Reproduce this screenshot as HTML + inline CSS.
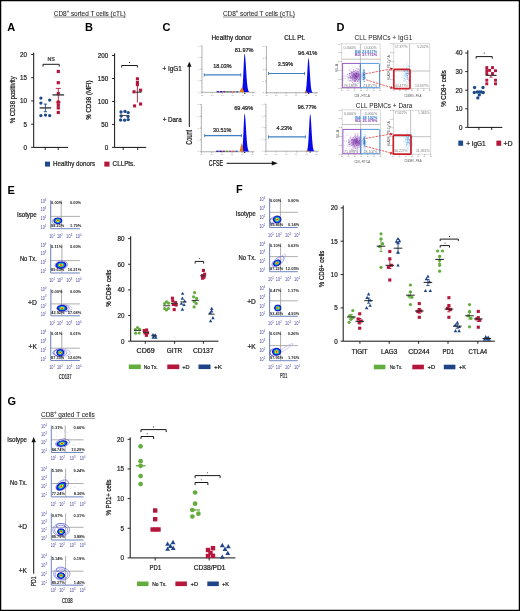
<!DOCTYPE html><html><head><meta charset="utf-8"><style>html,body{margin:0;padding:0;background:#fff;}svg{display:block;font-family:"Liberation Sans",sans-serif;will-change:transform;}</style></head><body>
<svg width="520" height="611" viewBox="0 0 520 611">
<defs><radialGradient id="blob" cx="50%" cy="50%" r="50%"><stop offset="0" stop-color="#e4101a"/><stop offset="0.14" stop-color="#f05a12"/><stop offset="0.26" stop-color="#eedc1c"/><stop offset="0.40" stop-color="#38c038"/><stop offset="0.52" stop-color="#14b4e6"/><stop offset="0.64" stop-color="#1638e4"/><stop offset="0.84" stop-color="#1414c4"/><stop offset="1" stop-color="#3a3ad0" stop-opacity="0.35"/></radialGradient><radialGradient id="purp" cx="50%" cy="50%" r="50%"><stop offset="0" stop-color="#7a2aa8" stop-opacity="0.95"/><stop offset="0.45" stop-color="#8d4ab8" stop-opacity="0.7"/><stop offset="1" stop-color="#b48ad0" stop-opacity="0"/></radialGradient><radialGradient id="lblue" cx="50%" cy="50%" r="50%"><stop offset="0" stop-color="#2a86d6" stop-opacity="0.95"/><stop offset="0.5" stop-color="#4a9ae0" stop-opacity="0.6"/><stop offset="1" stop-color="#8cc0ee" stop-opacity="0"/></radialGradient></defs>
<rect x="0.00" y="0.00" width="520.00" height="611.00" fill="#fff" stroke="none" stroke-width="1.00"/>
<text x="7.20" y="30.80" font-size="11" font-weight="bold" fill="#000">A</text>
<text x="85.00" y="30.60" font-size="11" font-weight="bold" fill="#000">B</text>
<text x="162.40" y="30.60" font-size="11" font-weight="bold" fill="#000">C</text>
<text x="336.60" y="30.80" font-size="11" font-weight="bold" fill="#000">D</text>
<text x="7.60" y="193.50" font-size="11" font-weight="bold" fill="#000">E</text>
<text x="236.00" y="193.40" font-size="11" font-weight="bold" fill="#000">F</text>
<text x="7.60" y="405.20" font-size="11" font-weight="bold" fill="#000">G</text>
<text x="53.80" y="16.09" font-size="7.00" fill="#2a2a2a" stroke="#2a2a2a" stroke-width="0.08" textLength="71.80" lengthAdjust="spacingAndGlyphs">CD8<tspan font-size="4.6" dy="-3.0">+</tspan><tspan dy="3.0"> sorted T cells (cTL)</tspan></text>
<line x1="53.80" y1="17.00" x2="125.60" y2="17.00" stroke="#666" stroke-width="0.70"/>
<line x1="33.70" y1="52.60" x2="33.70" y2="147.40" stroke="#111" stroke-width="1.00"/>
<line x1="31.10" y1="54.50" x2="33.70" y2="54.50" stroke="#111" stroke-width="0.90"/>
<text x="27.10" y="56.99" font-size="7.00" text-anchor="end" fill="#222" stroke="#222" stroke-width="0.22" textLength="7.00" lengthAdjust="spacingAndGlyphs">20</text>
<line x1="31.10" y1="77.73" x2="33.70" y2="77.73" stroke="#111" stroke-width="0.90"/>
<text x="27.10" y="80.21" font-size="7.00" text-anchor="end" fill="#222" stroke="#222" stroke-width="0.22" textLength="7.00" lengthAdjust="spacingAndGlyphs">15</text>
<line x1="31.10" y1="100.95" x2="33.70" y2="100.95" stroke="#111" stroke-width="0.90"/>
<text x="27.10" y="103.44" font-size="7.00" text-anchor="end" fill="#222" stroke="#222" stroke-width="0.22" textLength="7.00" lengthAdjust="spacingAndGlyphs">10</text>
<line x1="31.10" y1="124.18" x2="33.70" y2="124.18" stroke="#111" stroke-width="0.90"/>
<text x="27.10" y="126.66" font-size="7.00" text-anchor="end" fill="#222" stroke="#222" stroke-width="0.22" textLength="3.50" lengthAdjust="spacingAndGlyphs">5</text>
<line x1="31.10" y1="147.40" x2="33.70" y2="147.40" stroke="#111" stroke-width="0.90"/>
<text x="27.10" y="149.89" font-size="7.00" text-anchor="end" fill="#222" stroke="#222" stroke-width="0.22" textLength="3.50" lengthAdjust="spacingAndGlyphs">0</text>
<line x1="33.70" y1="147.40" x2="68.00" y2="147.40" stroke="#111" stroke-width="1.00"/>
<line x1="45.20" y1="147.40" x2="45.20" y2="150.00" stroke="#111" stroke-width="0.90"/>
<line x1="58.20" y1="147.40" x2="58.20" y2="150.00" stroke="#111" stroke-width="0.90"/>
<text transform="translate(11.80 99.80) rotate(-90)" x="0" y="2.70" font-size="7.60" text-anchor="middle" fill="#111" stroke="#111" stroke-width="0.22" textLength="47.00" lengthAdjust="spacingAndGlyphs">% CD38 positivity</text>
<path d="M43.00 66.60L43.00 64.30L59.20 64.30L59.20 66.60" fill="none" stroke="#1a1a1a" stroke-width="1.00"/>
<text x="51.10" y="61.48" font-size="5.30" text-anchor="middle" fill="#333" stroke="#333" stroke-width="0.22">NS</text>
<circle cx="40.90" cy="98.10" r="1.65" fill="#1d4a8a"/>
<circle cx="49.70" cy="100.10" r="1.65" fill="#1d4a8a"/>
<circle cx="40.90" cy="103.10" r="1.65" fill="#1d4a8a"/>
<circle cx="40.90" cy="115.60" r="1.65" fill="#1d4a8a"/>
<circle cx="45.50" cy="115.10" r="1.65" fill="#1d4a8a"/>
<circle cx="49.70" cy="115.60" r="1.65" fill="#1d4a8a"/>
<line x1="45.40" y1="104.10" x2="45.40" y2="111.70" stroke="#1d4a8a" stroke-width="0.90"/>
<line x1="43.80" y1="104.10" x2="47.00" y2="104.10" stroke="#1d4a8a" stroke-width="0.90"/>
<line x1="43.80" y1="111.70" x2="47.00" y2="111.70" stroke="#1d4a8a" stroke-width="0.90"/>
<line x1="39.60" y1="107.90" x2="51.20" y2="107.90" stroke="#3a3a3a" stroke-width="1.40"/>
<rect x="56.70" y="69.90" width="3.20" height="3.20" fill="#b4163c"/>
<rect x="56.70" y="81.10" width="3.20" height="3.20" fill="#b4163c"/>
<rect x="56.70" y="92.00" width="3.20" height="3.20" fill="#b4163c"/>
<rect x="56.70" y="100.50" width="3.20" height="3.20" fill="#b4163c"/>
<rect x="56.70" y="103.40" width="3.20" height="3.20" fill="#b4163c"/>
<rect x="56.70" y="106.30" width="3.20" height="3.20" fill="#b4163c"/>
<rect x="56.70" y="110.90" width="3.20" height="3.20" fill="#b4163c"/>
<line x1="58.30" y1="88.40" x2="58.30" y2="102.10" stroke="#b4163c" stroke-width="0.90"/>
<line x1="55.80" y1="88.40" x2="60.80" y2="88.40" stroke="#b4163c" stroke-width="0.90"/>
<line x1="55.80" y1="102.10" x2="60.80" y2="102.10" stroke="#b4163c" stroke-width="0.90"/>
<line x1="52.50" y1="94.90" x2="64.10" y2="94.90" stroke="#3a3a3a" stroke-width="1.40"/>
<rect x="45.00" y="161.60" width="5.00" height="5.00" fill="#1d4a8a" stroke="none" stroke-width="1.00"/>
<text x="53.10" y="166.49" font-size="7.00" fill="#222" stroke="#222" stroke-width="0.22" textLength="42.00" lengthAdjust="spacingAndGlyphs">Healthy donors</text>
<rect x="104.30" y="161.60" width="5.20" height="5.00" fill="#b4163c" stroke="none" stroke-width="1.00"/>
<text x="112.60" y="166.49" font-size="7.00" fill="#222" stroke="#222" stroke-width="0.22" textLength="22.40" lengthAdjust="spacingAndGlyphs">CLLPts.</text>
<line x1="114.60" y1="53.40" x2="114.60" y2="147.40" stroke="#111" stroke-width="1.00"/>
<line x1="112.00" y1="55.50" x2="114.60" y2="55.50" stroke="#111" stroke-width="0.90"/>
<text x="108.20" y="57.98" font-size="7.00" text-anchor="end" fill="#222" stroke="#222" stroke-width="0.22" textLength="10.50" lengthAdjust="spacingAndGlyphs">200</text>
<line x1="112.00" y1="78.48" x2="114.60" y2="78.48" stroke="#111" stroke-width="0.90"/>
<text x="108.20" y="80.96" font-size="7.00" text-anchor="end" fill="#222" stroke="#222" stroke-width="0.22" textLength="10.50" lengthAdjust="spacingAndGlyphs">150</text>
<line x1="112.00" y1="101.45" x2="114.60" y2="101.45" stroke="#111" stroke-width="0.90"/>
<text x="108.20" y="103.94" font-size="7.00" text-anchor="end" fill="#222" stroke="#222" stroke-width="0.22" textLength="10.50" lengthAdjust="spacingAndGlyphs">100</text>
<line x1="112.00" y1="124.43" x2="114.60" y2="124.43" stroke="#111" stroke-width="0.90"/>
<text x="108.20" y="126.91" font-size="7.00" text-anchor="end" fill="#222" stroke="#222" stroke-width="0.22" textLength="7.00" lengthAdjust="spacingAndGlyphs">50</text>
<line x1="112.00" y1="147.40" x2="114.60" y2="147.40" stroke="#111" stroke-width="0.90"/>
<text x="108.20" y="149.89" font-size="7.00" text-anchor="end" fill="#222" stroke="#222" stroke-width="0.22" textLength="3.50" lengthAdjust="spacingAndGlyphs">0</text>
<line x1="114.60" y1="147.40" x2="146.20" y2="147.40" stroke="#111" stroke-width="1.00"/>
<line x1="123.20" y1="147.40" x2="123.20" y2="150.00" stroke="#111" stroke-width="0.90"/>
<line x1="137.70" y1="147.40" x2="137.70" y2="150.00" stroke="#111" stroke-width="0.90"/>
<text transform="translate(88.20 100.10) rotate(-90)" x="0" y="2.70" font-size="7.60" text-anchor="middle" fill="#111" stroke="#111" stroke-width="0.22" textLength="39.40" lengthAdjust="spacingAndGlyphs">% CD38 (MFI)</text>
<path d="M121.70 67.50L121.70 65.50L137.40 65.50L137.40 67.50" fill="none" stroke="#1a1a1a" stroke-width="1.00"/>
<circle cx="129.50" cy="62.40" r="0.55" fill="#222"/>
<circle cx="121.00" cy="112.00" r="1.65" fill="#1d4a8a"/>
<circle cx="125.00" cy="111.40" r="1.65" fill="#1d4a8a"/>
<circle cx="128.20" cy="112.60" r="1.65" fill="#1d4a8a"/>
<circle cx="121.20" cy="116.00" r="1.65" fill="#1d4a8a"/>
<circle cx="128.00" cy="116.40" r="1.65" fill="#1d4a8a"/>
<circle cx="120.60" cy="120.00" r="1.65" fill="#1d4a8a"/>
<circle cx="124.60" cy="120.20" r="1.65" fill="#1d4a8a"/>
<circle cx="128.20" cy="119.60" r="1.65" fill="#1d4a8a"/>
<line x1="119.50" y1="115.60" x2="128.50" y2="115.60" stroke="#444" stroke-width="1.00"/>
<line x1="137.40" y1="84.00" x2="137.40" y2="102.50" stroke="#b4163c" stroke-width="0.90"/>
<rect x="135.85" y="77.25" width="3.10" height="3.10" fill="#b4163c"/>
<rect x="135.85" y="80.95" width="3.10" height="3.10" fill="#b4163c"/>
<rect x="135.85" y="83.05" width="3.10" height="3.10" fill="#b4163c"/>
<rect x="132.45" y="90.25" width="3.10" height="3.10" fill="#b4163c"/>
<rect x="139.05" y="88.65" width="3.10" height="3.10" fill="#b4163c"/>
<rect x="133.05" y="104.35" width="3.10" height="3.10" fill="#b4163c"/>
<rect x="139.05" y="102.45" width="3.10" height="3.10" fill="#b4163c"/>
<line x1="135.50" y1="92.20" x2="141.50" y2="92.20" stroke="#222" stroke-width="1.00"/>
<text x="222.90" y="16.09" font-size="7.00" fill="#2a2a2a" stroke="#2a2a2a" stroke-width="0.08" textLength="72.00" lengthAdjust="spacingAndGlyphs">CD8<tspan font-size="4.6" dy="-3.0">+</tspan><tspan dy="3.0"> sorted T cells (cTL)</tspan></text>
<line x1="222.90" y1="17.00" x2="294.90" y2="17.00" stroke="#666" stroke-width="0.70"/>
<text x="211.50" y="39.61" font-size="6.50" fill="#222" stroke="#222" stroke-width="0.22" textLength="39.80" lengthAdjust="spacingAndGlyphs">Healthy donor</text>
<text x="284.20" y="39.61" font-size="6.50" fill="#222" stroke="#222" stroke-width="0.22" textLength="20.80" lengthAdjust="spacingAndGlyphs">CLL Pt.</text>
<text x="162.50" y="71.31" font-size="6.50" fill="#222" stroke="#222" stroke-width="0.22" textLength="19.20" lengthAdjust="spacingAndGlyphs">+ IgG1</text>
<text x="162.70" y="122.31" font-size="6.50" fill="#222" stroke="#222" stroke-width="0.22" textLength="19.00" lengthAdjust="spacingAndGlyphs">+ Dara</text>
<line x1="189.30" y1="65.00" x2="189.30" y2="127.00" stroke="#111" stroke-width="1.00"/>
<path d="M189.3 61.8L191.5 66.8L187.1 66.8Z" fill="#111" stroke="none" stroke-width="1.00"/>
<text transform="translate(189.20 137.30) rotate(-90)" x="0" y="2.98" font-size="8.40" text-anchor="middle" fill="#111" stroke="#111" stroke-width="0.22" textLength="14.80" lengthAdjust="spacingAndGlyphs">Count</text>
<text x="208.80" y="166.08" font-size="8.40" fill="#111" stroke="#111" stroke-width="0.22" textLength="14.20" lengthAdjust="spacingAndGlyphs">CFSE</text>
<line x1="226.60" y1="163.30" x2="272.50" y2="163.30" stroke="#111" stroke-width="1.00"/>
<path d="M277.8 163.3L271.8 161.0L271.8 165.6Z" fill="#111" stroke="none" stroke-width="1.00"/>
<line x1="202.00" y1="45.80" x2="202.00" y2="92.30" stroke="#9a9a9a" stroke-width="0.70"/>
<line x1="202.00" y1="92.30" x2="255.00" y2="92.30" stroke="#9a9a9a" stroke-width="0.70"/>
<line x1="200.40" y1="45.80" x2="202.00" y2="45.80" stroke="#8a8a8a" stroke-width="0.60"/>
<text x="199.40" y="46.58" font-size="2.20" text-anchor="end" fill="#777">1</text>
<line x1="200.40" y1="57.42" x2="202.00" y2="57.42" stroke="#8a8a8a" stroke-width="0.60"/>
<text x="199.40" y="58.21" font-size="2.20" text-anchor="end" fill="#777">1</text>
<line x1="200.40" y1="69.05" x2="202.00" y2="69.05" stroke="#8a8a8a" stroke-width="0.60"/>
<text x="199.40" y="69.83" font-size="2.20" text-anchor="end" fill="#777">1</text>
<line x1="200.40" y1="80.67" x2="202.00" y2="80.67" stroke="#8a8a8a" stroke-width="0.60"/>
<text x="199.40" y="81.46" font-size="2.20" text-anchor="end" fill="#777">1</text>
<line x1="200.40" y1="92.30" x2="202.00" y2="92.30" stroke="#8a8a8a" stroke-width="0.60"/>
<text x="199.40" y="93.08" font-size="2.20" text-anchor="end" fill="#777">1</text>
<line x1="201.20" y1="48.12" x2="202.00" y2="48.12" stroke="#b0b0b0" stroke-width="0.40"/>
<line x1="201.20" y1="50.45" x2="202.00" y2="50.45" stroke="#b0b0b0" stroke-width="0.40"/>
<line x1="201.20" y1="52.77" x2="202.00" y2="52.77" stroke="#b0b0b0" stroke-width="0.40"/>
<line x1="201.20" y1="55.10" x2="202.00" y2="55.10" stroke="#b0b0b0" stroke-width="0.40"/>
<line x1="201.20" y1="57.42" x2="202.00" y2="57.42" stroke="#b0b0b0" stroke-width="0.40"/>
<line x1="201.20" y1="59.75" x2="202.00" y2="59.75" stroke="#b0b0b0" stroke-width="0.40"/>
<line x1="201.20" y1="62.07" x2="202.00" y2="62.07" stroke="#b0b0b0" stroke-width="0.40"/>
<line x1="201.20" y1="64.40" x2="202.00" y2="64.40" stroke="#b0b0b0" stroke-width="0.40"/>
<line x1="201.20" y1="66.72" x2="202.00" y2="66.72" stroke="#b0b0b0" stroke-width="0.40"/>
<line x1="201.20" y1="69.05" x2="202.00" y2="69.05" stroke="#b0b0b0" stroke-width="0.40"/>
<line x1="201.20" y1="71.38" x2="202.00" y2="71.38" stroke="#b0b0b0" stroke-width="0.40"/>
<line x1="201.20" y1="73.70" x2="202.00" y2="73.70" stroke="#b0b0b0" stroke-width="0.40"/>
<line x1="201.20" y1="76.03" x2="202.00" y2="76.03" stroke="#b0b0b0" stroke-width="0.40"/>
<line x1="201.20" y1="78.35" x2="202.00" y2="78.35" stroke="#b0b0b0" stroke-width="0.40"/>
<line x1="201.20" y1="80.67" x2="202.00" y2="80.67" stroke="#b0b0b0" stroke-width="0.40"/>
<line x1="201.20" y1="83.00" x2="202.00" y2="83.00" stroke="#b0b0b0" stroke-width="0.40"/>
<line x1="201.20" y1="85.32" x2="202.00" y2="85.32" stroke="#b0b0b0" stroke-width="0.40"/>
<line x1="201.20" y1="87.65" x2="202.00" y2="87.65" stroke="#b0b0b0" stroke-width="0.40"/>
<line x1="201.20" y1="89.97" x2="202.00" y2="89.97" stroke="#b0b0b0" stroke-width="0.40"/>
<line x1="202.00" y1="92.30" x2="202.00" y2="93.70" stroke="#8a8a8a" stroke-width="0.60"/>
<text x="202.00" y="95.61" font-size="2.00" text-anchor="middle" fill="#888">10</text>
<line x1="212.20" y1="92.30" x2="212.20" y2="93.70" stroke="#8a8a8a" stroke-width="0.60"/>
<text x="212.20" y="95.61" font-size="2.00" text-anchor="middle" fill="#888">10</text>
<line x1="222.40" y1="92.30" x2="222.40" y2="93.70" stroke="#8a8a8a" stroke-width="0.60"/>
<text x="222.40" y="95.61" font-size="2.00" text-anchor="middle" fill="#888">10</text>
<line x1="232.60" y1="92.30" x2="232.60" y2="93.70" stroke="#8a8a8a" stroke-width="0.60"/>
<text x="232.60" y="95.61" font-size="2.00" text-anchor="middle" fill="#888">10</text>
<line x1="242.80" y1="92.30" x2="242.80" y2="93.70" stroke="#8a8a8a" stroke-width="0.60"/>
<text x="242.80" y="95.61" font-size="2.00" text-anchor="middle" fill="#888">10</text>
<line x1="253.00" y1="92.30" x2="253.00" y2="93.70" stroke="#8a8a8a" stroke-width="0.60"/>
<text x="253.00" y="95.61" font-size="2.00" text-anchor="middle" fill="#888">10</text>
<line x1="203.77" y1="92.30" x2="203.77" y2="93.00" stroke="#b0b0b0" stroke-width="0.40"/>
<line x1="205.53" y1="92.30" x2="205.53" y2="93.00" stroke="#b0b0b0" stroke-width="0.40"/>
<line x1="207.30" y1="92.30" x2="207.30" y2="93.00" stroke="#b0b0b0" stroke-width="0.40"/>
<line x1="209.07" y1="92.30" x2="209.07" y2="93.00" stroke="#b0b0b0" stroke-width="0.40"/>
<line x1="210.83" y1="92.30" x2="210.83" y2="93.00" stroke="#b0b0b0" stroke-width="0.40"/>
<line x1="212.60" y1="92.30" x2="212.60" y2="93.00" stroke="#b0b0b0" stroke-width="0.40"/>
<line x1="214.37" y1="92.30" x2="214.37" y2="93.00" stroke="#b0b0b0" stroke-width="0.40"/>
<line x1="216.13" y1="92.30" x2="216.13" y2="93.00" stroke="#b0b0b0" stroke-width="0.40"/>
<line x1="217.90" y1="92.30" x2="217.90" y2="93.00" stroke="#b0b0b0" stroke-width="0.40"/>
<line x1="219.67" y1="92.30" x2="219.67" y2="93.00" stroke="#b0b0b0" stroke-width="0.40"/>
<line x1="221.43" y1="92.30" x2="221.43" y2="93.00" stroke="#b0b0b0" stroke-width="0.40"/>
<line x1="223.20" y1="92.30" x2="223.20" y2="93.00" stroke="#b0b0b0" stroke-width="0.40"/>
<line x1="224.97" y1="92.30" x2="224.97" y2="93.00" stroke="#b0b0b0" stroke-width="0.40"/>
<line x1="226.73" y1="92.30" x2="226.73" y2="93.00" stroke="#b0b0b0" stroke-width="0.40"/>
<line x1="228.50" y1="92.30" x2="228.50" y2="93.00" stroke="#b0b0b0" stroke-width="0.40"/>
<line x1="230.27" y1="92.30" x2="230.27" y2="93.00" stroke="#b0b0b0" stroke-width="0.40"/>
<line x1="232.03" y1="92.30" x2="232.03" y2="93.00" stroke="#b0b0b0" stroke-width="0.40"/>
<line x1="233.80" y1="92.30" x2="233.80" y2="93.00" stroke="#b0b0b0" stroke-width="0.40"/>
<line x1="235.57" y1="92.30" x2="235.57" y2="93.00" stroke="#b0b0b0" stroke-width="0.40"/>
<line x1="237.33" y1="92.30" x2="237.33" y2="93.00" stroke="#b0b0b0" stroke-width="0.40"/>
<line x1="239.10" y1="92.30" x2="239.10" y2="93.00" stroke="#b0b0b0" stroke-width="0.40"/>
<line x1="240.87" y1="92.30" x2="240.87" y2="93.00" stroke="#b0b0b0" stroke-width="0.40"/>
<line x1="242.63" y1="92.30" x2="242.63" y2="93.00" stroke="#b0b0b0" stroke-width="0.40"/>
<line x1="244.40" y1="92.30" x2="244.40" y2="93.00" stroke="#b0b0b0" stroke-width="0.40"/>
<line x1="246.17" y1="92.30" x2="246.17" y2="93.00" stroke="#b0b0b0" stroke-width="0.40"/>
<line x1="247.93" y1="92.30" x2="247.93" y2="93.00" stroke="#b0b0b0" stroke-width="0.40"/>
<line x1="249.70" y1="92.30" x2="249.70" y2="93.00" stroke="#b0b0b0" stroke-width="0.40"/>
<line x1="251.47" y1="92.30" x2="251.47" y2="93.00" stroke="#b0b0b0" stroke-width="0.40"/>
<line x1="253.23" y1="92.30" x2="253.23" y2="93.00" stroke="#b0b0b0" stroke-width="0.40"/>
<ellipse cx="218.00" cy="91.80" rx="1.6" ry="0.7" fill="#3a1a9a"/>
<ellipse cx="221.20" cy="91.80" rx="1.6" ry="0.7" fill="#1a1a8a"/>
<ellipse cx="224.40" cy="91.80" rx="1.6" ry="0.7" fill="#8a1a6a"/>
<ellipse cx="227.60" cy="91.80" rx="1.6" ry="0.7" fill="#3a9a3a"/>
<ellipse cx="230.80" cy="91.80" rx="1.6" ry="0.7" fill="#9a3aaa"/>
<ellipse cx="234.00" cy="91.80" rx="1.6" ry="0.7" fill="#c06020"/>
<ellipse cx="237.20" cy="91.80" rx="1.6" ry="0.7" fill="#3a60c0"/>
<path d="M241.24 92.00L241.24 91.77L241.38 91.65L241.52 91.48L241.66 91.24L241.80 90.91L241.94 90.45L242.08 89.85L242.22 89.07L242.36 88.07L242.50 86.82L242.64 85.29L242.78 83.47L242.92 81.35L243.06 78.94L243.20 76.25L243.34 73.36L243.48 70.32L243.62 67.22L243.76 64.19L243.90 61.33L244.04 58.78L244.18 56.64L244.32 55.04L244.46 54.04L244.60 53.70L244.79 54.04L244.99 55.04L245.18 56.64L245.37 58.78L245.57 61.33L245.76 64.19L245.95 67.22L246.15 70.32L246.34 73.36L246.53 76.25L246.73 78.94L246.92 81.35L247.11 83.47L247.31 85.29L247.50 86.82L247.69 88.07L247.89 89.07L248.08 89.85L248.27 90.45L248.47 90.91L248.66 91.24L248.85 91.48L249.05 91.65L249.24 91.77L249.24 92.00Z" fill="#0a0ae6" stroke="none" stroke-width="1.00"/>
<path d="M239.2 92.0 C240.2 90.5 241.2 88 242.0 87.2 C242.8 88.5 243.5 90.5 244.2 92.0Z" fill="#e8780e" stroke="none" stroke-width="1.00"/>
<ellipse cx="244.80" cy="93.10" rx="0.8" ry="0.6" fill="#111"/>
<line x1="204.20" y1="74.90" x2="240.80" y2="74.90" stroke="#3f7fc6" stroke-width="1.10"/>
<line x1="204.20" y1="73.30" x2="204.20" y2="76.50" stroke="#3f7fc6" stroke-width="0.90"/>
<line x1="240.80" y1="73.30" x2="240.80" y2="76.50" stroke="#3f7fc6" stroke-width="0.90"/>
<text x="213.20" y="67.53" font-size="6.00" fill="#222" stroke="#222" stroke-width="0.22" textLength="18.40" lengthAdjust="spacingAndGlyphs">18.03%</text>
<text x="234.70" y="52.13" font-size="6.00" fill="#222" stroke="#222" stroke-width="0.22" textLength="18.80" lengthAdjust="spacingAndGlyphs">81.97%</text>
<line x1="266.50" y1="46.50" x2="266.50" y2="92.70" stroke="#9a9a9a" stroke-width="0.70"/>
<line x1="266.50" y1="92.70" x2="317.80" y2="92.70" stroke="#9a9a9a" stroke-width="0.70"/>
<line x1="264.90" y1="46.50" x2="266.50" y2="46.50" stroke="#8a8a8a" stroke-width="0.60"/>
<text x="263.90" y="47.28" font-size="2.20" text-anchor="end" fill="#777">1</text>
<line x1="264.90" y1="58.05" x2="266.50" y2="58.05" stroke="#8a8a8a" stroke-width="0.60"/>
<text x="263.90" y="58.83" font-size="2.20" text-anchor="end" fill="#777">1</text>
<line x1="264.90" y1="69.60" x2="266.50" y2="69.60" stroke="#8a8a8a" stroke-width="0.60"/>
<text x="263.90" y="70.38" font-size="2.20" text-anchor="end" fill="#777">1</text>
<line x1="264.90" y1="81.15" x2="266.50" y2="81.15" stroke="#8a8a8a" stroke-width="0.60"/>
<text x="263.90" y="81.93" font-size="2.20" text-anchor="end" fill="#777">1</text>
<line x1="264.90" y1="92.70" x2="266.50" y2="92.70" stroke="#8a8a8a" stroke-width="0.60"/>
<text x="263.90" y="93.48" font-size="2.20" text-anchor="end" fill="#777">1</text>
<line x1="265.70" y1="48.81" x2="266.50" y2="48.81" stroke="#b0b0b0" stroke-width="0.40"/>
<line x1="265.70" y1="51.12" x2="266.50" y2="51.12" stroke="#b0b0b0" stroke-width="0.40"/>
<line x1="265.70" y1="53.43" x2="266.50" y2="53.43" stroke="#b0b0b0" stroke-width="0.40"/>
<line x1="265.70" y1="55.74" x2="266.50" y2="55.74" stroke="#b0b0b0" stroke-width="0.40"/>
<line x1="265.70" y1="58.05" x2="266.50" y2="58.05" stroke="#b0b0b0" stroke-width="0.40"/>
<line x1="265.70" y1="60.36" x2="266.50" y2="60.36" stroke="#b0b0b0" stroke-width="0.40"/>
<line x1="265.70" y1="62.67" x2="266.50" y2="62.67" stroke="#b0b0b0" stroke-width="0.40"/>
<line x1="265.70" y1="64.98" x2="266.50" y2="64.98" stroke="#b0b0b0" stroke-width="0.40"/>
<line x1="265.70" y1="67.29" x2="266.50" y2="67.29" stroke="#b0b0b0" stroke-width="0.40"/>
<line x1="265.70" y1="69.60" x2="266.50" y2="69.60" stroke="#b0b0b0" stroke-width="0.40"/>
<line x1="265.70" y1="71.91" x2="266.50" y2="71.91" stroke="#b0b0b0" stroke-width="0.40"/>
<line x1="265.70" y1="74.22" x2="266.50" y2="74.22" stroke="#b0b0b0" stroke-width="0.40"/>
<line x1="265.70" y1="76.53" x2="266.50" y2="76.53" stroke="#b0b0b0" stroke-width="0.40"/>
<line x1="265.70" y1="78.84" x2="266.50" y2="78.84" stroke="#b0b0b0" stroke-width="0.40"/>
<line x1="265.70" y1="81.15" x2="266.50" y2="81.15" stroke="#b0b0b0" stroke-width="0.40"/>
<line x1="265.70" y1="83.46" x2="266.50" y2="83.46" stroke="#b0b0b0" stroke-width="0.40"/>
<line x1="265.70" y1="85.77" x2="266.50" y2="85.77" stroke="#b0b0b0" stroke-width="0.40"/>
<line x1="265.70" y1="88.08" x2="266.50" y2="88.08" stroke="#b0b0b0" stroke-width="0.40"/>
<line x1="265.70" y1="90.39" x2="266.50" y2="90.39" stroke="#b0b0b0" stroke-width="0.40"/>
<line x1="266.50" y1="92.70" x2="266.50" y2="94.10" stroke="#8a8a8a" stroke-width="0.60"/>
<text x="266.50" y="96.01" font-size="2.00" text-anchor="middle" fill="#888">10</text>
<line x1="276.36" y1="92.70" x2="276.36" y2="94.10" stroke="#8a8a8a" stroke-width="0.60"/>
<text x="276.36" y="96.01" font-size="2.00" text-anchor="middle" fill="#888">10</text>
<line x1="286.22" y1="92.70" x2="286.22" y2="94.10" stroke="#8a8a8a" stroke-width="0.60"/>
<text x="286.22" y="96.01" font-size="2.00" text-anchor="middle" fill="#888">10</text>
<line x1="296.08" y1="92.70" x2="296.08" y2="94.10" stroke="#8a8a8a" stroke-width="0.60"/>
<text x="296.08" y="96.01" font-size="2.00" text-anchor="middle" fill="#888">10</text>
<line x1="305.94" y1="92.70" x2="305.94" y2="94.10" stroke="#8a8a8a" stroke-width="0.60"/>
<text x="305.94" y="96.01" font-size="2.00" text-anchor="middle" fill="#888">10</text>
<line x1="315.80" y1="92.70" x2="315.80" y2="94.10" stroke="#8a8a8a" stroke-width="0.60"/>
<text x="315.80" y="96.01" font-size="2.00" text-anchor="middle" fill="#888">10</text>
<line x1="268.21" y1="92.70" x2="268.21" y2="93.40" stroke="#b0b0b0" stroke-width="0.40"/>
<line x1="269.92" y1="92.70" x2="269.92" y2="93.40" stroke="#b0b0b0" stroke-width="0.40"/>
<line x1="271.63" y1="92.70" x2="271.63" y2="93.40" stroke="#b0b0b0" stroke-width="0.40"/>
<line x1="273.34" y1="92.70" x2="273.34" y2="93.40" stroke="#b0b0b0" stroke-width="0.40"/>
<line x1="275.05" y1="92.70" x2="275.05" y2="93.40" stroke="#b0b0b0" stroke-width="0.40"/>
<line x1="276.76" y1="92.70" x2="276.76" y2="93.40" stroke="#b0b0b0" stroke-width="0.40"/>
<line x1="278.47" y1="92.70" x2="278.47" y2="93.40" stroke="#b0b0b0" stroke-width="0.40"/>
<line x1="280.18" y1="92.70" x2="280.18" y2="93.40" stroke="#b0b0b0" stroke-width="0.40"/>
<line x1="281.89" y1="92.70" x2="281.89" y2="93.40" stroke="#b0b0b0" stroke-width="0.40"/>
<line x1="283.60" y1="92.70" x2="283.60" y2="93.40" stroke="#b0b0b0" stroke-width="0.40"/>
<line x1="285.31" y1="92.70" x2="285.31" y2="93.40" stroke="#b0b0b0" stroke-width="0.40"/>
<line x1="287.02" y1="92.70" x2="287.02" y2="93.40" stroke="#b0b0b0" stroke-width="0.40"/>
<line x1="288.73" y1="92.70" x2="288.73" y2="93.40" stroke="#b0b0b0" stroke-width="0.40"/>
<line x1="290.44" y1="92.70" x2="290.44" y2="93.40" stroke="#b0b0b0" stroke-width="0.40"/>
<line x1="292.15" y1="92.70" x2="292.15" y2="93.40" stroke="#b0b0b0" stroke-width="0.40"/>
<line x1="293.86" y1="92.70" x2="293.86" y2="93.40" stroke="#b0b0b0" stroke-width="0.40"/>
<line x1="295.57" y1="92.70" x2="295.57" y2="93.40" stroke="#b0b0b0" stroke-width="0.40"/>
<line x1="297.28" y1="92.70" x2="297.28" y2="93.40" stroke="#b0b0b0" stroke-width="0.40"/>
<line x1="298.99" y1="92.70" x2="298.99" y2="93.40" stroke="#b0b0b0" stroke-width="0.40"/>
<line x1="300.70" y1="92.70" x2="300.70" y2="93.40" stroke="#b0b0b0" stroke-width="0.40"/>
<line x1="302.41" y1="92.70" x2="302.41" y2="93.40" stroke="#b0b0b0" stroke-width="0.40"/>
<line x1="304.12" y1="92.70" x2="304.12" y2="93.40" stroke="#b0b0b0" stroke-width="0.40"/>
<line x1="305.83" y1="92.70" x2="305.83" y2="93.40" stroke="#b0b0b0" stroke-width="0.40"/>
<line x1="307.54" y1="92.70" x2="307.54" y2="93.40" stroke="#b0b0b0" stroke-width="0.40"/>
<line x1="309.25" y1="92.70" x2="309.25" y2="93.40" stroke="#b0b0b0" stroke-width="0.40"/>
<line x1="310.96" y1="92.70" x2="310.96" y2="93.40" stroke="#b0b0b0" stroke-width="0.40"/>
<line x1="312.67" y1="92.70" x2="312.67" y2="93.40" stroke="#b0b0b0" stroke-width="0.40"/>
<line x1="314.38" y1="92.70" x2="314.38" y2="93.40" stroke="#b0b0b0" stroke-width="0.40"/>
<line x1="316.09" y1="92.70" x2="316.09" y2="93.40" stroke="#b0b0b0" stroke-width="0.40"/>
<path d="M304.82 92.70L304.82 92.49L304.97 92.39L305.13 92.23L305.28 92.01L305.43 91.71L305.59 91.30L305.74 90.76L305.89 90.05L306.05 89.15L306.20 88.02L306.35 86.64L306.51 85.00L306.66 83.08L306.81 80.90L306.97 78.48L307.12 75.86L307.27 73.11L307.43 70.32L307.58 67.58L307.73 64.99L307.89 62.69L308.04 60.76L308.19 59.31L308.35 58.41L308.50 58.10L308.67 58.41L308.85 59.31L309.02 60.76L309.19 62.69L309.37 64.99L309.54 67.58L309.71 70.32L309.89 73.11L310.06 75.86L310.23 78.48L310.41 80.90L310.58 83.08L310.75 85.00L310.93 86.64L311.10 88.02L311.27 89.15L311.45 90.05L311.62 90.76L311.79 91.30L311.97 91.71L312.14 92.01L312.31 92.23L312.49 92.39L312.66 92.49L312.66 92.70Z" fill="#0a0ae6" stroke="none" stroke-width="1.00"/>
<path d="M304.6 92.7 C305.2 91.4 306 91 306.8 91.6 L307.2 92.7Z" fill="#e8780e" stroke="none" stroke-width="1.00"/>
<ellipse cx="308.60" cy="93.50" rx="0.8" ry="0.6" fill="#111"/>
<line x1="268.50" y1="73.50" x2="304.50" y2="73.50" stroke="#3f7fc6" stroke-width="1.10"/>
<line x1="268.50" y1="71.90" x2="268.50" y2="75.10" stroke="#3f7fc6" stroke-width="0.90"/>
<line x1="304.50" y1="71.90" x2="304.50" y2="75.10" stroke="#3f7fc6" stroke-width="0.90"/>
<text x="277.80" y="66.33" font-size="6.00" fill="#222" stroke="#222" stroke-width="0.22" textLength="15.40" lengthAdjust="spacingAndGlyphs">3.59%</text>
<text x="298.00" y="54.83" font-size="6.00" fill="#222" stroke="#222" stroke-width="0.22" textLength="19.30" lengthAdjust="spacingAndGlyphs">96.41%</text>
<line x1="201.40" y1="104.50" x2="201.40" y2="151.70" stroke="#9a9a9a" stroke-width="0.70"/>
<line x1="201.40" y1="151.70" x2="254.50" y2="151.70" stroke="#9a9a9a" stroke-width="0.70"/>
<line x1="199.80" y1="104.50" x2="201.40" y2="104.50" stroke="#8a8a8a" stroke-width="0.60"/>
<text x="198.80" y="105.28" font-size="2.20" text-anchor="end" fill="#777">1</text>
<line x1="199.80" y1="116.30" x2="201.40" y2="116.30" stroke="#8a8a8a" stroke-width="0.60"/>
<text x="198.80" y="117.08" font-size="2.20" text-anchor="end" fill="#777">1</text>
<line x1="199.80" y1="128.10" x2="201.40" y2="128.10" stroke="#8a8a8a" stroke-width="0.60"/>
<text x="198.80" y="128.88" font-size="2.20" text-anchor="end" fill="#777">1</text>
<line x1="199.80" y1="139.90" x2="201.40" y2="139.90" stroke="#8a8a8a" stroke-width="0.60"/>
<text x="198.80" y="140.68" font-size="2.20" text-anchor="end" fill="#777">1</text>
<line x1="199.80" y1="151.70" x2="201.40" y2="151.70" stroke="#8a8a8a" stroke-width="0.60"/>
<text x="198.80" y="152.48" font-size="2.20" text-anchor="end" fill="#777">1</text>
<line x1="200.60" y1="106.86" x2="201.40" y2="106.86" stroke="#b0b0b0" stroke-width="0.40"/>
<line x1="200.60" y1="109.22" x2="201.40" y2="109.22" stroke="#b0b0b0" stroke-width="0.40"/>
<line x1="200.60" y1="111.58" x2="201.40" y2="111.58" stroke="#b0b0b0" stroke-width="0.40"/>
<line x1="200.60" y1="113.94" x2="201.40" y2="113.94" stroke="#b0b0b0" stroke-width="0.40"/>
<line x1="200.60" y1="116.30" x2="201.40" y2="116.30" stroke="#b0b0b0" stroke-width="0.40"/>
<line x1="200.60" y1="118.66" x2="201.40" y2="118.66" stroke="#b0b0b0" stroke-width="0.40"/>
<line x1="200.60" y1="121.02" x2="201.40" y2="121.02" stroke="#b0b0b0" stroke-width="0.40"/>
<line x1="200.60" y1="123.38" x2="201.40" y2="123.38" stroke="#b0b0b0" stroke-width="0.40"/>
<line x1="200.60" y1="125.74" x2="201.40" y2="125.74" stroke="#b0b0b0" stroke-width="0.40"/>
<line x1="200.60" y1="128.10" x2="201.40" y2="128.10" stroke="#b0b0b0" stroke-width="0.40"/>
<line x1="200.60" y1="130.46" x2="201.40" y2="130.46" stroke="#b0b0b0" stroke-width="0.40"/>
<line x1="200.60" y1="132.82" x2="201.40" y2="132.82" stroke="#b0b0b0" stroke-width="0.40"/>
<line x1="200.60" y1="135.18" x2="201.40" y2="135.18" stroke="#b0b0b0" stroke-width="0.40"/>
<line x1="200.60" y1="137.54" x2="201.40" y2="137.54" stroke="#b0b0b0" stroke-width="0.40"/>
<line x1="200.60" y1="139.90" x2="201.40" y2="139.90" stroke="#b0b0b0" stroke-width="0.40"/>
<line x1="200.60" y1="142.26" x2="201.40" y2="142.26" stroke="#b0b0b0" stroke-width="0.40"/>
<line x1="200.60" y1="144.62" x2="201.40" y2="144.62" stroke="#b0b0b0" stroke-width="0.40"/>
<line x1="200.60" y1="146.98" x2="201.40" y2="146.98" stroke="#b0b0b0" stroke-width="0.40"/>
<line x1="200.60" y1="149.34" x2="201.40" y2="149.34" stroke="#b0b0b0" stroke-width="0.40"/>
<line x1="201.40" y1="151.70" x2="201.40" y2="153.10" stroke="#8a8a8a" stroke-width="0.60"/>
<text x="201.40" y="155.01" font-size="2.00" text-anchor="middle" fill="#888">10</text>
<line x1="211.62" y1="151.70" x2="211.62" y2="153.10" stroke="#8a8a8a" stroke-width="0.60"/>
<text x="211.62" y="155.01" font-size="2.00" text-anchor="middle" fill="#888">10</text>
<line x1="221.84" y1="151.70" x2="221.84" y2="153.10" stroke="#8a8a8a" stroke-width="0.60"/>
<text x="221.84" y="155.01" font-size="2.00" text-anchor="middle" fill="#888">10</text>
<line x1="232.06" y1="151.70" x2="232.06" y2="153.10" stroke="#8a8a8a" stroke-width="0.60"/>
<text x="232.06" y="155.01" font-size="2.00" text-anchor="middle" fill="#888">10</text>
<line x1="242.28" y1="151.70" x2="242.28" y2="153.10" stroke="#8a8a8a" stroke-width="0.60"/>
<text x="242.28" y="155.01" font-size="2.00" text-anchor="middle" fill="#888">10</text>
<line x1="252.50" y1="151.70" x2="252.50" y2="153.10" stroke="#8a8a8a" stroke-width="0.60"/>
<text x="252.50" y="155.01" font-size="2.00" text-anchor="middle" fill="#888">10</text>
<line x1="203.17" y1="151.70" x2="203.17" y2="152.40" stroke="#b0b0b0" stroke-width="0.40"/>
<line x1="204.94" y1="151.70" x2="204.94" y2="152.40" stroke="#b0b0b0" stroke-width="0.40"/>
<line x1="206.71" y1="151.70" x2="206.71" y2="152.40" stroke="#b0b0b0" stroke-width="0.40"/>
<line x1="208.48" y1="151.70" x2="208.48" y2="152.40" stroke="#b0b0b0" stroke-width="0.40"/>
<line x1="210.25" y1="151.70" x2="210.25" y2="152.40" stroke="#b0b0b0" stroke-width="0.40"/>
<line x1="212.02" y1="151.70" x2="212.02" y2="152.40" stroke="#b0b0b0" stroke-width="0.40"/>
<line x1="213.79" y1="151.70" x2="213.79" y2="152.40" stroke="#b0b0b0" stroke-width="0.40"/>
<line x1="215.56" y1="151.70" x2="215.56" y2="152.40" stroke="#b0b0b0" stroke-width="0.40"/>
<line x1="217.33" y1="151.70" x2="217.33" y2="152.40" stroke="#b0b0b0" stroke-width="0.40"/>
<line x1="219.10" y1="151.70" x2="219.10" y2="152.40" stroke="#b0b0b0" stroke-width="0.40"/>
<line x1="220.87" y1="151.70" x2="220.87" y2="152.40" stroke="#b0b0b0" stroke-width="0.40"/>
<line x1="222.64" y1="151.70" x2="222.64" y2="152.40" stroke="#b0b0b0" stroke-width="0.40"/>
<line x1="224.41" y1="151.70" x2="224.41" y2="152.40" stroke="#b0b0b0" stroke-width="0.40"/>
<line x1="226.18" y1="151.70" x2="226.18" y2="152.40" stroke="#b0b0b0" stroke-width="0.40"/>
<line x1="227.95" y1="151.70" x2="227.95" y2="152.40" stroke="#b0b0b0" stroke-width="0.40"/>
<line x1="229.72" y1="151.70" x2="229.72" y2="152.40" stroke="#b0b0b0" stroke-width="0.40"/>
<line x1="231.49" y1="151.70" x2="231.49" y2="152.40" stroke="#b0b0b0" stroke-width="0.40"/>
<line x1="233.26" y1="151.70" x2="233.26" y2="152.40" stroke="#b0b0b0" stroke-width="0.40"/>
<line x1="235.03" y1="151.70" x2="235.03" y2="152.40" stroke="#b0b0b0" stroke-width="0.40"/>
<line x1="236.80" y1="151.70" x2="236.80" y2="152.40" stroke="#b0b0b0" stroke-width="0.40"/>
<line x1="238.57" y1="151.70" x2="238.57" y2="152.40" stroke="#b0b0b0" stroke-width="0.40"/>
<line x1="240.34" y1="151.70" x2="240.34" y2="152.40" stroke="#b0b0b0" stroke-width="0.40"/>
<line x1="242.11" y1="151.70" x2="242.11" y2="152.40" stroke="#b0b0b0" stroke-width="0.40"/>
<line x1="243.88" y1="151.70" x2="243.88" y2="152.40" stroke="#b0b0b0" stroke-width="0.40"/>
<line x1="245.65" y1="151.70" x2="245.65" y2="152.40" stroke="#b0b0b0" stroke-width="0.40"/>
<line x1="247.42" y1="151.70" x2="247.42" y2="152.40" stroke="#b0b0b0" stroke-width="0.40"/>
<line x1="249.19" y1="151.70" x2="249.19" y2="152.40" stroke="#b0b0b0" stroke-width="0.40"/>
<line x1="250.96" y1="151.70" x2="250.96" y2="152.40" stroke="#b0b0b0" stroke-width="0.40"/>
<line x1="252.73" y1="151.70" x2="252.73" y2="152.40" stroke="#b0b0b0" stroke-width="0.40"/>
<ellipse cx="217.40" cy="151.20" rx="1.6" ry="0.7" fill="#3a1a9a"/>
<ellipse cx="220.60" cy="151.20" rx="1.6" ry="0.7" fill="#1a1a8a"/>
<ellipse cx="223.80" cy="151.20" rx="1.6" ry="0.7" fill="#8a1a6a"/>
<ellipse cx="227.00" cy="151.20" rx="1.6" ry="0.7" fill="#3a9a3a"/>
<ellipse cx="230.20" cy="151.20" rx="1.6" ry="0.7" fill="#9a3aaa"/>
<ellipse cx="233.40" cy="151.20" rx="1.6" ry="0.7" fill="#c06020"/>
<ellipse cx="236.60" cy="151.20" rx="1.6" ry="0.7" fill="#3a60c0"/>
<path d="M241.40 151.40L241.40 151.17L241.53 151.06L241.67 150.89L241.80 150.65L241.93 150.32L242.07 149.88L242.20 149.28L242.33 148.51L242.47 147.53L242.60 146.30L242.73 144.80L242.87 143.01L243.00 140.92L243.13 138.54L243.27 135.90L243.40 133.05L243.53 130.06L243.67 127.01L243.80 124.02L243.93 121.21L244.07 118.70L244.20 116.60L244.33 115.02L244.47 114.03L244.60 113.70L244.79 114.03L244.97 115.02L245.16 116.60L245.35 118.70L245.53 121.21L245.72 124.02L245.91 127.01L246.09 130.06L246.28 133.05L246.47 135.90L246.65 138.54L246.84 140.92L247.03 143.01L247.21 144.80L247.40 146.30L247.59 147.53L247.77 148.51L247.96 149.28L248.15 149.88L248.33 150.32L248.52 150.65L248.71 150.89L248.89 151.06L249.08 151.17L249.08 151.40Z" fill="#0a0ae6" stroke="none" stroke-width="1.00"/>
<path d="M239.6 151.4 C240.4 148.5 241.0 145 241.8 143.1 C242.5 145 243.0 148.5 243.4 151.4Z" fill="#e8780e" stroke="none" stroke-width="1.00"/>
<ellipse cx="244.60" cy="152.50" rx="0.8" ry="0.6" fill="#111"/>
<line x1="204.60" y1="135.60" x2="241.40" y2="135.60" stroke="#3f7fc6" stroke-width="1.10"/>
<line x1="204.60" y1="134.00" x2="204.60" y2="137.20" stroke="#3f7fc6" stroke-width="0.90"/>
<line x1="241.40" y1="134.00" x2="241.40" y2="137.20" stroke="#3f7fc6" stroke-width="0.90"/>
<text x="213.00" y="132.03" font-size="6.00" fill="#222" stroke="#222" stroke-width="0.22" textLength="18.40" lengthAdjust="spacingAndGlyphs">30.51%</text>
<text x="234.20" y="110.23" font-size="6.00" fill="#222" stroke="#222" stroke-width="0.22" textLength="19.00" lengthAdjust="spacingAndGlyphs">69.49%</text>
<line x1="266.00" y1="104.20" x2="266.00" y2="151.20" stroke="#9a9a9a" stroke-width="0.70"/>
<line x1="266.00" y1="151.20" x2="318.80" y2="151.20" stroke="#9a9a9a" stroke-width="0.70"/>
<line x1="264.40" y1="104.20" x2="266.00" y2="104.20" stroke="#8a8a8a" stroke-width="0.60"/>
<text x="263.40" y="104.98" font-size="2.20" text-anchor="end" fill="#777">1</text>
<line x1="264.40" y1="115.95" x2="266.00" y2="115.95" stroke="#8a8a8a" stroke-width="0.60"/>
<text x="263.40" y="116.73" font-size="2.20" text-anchor="end" fill="#777">1</text>
<line x1="264.40" y1="127.70" x2="266.00" y2="127.70" stroke="#8a8a8a" stroke-width="0.60"/>
<text x="263.40" y="128.48" font-size="2.20" text-anchor="end" fill="#777">1</text>
<line x1="264.40" y1="139.45" x2="266.00" y2="139.45" stroke="#8a8a8a" stroke-width="0.60"/>
<text x="263.40" y="140.23" font-size="2.20" text-anchor="end" fill="#777">1</text>
<line x1="264.40" y1="151.20" x2="266.00" y2="151.20" stroke="#8a8a8a" stroke-width="0.60"/>
<text x="263.40" y="151.98" font-size="2.20" text-anchor="end" fill="#777">1</text>
<line x1="265.20" y1="106.55" x2="266.00" y2="106.55" stroke="#b0b0b0" stroke-width="0.40"/>
<line x1="265.20" y1="108.90" x2="266.00" y2="108.90" stroke="#b0b0b0" stroke-width="0.40"/>
<line x1="265.20" y1="111.25" x2="266.00" y2="111.25" stroke="#b0b0b0" stroke-width="0.40"/>
<line x1="265.20" y1="113.60" x2="266.00" y2="113.60" stroke="#b0b0b0" stroke-width="0.40"/>
<line x1="265.20" y1="115.95" x2="266.00" y2="115.95" stroke="#b0b0b0" stroke-width="0.40"/>
<line x1="265.20" y1="118.30" x2="266.00" y2="118.30" stroke="#b0b0b0" stroke-width="0.40"/>
<line x1="265.20" y1="120.65" x2="266.00" y2="120.65" stroke="#b0b0b0" stroke-width="0.40"/>
<line x1="265.20" y1="123.00" x2="266.00" y2="123.00" stroke="#b0b0b0" stroke-width="0.40"/>
<line x1="265.20" y1="125.35" x2="266.00" y2="125.35" stroke="#b0b0b0" stroke-width="0.40"/>
<line x1="265.20" y1="127.70" x2="266.00" y2="127.70" stroke="#b0b0b0" stroke-width="0.40"/>
<line x1="265.20" y1="130.05" x2="266.00" y2="130.05" stroke="#b0b0b0" stroke-width="0.40"/>
<line x1="265.20" y1="132.40" x2="266.00" y2="132.40" stroke="#b0b0b0" stroke-width="0.40"/>
<line x1="265.20" y1="134.75" x2="266.00" y2="134.75" stroke="#b0b0b0" stroke-width="0.40"/>
<line x1="265.20" y1="137.10" x2="266.00" y2="137.10" stroke="#b0b0b0" stroke-width="0.40"/>
<line x1="265.20" y1="139.45" x2="266.00" y2="139.45" stroke="#b0b0b0" stroke-width="0.40"/>
<line x1="265.20" y1="141.80" x2="266.00" y2="141.80" stroke="#b0b0b0" stroke-width="0.40"/>
<line x1="265.20" y1="144.15" x2="266.00" y2="144.15" stroke="#b0b0b0" stroke-width="0.40"/>
<line x1="265.20" y1="146.50" x2="266.00" y2="146.50" stroke="#b0b0b0" stroke-width="0.40"/>
<line x1="265.20" y1="148.85" x2="266.00" y2="148.85" stroke="#b0b0b0" stroke-width="0.40"/>
<line x1="266.00" y1="151.20" x2="266.00" y2="152.60" stroke="#8a8a8a" stroke-width="0.60"/>
<text x="266.00" y="154.51" font-size="2.00" text-anchor="middle" fill="#888">10</text>
<line x1="276.16" y1="151.20" x2="276.16" y2="152.60" stroke="#8a8a8a" stroke-width="0.60"/>
<text x="276.16" y="154.51" font-size="2.00" text-anchor="middle" fill="#888">10</text>
<line x1="286.32" y1="151.20" x2="286.32" y2="152.60" stroke="#8a8a8a" stroke-width="0.60"/>
<text x="286.32" y="154.51" font-size="2.00" text-anchor="middle" fill="#888">10</text>
<line x1="296.48" y1="151.20" x2="296.48" y2="152.60" stroke="#8a8a8a" stroke-width="0.60"/>
<text x="296.48" y="154.51" font-size="2.00" text-anchor="middle" fill="#888">10</text>
<line x1="306.64" y1="151.20" x2="306.64" y2="152.60" stroke="#8a8a8a" stroke-width="0.60"/>
<text x="306.64" y="154.51" font-size="2.00" text-anchor="middle" fill="#888">10</text>
<line x1="316.80" y1="151.20" x2="316.80" y2="152.60" stroke="#8a8a8a" stroke-width="0.60"/>
<text x="316.80" y="154.51" font-size="2.00" text-anchor="middle" fill="#888">10</text>
<line x1="267.76" y1="151.20" x2="267.76" y2="151.90" stroke="#b0b0b0" stroke-width="0.40"/>
<line x1="269.52" y1="151.20" x2="269.52" y2="151.90" stroke="#b0b0b0" stroke-width="0.40"/>
<line x1="271.28" y1="151.20" x2="271.28" y2="151.90" stroke="#b0b0b0" stroke-width="0.40"/>
<line x1="273.04" y1="151.20" x2="273.04" y2="151.90" stroke="#b0b0b0" stroke-width="0.40"/>
<line x1="274.80" y1="151.20" x2="274.80" y2="151.90" stroke="#b0b0b0" stroke-width="0.40"/>
<line x1="276.56" y1="151.20" x2="276.56" y2="151.90" stroke="#b0b0b0" stroke-width="0.40"/>
<line x1="278.32" y1="151.20" x2="278.32" y2="151.90" stroke="#b0b0b0" stroke-width="0.40"/>
<line x1="280.08" y1="151.20" x2="280.08" y2="151.90" stroke="#b0b0b0" stroke-width="0.40"/>
<line x1="281.84" y1="151.20" x2="281.84" y2="151.90" stroke="#b0b0b0" stroke-width="0.40"/>
<line x1="283.60" y1="151.20" x2="283.60" y2="151.90" stroke="#b0b0b0" stroke-width="0.40"/>
<line x1="285.36" y1="151.20" x2="285.36" y2="151.90" stroke="#b0b0b0" stroke-width="0.40"/>
<line x1="287.12" y1="151.20" x2="287.12" y2="151.90" stroke="#b0b0b0" stroke-width="0.40"/>
<line x1="288.88" y1="151.20" x2="288.88" y2="151.90" stroke="#b0b0b0" stroke-width="0.40"/>
<line x1="290.64" y1="151.20" x2="290.64" y2="151.90" stroke="#b0b0b0" stroke-width="0.40"/>
<line x1="292.40" y1="151.20" x2="292.40" y2="151.90" stroke="#b0b0b0" stroke-width="0.40"/>
<line x1="294.16" y1="151.20" x2="294.16" y2="151.90" stroke="#b0b0b0" stroke-width="0.40"/>
<line x1="295.92" y1="151.20" x2="295.92" y2="151.90" stroke="#b0b0b0" stroke-width="0.40"/>
<line x1="297.68" y1="151.20" x2="297.68" y2="151.90" stroke="#b0b0b0" stroke-width="0.40"/>
<line x1="299.44" y1="151.20" x2="299.44" y2="151.90" stroke="#b0b0b0" stroke-width="0.40"/>
<line x1="301.20" y1="151.20" x2="301.20" y2="151.90" stroke="#b0b0b0" stroke-width="0.40"/>
<line x1="302.96" y1="151.20" x2="302.96" y2="151.90" stroke="#b0b0b0" stroke-width="0.40"/>
<line x1="304.72" y1="151.20" x2="304.72" y2="151.90" stroke="#b0b0b0" stroke-width="0.40"/>
<line x1="306.48" y1="151.20" x2="306.48" y2="151.90" stroke="#b0b0b0" stroke-width="0.40"/>
<line x1="308.24" y1="151.20" x2="308.24" y2="151.90" stroke="#b0b0b0" stroke-width="0.40"/>
<line x1="310.00" y1="151.20" x2="310.00" y2="151.90" stroke="#b0b0b0" stroke-width="0.40"/>
<line x1="311.76" y1="151.20" x2="311.76" y2="151.90" stroke="#b0b0b0" stroke-width="0.40"/>
<line x1="313.52" y1="151.20" x2="313.52" y2="151.90" stroke="#b0b0b0" stroke-width="0.40"/>
<line x1="315.28" y1="151.20" x2="315.28" y2="151.90" stroke="#b0b0b0" stroke-width="0.40"/>
<line x1="317.04" y1="151.20" x2="317.04" y2="151.90" stroke="#b0b0b0" stroke-width="0.40"/>
<path d="M306.52 151.20L306.52 150.98L306.67 150.86L306.83 150.70L306.98 150.47L307.13 150.14L307.29 149.71L307.44 149.12L307.59 148.37L307.75 147.40L307.90 146.19L308.05 144.72L308.21 142.96L308.36 140.91L308.51 138.58L308.67 135.99L308.82 133.19L308.97 130.25L309.13 127.26L309.28 124.33L309.43 121.57L309.59 119.11L309.74 117.04L309.89 115.49L310.05 114.53L310.20 114.20L310.37 114.53L310.55 115.49L310.72 117.04L310.89 119.11L311.07 121.57L311.24 124.33L311.41 127.26L311.59 130.25L311.76 133.19L311.93 135.99L312.11 138.58L312.28 140.91L312.45 142.96L312.63 144.72L312.80 146.19L312.97 147.40L313.15 148.37L313.32 149.12L313.49 149.71L313.67 150.14L313.84 150.47L314.01 150.70L314.19 150.86L314.36 150.98L314.36 151.20Z" fill="#0a0ae6" stroke="none" stroke-width="1.00"/>
<path d="M306.4 151.2 C307 150 307.6 149.8 308.2 150.4 L308.6 151.2Z" fill="#e8780e" stroke="none" stroke-width="1.00"/>
<ellipse cx="310.30" cy="152.00" rx="0.8" ry="0.6" fill="#111"/>
<line x1="268.50" y1="136.90" x2="305.40" y2="136.90" stroke="#3f7fc6" stroke-width="1.10"/>
<line x1="268.50" y1="135.30" x2="268.50" y2="138.50" stroke="#3f7fc6" stroke-width="0.90"/>
<line x1="305.40" y1="135.30" x2="305.40" y2="138.50" stroke="#3f7fc6" stroke-width="0.90"/>
<text x="276.50" y="129.83" font-size="6.00" fill="#222" stroke="#222" stroke-width="0.22" textLength="15.50" lengthAdjust="spacingAndGlyphs">4.23%</text>
<text x="297.70" y="108.63" font-size="6.00" fill="#222" stroke="#222" stroke-width="0.22" textLength="18.80" lengthAdjust="spacingAndGlyphs">96.77%</text>
<text x="354.60" y="40.20" font-size="7.60" fill="#1a1a1a" textLength="57.70" lengthAdjust="spacingAndGlyphs">CLL PBMCs + IgG1</text>
<text x="355.80" y="107.70" font-size="7.60" fill="#1a1a1a" textLength="56.60" lengthAdjust="spacingAndGlyphs">CLL PBMCs + Dara</text>
<rect x="341.80" y="43.90" width="38.30" height="44.20" fill="none" stroke="#c4c4c4" stroke-width="0.60"/>
<line x1="340.60" y1="43.90" x2="341.80" y2="43.90" stroke="#777" stroke-width="0.50"/>
<text x="340.20" y="44.54" font-size="1.80" text-anchor="end" fill="#777">10</text>
<line x1="340.60" y1="52.74" x2="341.80" y2="52.74" stroke="#777" stroke-width="0.50"/>
<text x="340.20" y="53.38" font-size="1.80" text-anchor="end" fill="#777">10</text>
<line x1="340.60" y1="61.58" x2="341.80" y2="61.58" stroke="#777" stroke-width="0.50"/>
<text x="340.20" y="62.22" font-size="1.80" text-anchor="end" fill="#777">10</text>
<line x1="340.60" y1="70.42" x2="341.80" y2="70.42" stroke="#777" stroke-width="0.50"/>
<text x="340.20" y="71.06" font-size="1.80" text-anchor="end" fill="#777">10</text>
<line x1="340.60" y1="79.26" x2="341.80" y2="79.26" stroke="#777" stroke-width="0.50"/>
<text x="340.20" y="79.90" font-size="1.80" text-anchor="end" fill="#777">10</text>
<line x1="340.60" y1="88.10" x2="341.80" y2="88.10" stroke="#777" stroke-width="0.50"/>
<text x="340.20" y="88.74" font-size="1.80" text-anchor="end" fill="#777">10</text>
<line x1="341.80" y1="88.10" x2="341.80" y2="89.30" stroke="#777" stroke-width="0.50"/>
<text x="341.80" y="90.94" font-size="1.80" text-anchor="middle" fill="#777">10</text>
<line x1="348.18" y1="88.10" x2="348.18" y2="89.30" stroke="#777" stroke-width="0.50"/>
<text x="348.18" y="90.94" font-size="1.80" text-anchor="middle" fill="#777">10</text>
<line x1="354.57" y1="88.10" x2="354.57" y2="89.30" stroke="#777" stroke-width="0.50"/>
<text x="354.57" y="90.94" font-size="1.80" text-anchor="middle" fill="#777">10</text>
<line x1="360.95" y1="88.10" x2="360.95" y2="89.30" stroke="#777" stroke-width="0.50"/>
<text x="360.95" y="90.94" font-size="1.80" text-anchor="middle" fill="#777">10</text>
<line x1="367.33" y1="88.10" x2="367.33" y2="89.30" stroke="#777" stroke-width="0.50"/>
<text x="367.33" y="90.94" font-size="1.80" text-anchor="middle" fill="#777">10</text>
<line x1="373.72" y1="88.10" x2="373.72" y2="89.30" stroke="#777" stroke-width="0.50"/>
<text x="373.72" y="90.94" font-size="1.80" text-anchor="middle" fill="#777">10</text>
<line x1="380.10" y1="88.10" x2="380.10" y2="89.30" stroke="#777" stroke-width="0.50"/>
<text x="380.10" y="90.94" font-size="1.80" text-anchor="middle" fill="#777">10</text>
<line x1="360.40" y1="43.90" x2="360.40" y2="88.10" stroke="#a8a8a8" stroke-width="0.70"/>
<line x1="341.80" y1="59.20" x2="380.10" y2="59.20" stroke="#a8a8a8" stroke-width="0.70"/>
<ellipse cx="356.20" cy="75.75" rx="8.5" ry="6.5" fill="url(#purp)" fill-opacity="0.6"/>
<g fill="#7a34aa" fill-opacity="0.45"><circle cx="352.93" cy="78.02" r="0.4"/><circle cx="354.92" cy="83.24" r="0.4"/><circle cx="357.05" cy="71.40" r="0.4"/><circle cx="351.65" cy="78.36" r="0.4"/><circle cx="359.69" cy="75.34" r="0.4"/><circle cx="345.76" cy="79.08" r="0.4"/><circle cx="346.04" cy="75.84" r="0.4"/><circle cx="354.05" cy="71.67" r="0.4"/><circle cx="357.35" cy="71.12" r="0.4"/><circle cx="357.26" cy="81.69" r="0.4"/><circle cx="354.20" cy="79.98" r="0.4"/><circle cx="356.63" cy="74.18" r="0.4"/><circle cx="353.46" cy="70.92" r="0.4"/><circle cx="354.59" cy="74.93" r="0.4"/><circle cx="351.90" cy="77.06" r="0.4"/><circle cx="356.54" cy="73.26" r="0.4"/><circle cx="356.80" cy="76.21" r="0.4"/><circle cx="353.82" cy="71.24" r="0.4"/><circle cx="349.71" cy="80.72" r="0.4"/><circle cx="355.59" cy="73.80" r="0.4"/><circle cx="358.03" cy="76.87" r="0.4"/><circle cx="353.03" cy="79.04" r="0.4"/><circle cx="349.10" cy="73.12" r="0.4"/><circle cx="352.43" cy="72.14" r="0.4"/><circle cx="357.23" cy="78.70" r="0.4"/><circle cx="355.08" cy="75.30" r="0.4"/><circle cx="353.14" cy="80.34" r="0.4"/><circle cx="355.16" cy="80.64" r="0.4"/><circle cx="349.15" cy="73.60" r="0.4"/><circle cx="355.95" cy="72.28" r="0.4"/><circle cx="355.19" cy="81.32" r="0.4"/><circle cx="353.68" cy="74.27" r="0.4"/><circle cx="354.26" cy="73.75" r="0.4"/><circle cx="356.02" cy="78.26" r="0.4"/><circle cx="352.02" cy="72.71" r="0.4"/><circle cx="352.14" cy="79.10" r="0.4"/><circle cx="359.32" cy="71.72" r="0.4"/><circle cx="358.86" cy="80.02" r="0.4"/><circle cx="352.48" cy="74.01" r="0.4"/><circle cx="348.32" cy="77.76" r="0.4"/><circle cx="358.79" cy="75.42" r="0.4"/><circle cx="352.40" cy="76.55" r="0.4"/><circle cx="358.02" cy="81.62" r="0.4"/><circle cx="359.35" cy="73.92" r="0.4"/><circle cx="356.74" cy="68.85" r="0.4"/><circle cx="355.83" cy="68.44" r="0.4"/><circle cx="357.71" cy="73.42" r="0.4"/><circle cx="349.32" cy="76.89" r="0.4"/><circle cx="355.02" cy="79.76" r="0.4"/><circle cx="355.74" cy="76.13" r="0.4"/><circle cx="356.43" cy="84.47" r="0.4"/><circle cx="356.49" cy="72.40" r="0.4"/><circle cx="358.97" cy="73.84" r="0.4"/><circle cx="357.23" cy="76.51" r="0.4"/><circle cx="343.78" cy="80.35" r="0.4"/><circle cx="349.36" cy="78.54" r="0.4"/><circle cx="354.36" cy="80.38" r="0.4"/><circle cx="349.39" cy="73.63" r="0.4"/><circle cx="357.81" cy="74.16" r="0.4"/><circle cx="355.88" cy="78.85" r="0.4"/><circle cx="355.88" cy="73.04" r="0.4"/><circle cx="350.95" cy="85.07" r="0.4"/><circle cx="359.29" cy="77.28" r="0.4"/><circle cx="358.09" cy="75.08" r="0.4"/><circle cx="356.16" cy="76.13" r="0.4"/><circle cx="348.08" cy="77.00" r="0.4"/><circle cx="356.57" cy="74.37" r="0.4"/><circle cx="358.58" cy="82.65" r="0.4"/><circle cx="352.64" cy="79.45" r="0.4"/><circle cx="349.62" cy="81.32" r="0.4"/><circle cx="355.24" cy="76.79" r="0.4"/><circle cx="358.36" cy="79.37" r="0.4"/><circle cx="357.29" cy="81.62" r="0.4"/><circle cx="349.07" cy="70.61" r="0.4"/><circle cx="353.58" cy="71.86" r="0.4"/><circle cx="343.34" cy="76.68" r="0.4"/><circle cx="350.11" cy="71.11" r="0.4"/><circle cx="350.21" cy="77.57" r="0.4"/><circle cx="355.31" cy="72.56" r="0.4"/><circle cx="355.32" cy="77.12" r="0.4"/><circle cx="351.81" cy="71.51" r="0.4"/><circle cx="359.02" cy="74.25" r="0.4"/><circle cx="350.40" cy="80.51" r="0.4"/><circle cx="352.27" cy="82.22" r="0.4"/><circle cx="355.89" cy="73.05" r="0.4"/><circle cx="353.50" cy="69.46" r="0.4"/><circle cx="359.16" cy="78.45" r="0.4"/><circle cx="344.16" cy="78.71" r="0.4"/><circle cx="358.63" cy="68.50" r="0.4"/><circle cx="357.27" cy="78.13" r="0.4"/><circle cx="354.73" cy="76.33" r="0.4"/><circle cx="356.70" cy="79.24" r="0.4"/><circle cx="344.47" cy="75.87" r="0.4"/><circle cx="355.35" cy="73.88" r="0.4"/><circle cx="355.54" cy="85.62" r="0.4"/><circle cx="350.30" cy="73.41" r="0.4"/><circle cx="351.93" cy="74.95" r="0.4"/><circle cx="353.63" cy="70.75" r="0.4"/><circle cx="355.17" cy="78.45" r="0.4"/><circle cx="355.27" cy="77.99" r="0.4"/><circle cx="356.39" cy="73.67" r="0.4"/><circle cx="355.63" cy="78.40" r="0.4"/><circle cx="354.62" cy="82.03" r="0.4"/><circle cx="349.12" cy="80.06" r="0.4"/><circle cx="348.77" cy="78.61" r="0.4"/><circle cx="350.89" cy="77.27" r="0.4"/><circle cx="355.77" cy="74.13" r="0.4"/><circle cx="357.21" cy="78.09" r="0.4"/><circle cx="348.73" cy="77.72" r="0.4"/><circle cx="355.54" cy="75.92" r="0.4"/><circle cx="353.30" cy="69.44" r="0.4"/><circle cx="356.78" cy="82.65" r="0.4"/><circle cx="352.98" cy="72.00" r="0.4"/><circle cx="355.09" cy="75.75" r="0.4"/><circle cx="355.39" cy="77.61" r="0.4"/><circle cx="349.07" cy="73.54" r="0.4"/><circle cx="350.03" cy="76.17" r="0.4"/><circle cx="357.19" cy="73.03" r="0.4"/><circle cx="355.03" cy="80.31" r="0.4"/><circle cx="350.94" cy="78.59" r="0.4"/><circle cx="347.68" cy="74.76" r="0.4"/><circle cx="354.82" cy="78.39" r="0.4"/><circle cx="349.62" cy="83.20" r="0.4"/><circle cx="355.23" cy="79.01" r="0.4"/><circle cx="356.85" cy="75.80" r="0.4"/><circle cx="356.40" cy="77.20" r="0.4"/><circle cx="355.62" cy="70.19" r="0.4"/><circle cx="353.40" cy="84.68" r="0.4"/><circle cx="356.28" cy="76.49" r="0.4"/><circle cx="354.47" cy="74.27" r="0.4"/><circle cx="358.13" cy="73.06" r="0.4"/><circle cx="349.01" cy="77.95" r="0.4"/><circle cx="354.03" cy="77.15" r="0.4"/><circle cx="354.64" cy="78.54" r="0.4"/><circle cx="350.58" cy="81.18" r="0.4"/><circle cx="355.67" cy="75.01" r="0.4"/><circle cx="349.80" cy="69.49" r="0.4"/><circle cx="358.37" cy="79.49" r="0.4"/><circle cx="357.97" cy="80.32" r="0.4"/><circle cx="351.16" cy="80.73" r="0.4"/><circle cx="356.68" cy="79.50" r="0.4"/><circle cx="351.65" cy="77.60" r="0.4"/><circle cx="347.71" cy="74.14" r="0.4"/><circle cx="350.50" cy="79.08" r="0.4"/><circle cx="351.74" cy="81.30" r="0.4"/><circle cx="356.66" cy="79.97" r="0.4"/><circle cx="356.70" cy="79.51" r="0.4"/><circle cx="347.40" cy="74.23" r="0.4"/><circle cx="354.59" cy="74.20" r="0.4"/><circle cx="357.24" cy="76.60" r="0.4"/><circle cx="352.45" cy="82.50" r="0.4"/><circle cx="353.75" cy="74.56" r="0.4"/><circle cx="357.87" cy="70.37" r="0.4"/><circle cx="346.71" cy="76.26" r="0.4"/><circle cx="353.08" cy="81.57" r="0.4"/><circle cx="356.42" cy="74.03" r="0.4"/><circle cx="355.36" cy="78.39" r="0.4"/><circle cx="357.72" cy="76.63" r="0.4"/><circle cx="357.69" cy="76.80" r="0.4"/><circle cx="355.74" cy="80.45" r="0.4"/><circle cx="359.09" cy="73.35" r="0.4"/><circle cx="346.10" cy="82.46" r="0.4"/><circle cx="356.80" cy="76.25" r="0.4"/><circle cx="354.70" cy="78.65" r="0.4"/><circle cx="358.01" cy="71.09" r="0.4"/><circle cx="349.41" cy="75.49" r="0.4"/><circle cx="350.69" cy="74.44" r="0.4"/><circle cx="359.24" cy="79.79" r="0.4"/><circle cx="359.43" cy="79.05" r="0.4"/><circle cx="358.40" cy="74.44" r="0.4"/><circle cx="351.64" cy="73.55" r="0.4"/><circle cx="356.61" cy="74.06" r="0.4"/><circle cx="357.82" cy="77.74" r="0.4"/><circle cx="352.57" cy="75.44" r="0.4"/><circle cx="350.26" cy="71.82" r="0.4"/><circle cx="357.68" cy="76.47" r="0.4"/><circle cx="344.53" cy="76.05" r="0.4"/><circle cx="358.89" cy="72.13" r="0.4"/><circle cx="355.40" cy="76.33" r="0.4"/><circle cx="353.51" cy="76.89" r="0.4"/><circle cx="352.42" cy="79.17" r="0.4"/><circle cx="356.75" cy="71.79" r="0.4"/><circle cx="349.65" cy="70.69" r="0.4"/><circle cx="350.49" cy="76.83" r="0.4"/><circle cx="357.63" cy="76.26" r="0.4"/><circle cx="352.06" cy="77.13" r="0.4"/><circle cx="354.97" cy="74.03" r="0.4"/><circle cx="354.09" cy="73.11" r="0.4"/><circle cx="358.40" cy="75.85" r="0.4"/><circle cx="349.69" cy="73.50" r="0.4"/><circle cx="353.21" cy="73.08" r="0.4"/><circle cx="356.01" cy="77.41" r="0.4"/><circle cx="355.78" cy="77.18" r="0.4"/><circle cx="358.05" cy="71.52" r="0.4"/><circle cx="359.61" cy="77.35" r="0.4"/><circle cx="357.70" cy="75.64" r="0.4"/><circle cx="359.59" cy="70.18" r="0.4"/><circle cx="359.64" cy="81.96" r="0.4"/><circle cx="359.43" cy="80.76" r="0.4"/><circle cx="353.72" cy="76.14" r="0.4"/><circle cx="350.48" cy="76.85" r="0.4"/><circle cx="358.13" cy="71.40" r="0.4"/><circle cx="355.72" cy="81.39" r="0.4"/><circle cx="354.04" cy="74.27" r="0.4"/><circle cx="358.05" cy="69.47" r="0.4"/><circle cx="357.29" cy="80.03" r="0.4"/><circle cx="349.19" cy="74.71" r="0.4"/><circle cx="352.66" cy="67.40" r="0.4"/><circle cx="352.60" cy="82.20" r="0.4"/><circle cx="356.04" cy="77.13" r="0.4"/><circle cx="353.58" cy="75.13" r="0.4"/><circle cx="343.38" cy="78.17" r="0.4"/><circle cx="349.85" cy="74.90" r="0.4"/><circle cx="352.85" cy="74.80" r="0.4"/><circle cx="356.41" cy="76.08" r="0.4"/><circle cx="357.38" cy="77.52" r="0.4"/><circle cx="355.88" cy="77.31" r="0.4"/><circle cx="353.68" cy="75.46" r="0.4"/><circle cx="355.47" cy="75.98" r="0.4"/><circle cx="347.93" cy="79.99" r="0.4"/><circle cx="350.64" cy="77.20" r="0.4"/><circle cx="349.51" cy="73.64" r="0.4"/><circle cx="354.13" cy="73.85" r="0.4"/><circle cx="359.71" cy="79.32" r="0.4"/><circle cx="355.77" cy="71.85" r="0.4"/><circle cx="348.08" cy="77.99" r="0.4"/><circle cx="355.92" cy="77.36" r="0.4"/><circle cx="355.42" cy="75.70" r="0.4"/><circle cx="359.03" cy="75.38" r="0.4"/><circle cx="354.20" cy="80.14" r="0.4"/><circle cx="357.10" cy="74.06" r="0.4"/><circle cx="355.04" cy="76.46" r="0.4"/><circle cx="354.69" cy="80.42" r="0.4"/><circle cx="351.14" cy="73.05" r="0.4"/><circle cx="351.98" cy="72.43" r="0.4"/><circle cx="351.24" cy="75.54" r="0.4"/><circle cx="349.58" cy="73.62" r="0.4"/><circle cx="354.90" cy="77.65" r="0.4"/><circle cx="347.91" cy="76.77" r="0.4"/><circle cx="359.69" cy="70.60" r="0.4"/><circle cx="357.72" cy="73.64" r="0.4"/><circle cx="355.09" cy="72.87" r="0.4"/><circle cx="355.99" cy="76.33" r="0.4"/><circle cx="356.23" cy="77.64" r="0.4"/><circle cx="351.61" cy="71.67" r="0.4"/><circle cx="347.14" cy="74.91" r="0.4"/><circle cx="355.77" cy="73.67" r="0.4"/><circle cx="355.32" cy="84.74" r="0.4"/><circle cx="348.72" cy="77.44" r="0.4"/><circle cx="357.35" cy="83.65" r="0.4"/><circle cx="356.04" cy="79.45" r="0.4"/><circle cx="356.78" cy="68.92" r="0.4"/><circle cx="352.35" cy="77.59" r="0.4"/><circle cx="354.80" cy="75.04" r="0.4"/><circle cx="357.13" cy="76.10" r="0.4"/><circle cx="352.75" cy="72.58" r="0.4"/><circle cx="354.59" cy="73.97" r="0.4"/><circle cx="351.82" cy="77.64" r="0.4"/><circle cx="357.26" cy="74.70" r="0.4"/><circle cx="357.96" cy="80.54" r="0.4"/><circle cx="355.03" cy="79.78" r="0.4"/><circle cx="358.03" cy="74.39" r="0.4"/><circle cx="353.88" cy="77.58" r="0.4"/><circle cx="354.00" cy="80.78" r="0.4"/><circle cx="358.79" cy="81.32" r="0.4"/><circle cx="355.61" cy="78.33" r="0.4"/><circle cx="356.92" cy="79.24" r="0.4"/><circle cx="358.96" cy="76.90" r="0.4"/><circle cx="352.73" cy="85.45" r="0.4"/><circle cx="351.33" cy="72.64" r="0.4"/><circle cx="357.29" cy="68.08" r="0.4"/><circle cx="353.24" cy="81.76" r="0.4"/><circle cx="354.01" cy="83.48" r="0.4"/><circle cx="353.37" cy="74.72" r="0.4"/><circle cx="351.20" cy="76.89" r="0.4"/><circle cx="355.07" cy="80.37" r="0.4"/><circle cx="356.55" cy="73.90" r="0.4"/><circle cx="356.58" cy="73.33" r="0.4"/><circle cx="354.72" cy="71.41" r="0.4"/><circle cx="352.72" cy="75.97" r="0.4"/><circle cx="351.34" cy="78.93" r="0.4"/><circle cx="356.38" cy="77.32" r="0.4"/><circle cx="351.23" cy="72.67" r="0.4"/><circle cx="356.15" cy="74.95" r="0.4"/><circle cx="355.04" cy="83.09" r="0.4"/><circle cx="356.41" cy="76.17" r="0.4"/><circle cx="352.28" cy="75.21" r="0.4"/><circle cx="356.36" cy="74.12" r="0.4"/><circle cx="357.12" cy="76.54" r="0.4"/><circle cx="357.49" cy="77.36" r="0.4"/><circle cx="353.62" cy="74.93" r="0.4"/><circle cx="358.39" cy="79.11" r="0.4"/><circle cx="356.32" cy="74.16" r="0.4"/><circle cx="354.12" cy="77.16" r="0.4"/><circle cx="357.72" cy="81.91" r="0.4"/><circle cx="357.66" cy="81.30" r="0.4"/><circle cx="356.50" cy="78.17" r="0.4"/><circle cx="357.18" cy="72.01" r="0.4"/><circle cx="354.80" cy="77.56" r="0.4"/><circle cx="351.69" cy="72.41" r="0.4"/><circle cx="359.08" cy="79.26" r="0.4"/><circle cx="354.36" cy="77.88" r="0.4"/><circle cx="345.46" cy="78.23" r="0.4"/><circle cx="354.62" cy="75.37" r="0.4"/><circle cx="356.35" cy="79.48" r="0.4"/><circle cx="353.00" cy="78.26" r="0.4"/><circle cx="354.75" cy="81.61" r="0.4"/><circle cx="356.01" cy="76.37" r="0.4"/><circle cx="352.75" cy="75.59" r="0.4"/><circle cx="357.31" cy="78.72" r="0.4"/><circle cx="352.39" cy="76.45" r="0.4"/><circle cx="355.47" cy="66.03" r="0.4"/><circle cx="359.77" cy="78.49" r="0.4"/><circle cx="354.87" cy="78.79" r="0.4"/><circle cx="353.90" cy="77.80" r="0.4"/><circle cx="354.38" cy="74.74" r="0.4"/><circle cx="351.53" cy="74.84" r="0.4"/><circle cx="354.21" cy="77.17" r="0.4"/><circle cx="358.01" cy="74.35" r="0.4"/><circle cx="355.37" cy="80.15" r="0.4"/><circle cx="353.53" cy="76.26" r="0.4"/><circle cx="350.73" cy="77.09" r="0.4"/><circle cx="352.31" cy="77.34" r="0.4"/><circle cx="352.11" cy="80.37" r="0.4"/><circle cx="352.08" cy="78.76" r="0.4"/><circle cx="348.18" cy="79.70" r="0.4"/><circle cx="352.60" cy="76.78" r="0.4"/><circle cx="356.00" cy="75.58" r="0.4"/><circle cx="354.54" cy="75.15" r="0.4"/><circle cx="353.83" cy="75.60" r="0.4"/><circle cx="357.10" cy="73.22" r="0.4"/><circle cx="358.53" cy="69.69" r="0.4"/><circle cx="349.50" cy="77.06" r="0.4"/><circle cx="352.93" cy="76.58" r="0.4"/><circle cx="356.04" cy="81.09" r="0.4"/><circle cx="355.62" cy="80.16" r="0.4"/><circle cx="352.72" cy="79.81" r="0.4"/><circle cx="352.21" cy="74.72" r="0.4"/><circle cx="354.89" cy="78.65" r="0.4"/><circle cx="355.33" cy="73.78" r="0.4"/><circle cx="350.26" cy="77.78" r="0.4"/><circle cx="359.51" cy="69.16" r="0.4"/><circle cx="353.13" cy="71.64" r="0.4"/><circle cx="357.98" cy="68.95" r="0.4"/><circle cx="354.33" cy="81.54" r="0.4"/><circle cx="359.01" cy="74.27" r="0.4"/><circle cx="358.96" cy="76.34" r="0.4"/><circle cx="355.81" cy="77.98" r="0.4"/><circle cx="358.70" cy="74.72" r="0.4"/><circle cx="355.50" cy="76.16" r="0.4"/><circle cx="355.38" cy="83.36" r="0.4"/><circle cx="353.01" cy="76.32" r="0.4"/><circle cx="349.09" cy="74.51" r="0.4"/><circle cx="352.11" cy="77.53" r="0.4"/><circle cx="358.02" cy="72.64" r="0.4"/><circle cx="355.60" cy="81.61" r="0.4"/><circle cx="354.12" cy="74.08" r="0.4"/><circle cx="354.91" cy="70.43" r="0.4"/><circle cx="355.86" cy="76.62" r="0.4"/><circle cx="356.69" cy="75.95" r="0.4"/><circle cx="358.00" cy="80.20" r="0.4"/><circle cx="358.68" cy="73.80" r="0.4"/><circle cx="358.93" cy="79.89" r="0.4"/><circle cx="350.30" cy="78.72" r="0.4"/><circle cx="354.89" cy="74.94" r="0.4"/><circle cx="353.66" cy="78.40" r="0.4"/><circle cx="353.94" cy="79.74" r="0.4"/><circle cx="353.05" cy="79.20" r="0.4"/><circle cx="350.71" cy="68.33" r="0.4"/><circle cx="355.79" cy="75.32" r="0.4"/><circle cx="354.47" cy="71.28" r="0.4"/><circle cx="352.78" cy="80.80" r="0.4"/><circle cx="359.67" cy="78.29" r="0.4"/><circle cx="354.39" cy="75.92" r="0.4"/><circle cx="351.70" cy="73.02" r="0.4"/><circle cx="350.73" cy="73.15" r="0.4"/><circle cx="353.38" cy="73.20" r="0.4"/><circle cx="356.05" cy="76.00" r="0.4"/><circle cx="358.33" cy="83.23" r="0.4"/><circle cx="353.73" cy="76.48" r="0.4"/><circle cx="351.81" cy="80.51" r="0.4"/><circle cx="355.32" cy="80.25" r="0.4"/><circle cx="355.04" cy="78.21" r="0.4"/><circle cx="358.42" cy="72.08" r="0.4"/><circle cx="351.74" cy="69.78" r="0.4"/><circle cx="359.28" cy="75.92" r="0.4"/><circle cx="358.52" cy="77.01" r="0.4"/><circle cx="356.18" cy="70.43" r="0.4"/><circle cx="359.33" cy="66.36" r="0.4"/><circle cx="350.71" cy="76.50" r="0.4"/><circle cx="352.87" cy="72.46" r="0.4"/><circle cx="356.26" cy="73.68" r="0.4"/><circle cx="358.32" cy="74.08" r="0.4"/><circle cx="353.51" cy="73.68" r="0.4"/><circle cx="359.47" cy="74.78" r="0.4"/><circle cx="357.89" cy="75.28" r="0.4"/><circle cx="350.60" cy="80.55" r="0.4"/><circle cx="356.96" cy="76.66" r="0.4"/><circle cx="348.93" cy="80.57" r="0.4"/><circle cx="351.98" cy="73.34" r="0.4"/><circle cx="356.91" cy="73.67" r="0.4"/><circle cx="354.70" cy="75.08" r="0.4"/><circle cx="354.10" cy="81.78" r="0.4"/><circle cx="350.08" cy="76.78" r="0.4"/><circle cx="357.74" cy="84.11" r="0.4"/><circle cx="358.51" cy="75.24" r="0.4"/><circle cx="351.97" cy="78.65" r="0.4"/><circle cx="355.25" cy="70.60" r="0.4"/><circle cx="358.18" cy="76.49" r="0.4"/></g>
<g fill="#2a80d0" fill-opacity="0.5"><circle cx="364.37" cy="77.37" r="0.4"/><circle cx="364.45" cy="79.33" r="0.4"/><circle cx="364.45" cy="76.28" r="0.4"/><circle cx="364.74" cy="78.47" r="0.4"/><circle cx="363.83" cy="72.11" r="0.4"/><circle cx="363.40" cy="77.68" r="0.4"/><circle cx="364.83" cy="77.73" r="0.4"/><circle cx="363.95" cy="76.80" r="0.4"/><circle cx="364.40" cy="77.01" r="0.4"/><circle cx="363.82" cy="74.95" r="0.4"/><circle cx="364.02" cy="78.10" r="0.4"/><circle cx="363.25" cy="73.89" r="0.4"/><circle cx="362.96" cy="73.55" r="0.4"/><circle cx="363.73" cy="72.65" r="0.4"/><circle cx="363.66" cy="77.62" r="0.4"/><circle cx="363.92" cy="72.68" r="0.4"/><circle cx="363.46" cy="79.43" r="0.4"/><circle cx="363.85" cy="74.34" r="0.4"/><circle cx="363.69" cy="74.39" r="0.4"/><circle cx="364.62" cy="76.43" r="0.4"/><circle cx="363.36" cy="77.79" r="0.4"/><circle cx="363.84" cy="74.03" r="0.4"/><circle cx="364.08" cy="74.79" r="0.4"/><circle cx="364.72" cy="74.46" r="0.4"/><circle cx="363.16" cy="70.97" r="0.4"/><circle cx="364.10" cy="74.82" r="0.4"/><circle cx="363.24" cy="74.69" r="0.4"/><circle cx="364.29" cy="77.60" r="0.4"/><circle cx="363.19" cy="74.94" r="0.4"/><circle cx="364.21" cy="76.32" r="0.4"/><circle cx="364.40" cy="69.96" r="0.4"/><circle cx="365.08" cy="73.06" r="0.4"/><circle cx="364.40" cy="74.69" r="0.4"/><circle cx="363.26" cy="77.41" r="0.4"/><circle cx="363.64" cy="70.85" r="0.4"/><circle cx="362.61" cy="70.57" r="0.4"/><circle cx="364.43" cy="70.01" r="0.4"/><circle cx="363.61" cy="75.11" r="0.4"/><circle cx="364.49" cy="75.75" r="0.4"/><circle cx="364.41" cy="74.31" r="0.4"/><circle cx="363.65" cy="72.54" r="0.4"/><circle cx="363.81" cy="75.17" r="0.4"/><circle cx="363.74" cy="79.33" r="0.4"/><circle cx="365.33" cy="77.07" r="0.4"/><circle cx="363.06" cy="75.19" r="0.4"/><circle cx="364.16" cy="72.91" r="0.4"/><circle cx="362.91" cy="78.81" r="0.4"/><circle cx="364.98" cy="74.06" r="0.4"/><circle cx="364.31" cy="70.87" r="0.4"/><circle cx="362.82" cy="75.70" r="0.4"/><circle cx="363.71" cy="79.82" r="0.4"/><circle cx="365.03" cy="72.59" r="0.4"/><circle cx="363.66" cy="71.07" r="0.4"/><circle cx="363.38" cy="69.61" r="0.4"/><circle cx="364.77" cy="75.06" r="0.4"/><circle cx="363.17" cy="69.42" r="0.4"/><circle cx="364.37" cy="75.02" r="0.4"/><circle cx="362.89" cy="75.29" r="0.4"/><circle cx="362.30" cy="74.43" r="0.4"/><circle cx="364.19" cy="79.95" r="0.4"/><circle cx="363.73" cy="73.41" r="0.4"/><circle cx="363.95" cy="70.18" r="0.4"/><circle cx="363.63" cy="77.74" r="0.4"/><circle cx="363.38" cy="73.45" r="0.4"/><circle cx="365.21" cy="77.02" r="0.4"/><circle cx="363.42" cy="77.29" r="0.4"/><circle cx="364.40" cy="69.60" r="0.4"/><circle cx="364.75" cy="75.26" r="0.4"/><circle cx="363.82" cy="72.18" r="0.4"/><circle cx="363.82" cy="82.02" r="0.4"/><circle cx="363.46" cy="70.49" r="0.4"/><circle cx="363.57" cy="79.49" r="0.4"/><circle cx="364.08" cy="73.49" r="0.4"/><circle cx="364.22" cy="71.95" r="0.4"/><circle cx="362.81" cy="72.52" r="0.4"/><circle cx="364.45" cy="72.34" r="0.4"/><circle cx="363.38" cy="73.32" r="0.4"/><circle cx="364.00" cy="74.25" r="0.4"/><circle cx="364.65" cy="81.35" r="0.4"/><circle cx="365.21" cy="76.49" r="0.4"/><circle cx="364.22" cy="79.72" r="0.4"/><circle cx="364.69" cy="74.47" r="0.4"/><circle cx="362.06" cy="68.33" r="0.4"/><circle cx="363.07" cy="78.28" r="0.4"/><circle cx="363.70" cy="77.24" r="0.4"/><circle cx="362.94" cy="75.80" r="0.4"/><circle cx="363.14" cy="78.87" r="0.4"/><circle cx="364.75" cy="72.71" r="0.4"/><circle cx="364.28" cy="71.91" r="0.4"/><circle cx="363.93" cy="79.24" r="0.4"/><circle cx="364.34" cy="78.41" r="0.4"/><circle cx="363.80" cy="76.95" r="0.4"/><circle cx="364.43" cy="77.19" r="0.4"/><circle cx="364.48" cy="75.63" r="0.4"/><circle cx="363.66" cy="79.09" r="0.4"/><circle cx="363.43" cy="81.22" r="0.4"/><circle cx="363.65" cy="75.17" r="0.4"/><circle cx="364.15" cy="72.40" r="0.4"/><circle cx="364.38" cy="75.87" r="0.4"/><circle cx="364.69" cy="77.98" r="0.4"/><circle cx="364.02" cy="77.43" r="0.4"/><circle cx="363.56" cy="77.38" r="0.4"/><circle cx="363.09" cy="74.63" r="0.4"/><circle cx="364.63" cy="70.10" r="0.4"/><circle cx="365.57" cy="78.06" r="0.4"/><circle cx="364.37" cy="81.10" r="0.4"/><circle cx="362.62" cy="79.58" r="0.4"/><circle cx="363.69" cy="71.38" r="0.4"/><circle cx="364.37" cy="73.41" r="0.4"/><circle cx="363.10" cy="73.17" r="0.4"/><circle cx="363.06" cy="78.28" r="0.4"/><circle cx="363.94" cy="70.41" r="0.4"/><circle cx="364.23" cy="75.20" r="0.4"/><circle cx="364.71" cy="72.99" r="0.4"/><circle cx="363.72" cy="74.16" r="0.4"/><circle cx="365.21" cy="78.26" r="0.4"/><circle cx="363.53" cy="68.96" r="0.4"/><circle cx="363.75" cy="75.29" r="0.4"/><circle cx="364.04" cy="77.47" r="0.4"/><circle cx="364.52" cy="74.38" r="0.4"/><circle cx="363.72" cy="74.69" r="0.4"/><circle cx="363.72" cy="80.21" r="0.4"/><circle cx="363.35" cy="70.99" r="0.4"/><circle cx="363.65" cy="78.58" r="0.4"/><circle cx="364.51" cy="71.43" r="0.4"/><circle cx="362.76" cy="79.70" r="0.4"/><circle cx="363.87" cy="66.83" r="0.4"/><circle cx="364.40" cy="75.75" r="0.4"/><circle cx="363.35" cy="81.80" r="0.4"/><circle cx="363.56" cy="76.95" r="0.4"/><circle cx="363.68" cy="73.48" r="0.4"/><circle cx="364.41" cy="78.65" r="0.4"/><circle cx="363.23" cy="74.37" r="0.4"/><circle cx="364.18" cy="76.51" r="0.4"/><circle cx="365.19" cy="73.21" r="0.4"/><circle cx="364.14" cy="78.74" r="0.4"/><circle cx="363.20" cy="73.95" r="0.4"/><circle cx="363.54" cy="77.33" r="0.4"/><circle cx="363.57" cy="73.63" r="0.4"/><circle cx="365.61" cy="75.07" r="0.4"/><circle cx="362.83" cy="76.77" r="0.4"/><circle cx="364.14" cy="70.81" r="0.4"/><circle cx="363.63" cy="77.41" r="0.4"/><circle cx="363.13" cy="72.62" r="0.4"/><circle cx="363.52" cy="77.90" r="0.4"/><circle cx="363.24" cy="79.65" r="0.4"/><circle cx="364.38" cy="81.39" r="0.4"/><circle cx="364.69" cy="78.47" r="0.4"/><circle cx="364.57" cy="74.56" r="0.4"/><circle cx="364.51" cy="74.26" r="0.4"/><circle cx="364.20" cy="81.19" r="0.4"/><circle cx="363.15" cy="76.20" r="0.4"/><circle cx="363.80" cy="79.52" r="0.4"/><circle cx="364.70" cy="72.04" r="0.4"/><circle cx="363.71" cy="79.28" r="0.4"/><circle cx="364.18" cy="72.29" r="0.4"/><circle cx="363.73" cy="74.99" r="0.4"/><circle cx="363.60" cy="75.77" r="0.4"/><circle cx="364.52" cy="77.12" r="0.4"/><circle cx="364.41" cy="72.92" r="0.4"/></g>
<rect x="342.60" y="63.40" width="17.80" height="24.30" fill="none" stroke="#9656c0" stroke-width="0.95"/>
<rect x="360.40" y="63.40" width="19.10" height="24.30" fill="none" stroke="#4a94da" stroke-width="0.95" rx="0.8"/>
<text x="343.60" y="48.68" font-size="3.60" fill="#777" textLength="12.50" lengthAdjust="spacingAndGlyphs">0.000%</text>
<text x="364.40" y="48.68" font-size="3.60" fill="#777" textLength="12.50" lengthAdjust="spacingAndGlyphs">0.000%</text>
<text x="355.00" y="52.97" font-size="3.30" font-weight="bold" fill="#2a7ad0" textLength="22.00" lengthAdjust="spacingAndGlyphs">B4: 23.817%</text>
<text x="355.00" y="55.97" font-size="3.30" font-weight="bold" fill="#7a3aaa" textLength="22.00" lengthAdjust="spacingAndGlyphs">B3: 37.772%</text>
<text x="343.80" y="86.88" font-size="3.60" fill="#777" textLength="14.00" lengthAdjust="spacingAndGlyphs">76.183%</text>
<text x="363.20" y="86.88" font-size="3.60" fill="#777" textLength="14.00" lengthAdjust="spacingAndGlyphs">23.817%</text>
<text transform="translate(337.40 68.00) rotate(-90)" x="0" y="0.92" font-size="2.60" text-anchor="middle" fill="#444" textLength="8.00" lengthAdjust="spacingAndGlyphs">SLL-A</text>
<text x="361.95" y="96.89" font-size="2.80" text-anchor="middle" fill="#444" textLength="15.50" lengthAdjust="spacingAndGlyphs">CD8 - FITC-A</text>
<rect x="393.80" y="43.80" width="36.00" height="44.80" fill="none" stroke="#c4c4c4" stroke-width="0.60"/>
<line x1="392.60" y1="43.80" x2="393.80" y2="43.80" stroke="#777" stroke-width="0.50"/>
<text x="392.20" y="44.44" font-size="1.80" text-anchor="end" fill="#777">10</text>
<line x1="392.60" y1="52.76" x2="393.80" y2="52.76" stroke="#777" stroke-width="0.50"/>
<text x="392.20" y="53.40" font-size="1.80" text-anchor="end" fill="#777">10</text>
<line x1="392.60" y1="61.72" x2="393.80" y2="61.72" stroke="#777" stroke-width="0.50"/>
<text x="392.20" y="62.36" font-size="1.80" text-anchor="end" fill="#777">10</text>
<line x1="392.60" y1="70.68" x2="393.80" y2="70.68" stroke="#777" stroke-width="0.50"/>
<text x="392.20" y="71.32" font-size="1.80" text-anchor="end" fill="#777">10</text>
<line x1="392.60" y1="79.64" x2="393.80" y2="79.64" stroke="#777" stroke-width="0.50"/>
<text x="392.20" y="80.28" font-size="1.80" text-anchor="end" fill="#777">10</text>
<line x1="392.60" y1="88.60" x2="393.80" y2="88.60" stroke="#777" stroke-width="0.50"/>
<text x="392.20" y="89.24" font-size="1.80" text-anchor="end" fill="#777">10</text>
<line x1="393.80" y1="88.60" x2="393.80" y2="89.80" stroke="#777" stroke-width="0.50"/>
<text x="393.80" y="91.44" font-size="1.80" text-anchor="middle" fill="#777">10</text>
<line x1="399.80" y1="88.60" x2="399.80" y2="89.80" stroke="#777" stroke-width="0.50"/>
<text x="399.80" y="91.44" font-size="1.80" text-anchor="middle" fill="#777">10</text>
<line x1="405.80" y1="88.60" x2="405.80" y2="89.80" stroke="#777" stroke-width="0.50"/>
<text x="405.80" y="91.44" font-size="1.80" text-anchor="middle" fill="#777">10</text>
<line x1="411.80" y1="88.60" x2="411.80" y2="89.80" stroke="#777" stroke-width="0.50"/>
<text x="411.80" y="91.44" font-size="1.80" text-anchor="middle" fill="#777">10</text>
<line x1="417.80" y1="88.60" x2="417.80" y2="89.80" stroke="#777" stroke-width="0.50"/>
<text x="417.80" y="91.44" font-size="1.80" text-anchor="middle" fill="#777">10</text>
<line x1="423.80" y1="88.60" x2="423.80" y2="89.80" stroke="#777" stroke-width="0.50"/>
<text x="423.80" y="91.44" font-size="1.80" text-anchor="middle" fill="#777">10</text>
<line x1="429.80" y1="88.60" x2="429.80" y2="89.80" stroke="#777" stroke-width="0.50"/>
<text x="429.80" y="91.44" font-size="1.80" text-anchor="middle" fill="#777">10</text>
<line x1="409.60" y1="43.80" x2="409.60" y2="88.60" stroke="#a8a8a8" stroke-width="0.70"/>
<line x1="393.80" y1="71.00" x2="429.80" y2="71.00" stroke="#a8a8a8" stroke-width="0.70"/>
<g fill="#3a90dc" fill-opacity="0.4"><circle cx="404.97" cy="76.08" r="0.4"/><circle cx="408.78" cy="80.31" r="0.4"/><circle cx="408.31" cy="80.20" r="0.4"/><circle cx="405.01" cy="78.13" r="0.4"/><circle cx="407.51" cy="72.94" r="0.4"/><circle cx="408.10" cy="73.52" r="0.4"/><circle cx="408.10" cy="73.08" r="0.4"/><circle cx="409.32" cy="70.08" r="0.4"/><circle cx="404.78" cy="70.60" r="0.4"/><circle cx="409.65" cy="73.34" r="0.4"/><circle cx="408.10" cy="73.34" r="0.4"/><circle cx="407.12" cy="79.40" r="0.4"/><circle cx="404.26" cy="69.21" r="0.4"/><circle cx="407.46" cy="70.74" r="0.4"/><circle cx="406.33" cy="77.54" r="0.4"/><circle cx="408.14" cy="82.15" r="0.4"/><circle cx="409.39" cy="70.60" r="0.4"/><circle cx="407.12" cy="73.91" r="0.4"/><circle cx="408.78" cy="69.87" r="0.4"/><circle cx="408.71" cy="80.81" r="0.4"/><circle cx="406.66" cy="73.59" r="0.4"/><circle cx="405.95" cy="73.93" r="0.4"/><circle cx="409.10" cy="74.82" r="0.4"/><circle cx="403.62" cy="70.38" r="0.4"/><circle cx="408.52" cy="77.38" r="0.4"/><circle cx="407.17" cy="71.48" r="0.4"/><circle cx="409.59" cy="71.38" r="0.4"/><circle cx="407.11" cy="73.06" r="0.4"/><circle cx="405.88" cy="73.45" r="0.4"/><circle cx="408.97" cy="77.72" r="0.4"/><circle cx="407.83" cy="72.12" r="0.4"/><circle cx="405.75" cy="70.28" r="0.4"/><circle cx="406.08" cy="72.45" r="0.4"/><circle cx="406.79" cy="73.31" r="0.4"/><circle cx="407.83" cy="77.16" r="0.4"/><circle cx="405.76" cy="69.22" r="0.4"/><circle cx="407.98" cy="70.83" r="0.4"/><circle cx="408.77" cy="73.54" r="0.4"/><circle cx="403.81" cy="78.61" r="0.4"/><circle cx="406.75" cy="81.20" r="0.4"/><circle cx="407.37" cy="75.81" r="0.4"/><circle cx="403.49" cy="70.75" r="0.4"/><circle cx="406.22" cy="69.49" r="0.4"/><circle cx="409.22" cy="72.18" r="0.4"/><circle cx="411.38" cy="72.58" r="0.4"/><circle cx="407.25" cy="75.51" r="0.4"/><circle cx="411.20" cy="69.73" r="0.4"/><circle cx="404.57" cy="74.62" r="0.4"/><circle cx="404.70" cy="79.25" r="0.4"/><circle cx="405.27" cy="75.23" r="0.4"/><circle cx="404.15" cy="75.72" r="0.4"/><circle cx="406.77" cy="72.69" r="0.4"/><circle cx="407.24" cy="79.17" r="0.4"/><circle cx="410.15" cy="78.68" r="0.4"/><circle cx="407.15" cy="75.47" r="0.4"/><circle cx="403.69" cy="80.94" r="0.4"/><circle cx="406.56" cy="73.14" r="0.4"/><circle cx="404.61" cy="74.09" r="0.4"/><circle cx="409.85" cy="75.19" r="0.4"/><circle cx="405.71" cy="73.73" r="0.4"/><circle cx="402.56" cy="77.05" r="0.4"/><circle cx="405.40" cy="70.53" r="0.4"/><circle cx="405.73" cy="70.94" r="0.4"/><circle cx="403.14" cy="74.83" r="0.4"/><circle cx="408.00" cy="71.50" r="0.4"/><circle cx="407.77" cy="73.10" r="0.4"/><circle cx="403.14" cy="65.52" r="0.4"/><circle cx="406.33" cy="69.90" r="0.4"/><circle cx="407.15" cy="70.51" r="0.4"/><circle cx="404.01" cy="76.19" r="0.4"/><circle cx="405.64" cy="76.74" r="0.4"/><circle cx="406.53" cy="67.56" r="0.4"/><circle cx="407.62" cy="78.72" r="0.4"/><circle cx="406.92" cy="81.61" r="0.4"/><circle cx="408.58" cy="74.60" r="0.4"/><circle cx="406.81" cy="73.13" r="0.4"/><circle cx="405.98" cy="81.05" r="0.4"/><circle cx="403.05" cy="79.60" r="0.4"/><circle cx="405.36" cy="79.73" r="0.4"/><circle cx="403.18" cy="71.17" r="0.4"/><circle cx="402.15" cy="75.47" r="0.4"/><circle cx="409.57" cy="75.58" r="0.4"/><circle cx="409.56" cy="77.28" r="0.4"/><circle cx="407.61" cy="75.21" r="0.4"/><circle cx="409.21" cy="72.15" r="0.4"/><circle cx="407.14" cy="76.85" r="0.4"/><circle cx="408.75" cy="73.29" r="0.4"/><circle cx="409.98" cy="76.53" r="0.4"/><circle cx="411.59" cy="73.83" r="0.4"/><circle cx="406.58" cy="74.18" r="0.4"/><circle cx="409.50" cy="80.42" r="0.4"/><circle cx="407.07" cy="73.84" r="0.4"/><circle cx="407.95" cy="66.72" r="0.4"/><circle cx="405.95" cy="70.06" r="0.4"/><circle cx="407.43" cy="79.35" r="0.4"/><circle cx="407.49" cy="77.22" r="0.4"/><circle cx="406.95" cy="76.21" r="0.4"/><circle cx="411.49" cy="66.48" r="0.4"/><circle cx="401.67" cy="73.40" r="0.4"/><circle cx="408.37" cy="74.25" r="0.4"/><circle cx="407.84" cy="73.35" r="0.4"/><circle cx="409.45" cy="71.36" r="0.4"/><circle cx="408.52" cy="72.69" r="0.4"/><circle cx="405.62" cy="74.09" r="0.4"/><circle cx="404.76" cy="65.12" r="0.4"/><circle cx="407.67" cy="63.01" r="0.4"/><circle cx="405.13" cy="72.78" r="0.4"/><circle cx="406.56" cy="78.24" r="0.4"/><circle cx="408.63" cy="70.11" r="0.4"/><circle cx="408.81" cy="74.74" r="0.4"/><circle cx="403.81" cy="69.67" r="0.4"/><circle cx="406.57" cy="71.50" r="0.4"/><circle cx="404.01" cy="77.70" r="0.4"/><circle cx="410.08" cy="69.85" r="0.4"/><circle cx="407.18" cy="67.68" r="0.4"/><circle cx="405.28" cy="76.76" r="0.4"/><circle cx="408.05" cy="74.39" r="0.4"/><circle cx="408.96" cy="78.98" r="0.4"/><circle cx="410.70" cy="78.57" r="0.4"/><circle cx="409.00" cy="66.47" r="0.4"/><circle cx="410.48" cy="72.21" r="0.4"/><circle cx="406.54" cy="79.79" r="0.4"/><circle cx="406.92" cy="73.56" r="0.4"/><circle cx="408.84" cy="66.17" r="0.4"/><circle cx="408.99" cy="72.83" r="0.4"/><circle cx="407.89" cy="77.53" r="0.4"/><circle cx="406.85" cy="76.09" r="0.4"/><circle cx="409.15" cy="71.70" r="0.4"/><circle cx="409.32" cy="71.10" r="0.4"/><circle cx="407.58" cy="75.78" r="0.4"/><circle cx="404.95" cy="71.69" r="0.4"/><circle cx="407.85" cy="78.43" r="0.4"/><circle cx="404.14" cy="70.41" r="0.4"/><circle cx="408.97" cy="81.35" r="0.4"/><circle cx="404.62" cy="71.63" r="0.4"/><circle cx="408.71" cy="66.75" r="0.4"/><circle cx="407.08" cy="83.87" r="0.4"/><circle cx="404.52" cy="71.68" r="0.4"/><circle cx="409.35" cy="78.77" r="0.4"/><circle cx="404.35" cy="78.38" r="0.4"/><circle cx="404.48" cy="70.59" r="0.4"/><circle cx="403.74" cy="73.57" r="0.4"/><circle cx="407.15" cy="75.86" r="0.4"/><circle cx="404.57" cy="80.05" r="0.4"/><circle cx="407.45" cy="70.49" r="0.4"/><circle cx="406.33" cy="68.21" r="0.4"/><circle cx="407.21" cy="75.78" r="0.4"/><circle cx="404.34" cy="71.98" r="0.4"/><circle cx="406.38" cy="75.10" r="0.4"/><circle cx="406.08" cy="74.75" r="0.4"/><circle cx="407.14" cy="73.50" r="0.4"/><circle cx="405.97" cy="74.19" r="0.4"/><circle cx="407.38" cy="74.83" r="0.4"/><circle cx="403.25" cy="70.51" r="0.4"/><circle cx="406.30" cy="77.58" r="0.4"/><circle cx="410.70" cy="81.56" r="0.4"/><circle cx="408.80" cy="79.61" r="0.4"/><circle cx="409.30" cy="73.10" r="0.4"/><circle cx="405.91" cy="79.73" r="0.4"/><circle cx="404.28" cy="78.37" r="0.4"/><circle cx="404.94" cy="75.39" r="0.4"/><circle cx="405.94" cy="76.16" r="0.4"/><circle cx="407.96" cy="69.28" r="0.4"/><circle cx="405.74" cy="68.93" r="0.4"/><circle cx="408.45" cy="83.49" r="0.4"/><circle cx="406.72" cy="68.62" r="0.4"/><circle cx="408.11" cy="79.49" r="0.4"/><circle cx="407.98" cy="68.47" r="0.4"/><circle cx="408.58" cy="78.32" r="0.4"/><circle cx="409.36" cy="72.39" r="0.4"/><circle cx="407.33" cy="76.18" r="0.4"/><circle cx="408.85" cy="80.00" r="0.4"/><circle cx="406.42" cy="71.31" r="0.4"/><circle cx="408.47" cy="71.59" r="0.4"/><circle cx="406.63" cy="75.20" r="0.4"/><circle cx="403.88" cy="67.25" r="0.4"/><circle cx="405.93" cy="72.53" r="0.4"/><circle cx="403.89" cy="78.54" r="0.4"/><circle cx="408.18" cy="72.93" r="0.4"/><circle cx="409.78" cy="73.30" r="0.4"/><circle cx="409.61" cy="81.34" r="0.4"/><circle cx="409.79" cy="76.30" r="0.4"/><circle cx="407.32" cy="83.57" r="0.4"/><circle cx="406.41" cy="66.02" r="0.4"/><circle cx="407.28" cy="70.34" r="0.4"/><circle cx="407.29" cy="75.72" r="0.4"/><circle cx="407.30" cy="78.94" r="0.4"/><circle cx="403.71" cy="76.26" r="0.4"/><circle cx="407.85" cy="64.58" r="0.4"/><circle cx="411.34" cy="72.11" r="0.4"/><circle cx="404.41" cy="80.69" r="0.4"/><circle cx="409.75" cy="80.00" r="0.4"/><circle cx="404.80" cy="85.42" r="0.4"/><circle cx="407.94" cy="73.14" r="0.4"/><circle cx="407.37" cy="70.92" r="0.4"/><circle cx="404.72" cy="81.50" r="0.4"/><circle cx="406.70" cy="74.96" r="0.4"/><circle cx="409.34" cy="70.52" r="0.4"/><circle cx="409.08" cy="72.50" r="0.4"/><circle cx="408.05" cy="65.25" r="0.4"/><circle cx="407.40" cy="82.33" r="0.4"/><circle cx="402.92" cy="68.20" r="0.4"/><circle cx="408.90" cy="70.66" r="0.4"/><circle cx="406.85" cy="73.67" r="0.4"/><circle cx="406.92" cy="71.09" r="0.4"/><circle cx="408.47" cy="71.43" r="0.4"/><circle cx="405.34" cy="74.20" r="0.4"/><circle cx="407.52" cy="72.34" r="0.4"/><circle cx="409.06" cy="76.78" r="0.4"/><circle cx="407.82" cy="72.93" r="0.4"/><circle cx="405.99" cy="81.93" r="0.4"/><circle cx="404.26" cy="71.10" r="0.4"/><circle cx="407.74" cy="77.63" r="0.4"/><circle cx="407.21" cy="75.73" r="0.4"/><circle cx="401.30" cy="77.24" r="0.4"/><circle cx="406.07" cy="64.50" r="0.4"/><circle cx="407.73" cy="70.33" r="0.4"/><circle cx="403.69" cy="80.21" r="0.4"/><circle cx="411.45" cy="77.03" r="0.4"/></g>
<rect x="393.80" y="69.40" width="16.20" height="19.20" fill="none" stroke="#cc1f2a" stroke-width="1.70" rx="1"/>
<text x="395.00" y="48.08" font-size="3.60" fill="#777" textLength="12.50" lengthAdjust="spacingAndGlyphs">17.37?%</text>
<text x="428.60" y="48.08" font-size="3.60" text-anchor="end" fill="#777" textLength="11.50" lengthAdjust="spacingAndGlyphs">5.202%</text>
<text x="395.00" y="86.88" font-size="3.60" fill="#777" textLength="13.00" lengthAdjust="spacingAndGlyphs">40.47?%</text>
<text x="428.60" y="86.88" font-size="3.60" text-anchor="end" fill="#777" textLength="13.50" lengthAdjust="spacingAndGlyphs">13.93?%</text>
<text transform="translate(389.50 67.70) rotate(-90)" x="0" y="0.92" font-size="2.60" text-anchor="middle" fill="#444" textLength="25.00" lengthAdjust="spacingAndGlyphs">HLADR - PE-Cy7-A</text>
<text x="412.80" y="96.79" font-size="2.80" text-anchor="middle" fill="#444" textLength="17.00" lengthAdjust="spacingAndGlyphs">CD45RO - PE-A</text>
<line x1="365.40" y1="73.90" x2="390.46" y2="68.98" stroke="#d83030" stroke-width="0.75" stroke-dasharray="2.4 1.0"/>
<path d="M393.40 68.40L390.75 70.45L390.17 67.51Z" fill="#cc1f2a" stroke="none" stroke-width="1.00"/>
<line x1="366.20" y1="79.80" x2="390.53" y2="87.31" stroke="#d83030" stroke-width="0.75" stroke-dasharray="2.4 1.0"/>
<path d="M393.40 88.20L390.09 88.75L390.98 85.88Z" fill="#cc1f2a" stroke="none" stroke-width="1.00"/>
<rect x="342.10" y="109.90" width="38.30" height="44.20" fill="none" stroke="#c4c4c4" stroke-width="0.60"/>
<line x1="340.90" y1="109.90" x2="342.10" y2="109.90" stroke="#777" stroke-width="0.50"/>
<text x="340.50" y="110.54" font-size="1.80" text-anchor="end" fill="#777">10</text>
<line x1="340.90" y1="118.74" x2="342.10" y2="118.74" stroke="#777" stroke-width="0.50"/>
<text x="340.50" y="119.38" font-size="1.80" text-anchor="end" fill="#777">10</text>
<line x1="340.90" y1="127.58" x2="342.10" y2="127.58" stroke="#777" stroke-width="0.50"/>
<text x="340.50" y="128.22" font-size="1.80" text-anchor="end" fill="#777">10</text>
<line x1="340.90" y1="136.42" x2="342.10" y2="136.42" stroke="#777" stroke-width="0.50"/>
<text x="340.50" y="137.06" font-size="1.80" text-anchor="end" fill="#777">10</text>
<line x1="340.90" y1="145.26" x2="342.10" y2="145.26" stroke="#777" stroke-width="0.50"/>
<text x="340.50" y="145.90" font-size="1.80" text-anchor="end" fill="#777">10</text>
<line x1="340.90" y1="154.10" x2="342.10" y2="154.10" stroke="#777" stroke-width="0.50"/>
<text x="340.50" y="154.74" font-size="1.80" text-anchor="end" fill="#777">10</text>
<line x1="342.10" y1="154.10" x2="342.10" y2="155.30" stroke="#777" stroke-width="0.50"/>
<text x="342.10" y="156.94" font-size="1.80" text-anchor="middle" fill="#777">10</text>
<line x1="348.48" y1="154.10" x2="348.48" y2="155.30" stroke="#777" stroke-width="0.50"/>
<text x="348.48" y="156.94" font-size="1.80" text-anchor="middle" fill="#777">10</text>
<line x1="354.87" y1="154.10" x2="354.87" y2="155.30" stroke="#777" stroke-width="0.50"/>
<text x="354.87" y="156.94" font-size="1.80" text-anchor="middle" fill="#777">10</text>
<line x1="361.25" y1="154.10" x2="361.25" y2="155.30" stroke="#777" stroke-width="0.50"/>
<text x="361.25" y="156.94" font-size="1.80" text-anchor="middle" fill="#777">10</text>
<line x1="367.63" y1="154.10" x2="367.63" y2="155.30" stroke="#777" stroke-width="0.50"/>
<text x="367.63" y="156.94" font-size="1.80" text-anchor="middle" fill="#777">10</text>
<line x1="374.02" y1="154.10" x2="374.02" y2="155.30" stroke="#777" stroke-width="0.50"/>
<text x="374.02" y="156.94" font-size="1.80" text-anchor="middle" fill="#777">10</text>
<line x1="380.40" y1="154.10" x2="380.40" y2="155.30" stroke="#777" stroke-width="0.50"/>
<text x="380.40" y="156.94" font-size="1.80" text-anchor="middle" fill="#777">10</text>
<line x1="360.70" y1="109.90" x2="360.70" y2="154.10" stroke="#a8a8a8" stroke-width="0.70"/>
<line x1="342.10" y1="124.50" x2="380.40" y2="124.50" stroke="#a8a8a8" stroke-width="0.70"/>
<ellipse cx="356.50" cy="141.75" rx="8.5" ry="6.5" fill="url(#purp)" fill-opacity="0.6"/>
<g fill="#7a34aa" fill-opacity="0.45"><circle cx="353.64" cy="143.78" r="0.4"/><circle cx="357.59" cy="136.75" r="0.4"/><circle cx="354.27" cy="142.41" r="0.4"/><circle cx="354.59" cy="134.47" r="0.4"/><circle cx="355.17" cy="145.94" r="0.4"/><circle cx="353.27" cy="143.97" r="0.4"/><circle cx="358.73" cy="145.15" r="0.4"/><circle cx="353.87" cy="141.04" r="0.4"/><circle cx="359.74" cy="139.98" r="0.4"/><circle cx="351.50" cy="142.45" r="0.4"/><circle cx="357.73" cy="137.12" r="0.4"/><circle cx="355.52" cy="143.91" r="0.4"/><circle cx="346.74" cy="141.25" r="0.4"/><circle cx="355.83" cy="141.53" r="0.4"/><circle cx="357.36" cy="142.15" r="0.4"/><circle cx="344.28" cy="141.29" r="0.4"/><circle cx="358.92" cy="142.59" r="0.4"/><circle cx="351.45" cy="149.63" r="0.4"/><circle cx="349.06" cy="143.37" r="0.4"/><circle cx="358.82" cy="146.87" r="0.4"/><circle cx="356.90" cy="142.96" r="0.4"/><circle cx="358.24" cy="142.77" r="0.4"/><circle cx="356.86" cy="141.45" r="0.4"/><circle cx="349.18" cy="142.00" r="0.4"/><circle cx="352.41" cy="146.90" r="0.4"/><circle cx="352.22" cy="142.00" r="0.4"/><circle cx="349.67" cy="143.98" r="0.4"/><circle cx="354.36" cy="148.82" r="0.4"/><circle cx="349.41" cy="146.08" r="0.4"/><circle cx="356.90" cy="141.66" r="0.4"/><circle cx="359.90" cy="149.76" r="0.4"/><circle cx="353.16" cy="147.65" r="0.4"/><circle cx="355.61" cy="143.75" r="0.4"/><circle cx="356.97" cy="140.07" r="0.4"/><circle cx="354.74" cy="139.81" r="0.4"/><circle cx="357.07" cy="145.19" r="0.4"/><circle cx="354.07" cy="143.90" r="0.4"/><circle cx="355.23" cy="137.10" r="0.4"/><circle cx="357.88" cy="138.40" r="0.4"/><circle cx="359.28" cy="143.57" r="0.4"/><circle cx="358.14" cy="143.78" r="0.4"/><circle cx="359.19" cy="137.81" r="0.4"/><circle cx="356.51" cy="140.44" r="0.4"/><circle cx="354.08" cy="139.68" r="0.4"/><circle cx="359.67" cy="138.75" r="0.4"/><circle cx="353.70" cy="141.08" r="0.4"/><circle cx="355.35" cy="140.09" r="0.4"/><circle cx="355.90" cy="146.32" r="0.4"/><circle cx="353.51" cy="139.17" r="0.4"/><circle cx="351.93" cy="143.52" r="0.4"/><circle cx="351.65" cy="139.71" r="0.4"/><circle cx="357.10" cy="148.39" r="0.4"/><circle cx="355.24" cy="148.31" r="0.4"/><circle cx="354.67" cy="146.27" r="0.4"/><circle cx="351.90" cy="145.38" r="0.4"/><circle cx="357.80" cy="140.51" r="0.4"/><circle cx="355.63" cy="147.48" r="0.4"/><circle cx="343.86" cy="140.58" r="0.4"/><circle cx="353.01" cy="137.24" r="0.4"/><circle cx="356.29" cy="141.93" r="0.4"/><circle cx="354.81" cy="145.86" r="0.4"/><circle cx="352.07" cy="139.74" r="0.4"/><circle cx="354.21" cy="139.44" r="0.4"/><circle cx="351.16" cy="140.64" r="0.4"/><circle cx="348.66" cy="143.22" r="0.4"/><circle cx="356.49" cy="145.32" r="0.4"/><circle cx="353.62" cy="142.42" r="0.4"/><circle cx="353.10" cy="149.75" r="0.4"/><circle cx="358.17" cy="147.38" r="0.4"/><circle cx="356.19" cy="142.87" r="0.4"/><circle cx="353.63" cy="143.37" r="0.4"/><circle cx="359.36" cy="141.18" r="0.4"/><circle cx="357.26" cy="140.97" r="0.4"/><circle cx="352.82" cy="142.27" r="0.4"/><circle cx="347.77" cy="146.45" r="0.4"/><circle cx="346.39" cy="148.13" r="0.4"/><circle cx="357.89" cy="147.25" r="0.4"/><circle cx="352.62" cy="149.85" r="0.4"/><circle cx="353.96" cy="140.05" r="0.4"/><circle cx="353.45" cy="141.44" r="0.4"/><circle cx="359.74" cy="144.89" r="0.4"/><circle cx="353.79" cy="141.90" r="0.4"/><circle cx="359.15" cy="136.64" r="0.4"/><circle cx="357.82" cy="151.80" r="0.4"/><circle cx="349.12" cy="142.33" r="0.4"/><circle cx="354.61" cy="140.06" r="0.4"/><circle cx="347.47" cy="145.86" r="0.4"/><circle cx="356.08" cy="142.06" r="0.4"/><circle cx="358.91" cy="147.47" r="0.4"/><circle cx="354.88" cy="142.07" r="0.4"/><circle cx="344.37" cy="145.28" r="0.4"/><circle cx="357.03" cy="138.46" r="0.4"/><circle cx="353.90" cy="142.48" r="0.4"/><circle cx="359.29" cy="147.32" r="0.4"/><circle cx="355.75" cy="142.37" r="0.4"/><circle cx="356.08" cy="140.78" r="0.4"/><circle cx="358.57" cy="141.40" r="0.4"/><circle cx="357.17" cy="144.22" r="0.4"/><circle cx="351.37" cy="141.91" r="0.4"/><circle cx="354.03" cy="137.15" r="0.4"/><circle cx="358.38" cy="149.04" r="0.4"/><circle cx="358.35" cy="145.17" r="0.4"/><circle cx="349.32" cy="142.62" r="0.4"/><circle cx="351.35" cy="145.20" r="0.4"/><circle cx="357.86" cy="138.78" r="0.4"/><circle cx="354.57" cy="139.02" r="0.4"/><circle cx="351.90" cy="139.64" r="0.4"/><circle cx="359.86" cy="151.34" r="0.4"/><circle cx="358.26" cy="143.33" r="0.4"/><circle cx="355.75" cy="141.24" r="0.4"/><circle cx="354.04" cy="144.01" r="0.4"/><circle cx="352.63" cy="149.07" r="0.4"/><circle cx="359.01" cy="136.28" r="0.4"/><circle cx="353.28" cy="139.64" r="0.4"/><circle cx="356.00" cy="138.19" r="0.4"/><circle cx="353.87" cy="144.43" r="0.4"/><circle cx="355.86" cy="150.24" r="0.4"/><circle cx="355.54" cy="133.60" r="0.4"/><circle cx="350.84" cy="145.25" r="0.4"/><circle cx="355.72" cy="140.49" r="0.4"/><circle cx="359.12" cy="142.04" r="0.4"/><circle cx="359.20" cy="141.07" r="0.4"/><circle cx="354.13" cy="148.12" r="0.4"/><circle cx="359.97" cy="140.70" r="0.4"/><circle cx="351.43" cy="140.61" r="0.4"/><circle cx="352.33" cy="144.74" r="0.4"/><circle cx="357.39" cy="133.87" r="0.4"/><circle cx="356.69" cy="148.28" r="0.4"/><circle cx="357.27" cy="149.02" r="0.4"/><circle cx="351.78" cy="148.96" r="0.4"/><circle cx="357.44" cy="151.75" r="0.4"/><circle cx="358.01" cy="142.56" r="0.4"/><circle cx="353.02" cy="147.19" r="0.4"/><circle cx="355.04" cy="141.24" r="0.4"/><circle cx="349.92" cy="137.71" r="0.4"/><circle cx="350.80" cy="137.90" r="0.4"/><circle cx="358.36" cy="142.67" r="0.4"/><circle cx="356.36" cy="140.39" r="0.4"/><circle cx="348.99" cy="144.88" r="0.4"/><circle cx="355.07" cy="139.89" r="0.4"/><circle cx="355.95" cy="146.09" r="0.4"/><circle cx="349.67" cy="144.18" r="0.4"/><circle cx="354.22" cy="140.64" r="0.4"/><circle cx="349.31" cy="144.30" r="0.4"/><circle cx="356.67" cy="141.93" r="0.4"/><circle cx="353.35" cy="137.63" r="0.4"/><circle cx="354.62" cy="139.05" r="0.4"/><circle cx="358.52" cy="141.20" r="0.4"/><circle cx="356.86" cy="140.65" r="0.4"/><circle cx="353.50" cy="141.02" r="0.4"/><circle cx="358.23" cy="144.06" r="0.4"/><circle cx="357.28" cy="137.45" r="0.4"/><circle cx="355.27" cy="137.85" r="0.4"/><circle cx="359.44" cy="140.30" r="0.4"/><circle cx="356.39" cy="142.02" r="0.4"/><circle cx="352.16" cy="143.80" r="0.4"/><circle cx="353.69" cy="139.29" r="0.4"/><circle cx="352.03" cy="139.72" r="0.4"/><circle cx="359.37" cy="142.93" r="0.4"/><circle cx="352.06" cy="149.32" r="0.4"/><circle cx="345.13" cy="137.10" r="0.4"/><circle cx="350.92" cy="140.13" r="0.4"/><circle cx="359.28" cy="145.06" r="0.4"/><circle cx="353.41" cy="142.48" r="0.4"/><circle cx="355.74" cy="135.40" r="0.4"/><circle cx="352.89" cy="147.81" r="0.4"/><circle cx="357.99" cy="143.19" r="0.4"/><circle cx="350.07" cy="145.55" r="0.4"/><circle cx="355.76" cy="146.99" r="0.4"/><circle cx="355.18" cy="140.61" r="0.4"/><circle cx="357.02" cy="146.16" r="0.4"/><circle cx="356.66" cy="142.42" r="0.4"/><circle cx="354.85" cy="147.23" r="0.4"/><circle cx="360.04" cy="145.74" r="0.4"/><circle cx="352.95" cy="144.04" r="0.4"/><circle cx="356.76" cy="143.35" r="0.4"/><circle cx="349.24" cy="144.75" r="0.4"/><circle cx="355.66" cy="148.34" r="0.4"/><circle cx="353.01" cy="150.69" r="0.4"/><circle cx="353.89" cy="144.26" r="0.4"/><circle cx="351.70" cy="142.24" r="0.4"/><circle cx="352.24" cy="140.40" r="0.4"/><circle cx="353.22" cy="140.30" r="0.4"/><circle cx="352.34" cy="138.89" r="0.4"/><circle cx="351.60" cy="143.93" r="0.4"/><circle cx="353.93" cy="140.52" r="0.4"/><circle cx="357.23" cy="133.62" r="0.4"/><circle cx="357.49" cy="140.25" r="0.4"/><circle cx="349.81" cy="140.92" r="0.4"/><circle cx="353.69" cy="146.48" r="0.4"/><circle cx="349.10" cy="139.36" r="0.4"/><circle cx="352.55" cy="145.69" r="0.4"/><circle cx="359.02" cy="134.35" r="0.4"/><circle cx="350.26" cy="136.70" r="0.4"/><circle cx="358.67" cy="140.06" r="0.4"/><circle cx="357.20" cy="136.60" r="0.4"/><circle cx="359.42" cy="140.44" r="0.4"/><circle cx="346.84" cy="135.46" r="0.4"/><circle cx="357.65" cy="142.62" r="0.4"/><circle cx="350.03" cy="138.16" r="0.4"/><circle cx="357.15" cy="139.26" r="0.4"/><circle cx="348.94" cy="142.08" r="0.4"/><circle cx="358.73" cy="141.83" r="0.4"/><circle cx="355.29" cy="139.78" r="0.4"/><circle cx="358.73" cy="141.31" r="0.4"/><circle cx="356.54" cy="142.59" r="0.4"/><circle cx="359.37" cy="140.44" r="0.4"/><circle cx="357.74" cy="141.25" r="0.4"/><circle cx="354.20" cy="141.08" r="0.4"/><circle cx="357.62" cy="134.52" r="0.4"/><circle cx="360.10" cy="142.22" r="0.4"/><circle cx="350.01" cy="133.81" r="0.4"/><circle cx="353.33" cy="141.15" r="0.4"/><circle cx="354.79" cy="139.35" r="0.4"/><circle cx="357.78" cy="135.50" r="0.4"/><circle cx="359.69" cy="144.33" r="0.4"/><circle cx="348.45" cy="142.19" r="0.4"/><circle cx="350.40" cy="138.56" r="0.4"/><circle cx="351.59" cy="142.22" r="0.4"/><circle cx="355.82" cy="144.03" r="0.4"/><circle cx="353.58" cy="140.10" r="0.4"/><circle cx="356.89" cy="149.30" r="0.4"/><circle cx="353.57" cy="150.79" r="0.4"/><circle cx="355.02" cy="142.27" r="0.4"/><circle cx="353.15" cy="145.25" r="0.4"/><circle cx="358.60" cy="141.40" r="0.4"/><circle cx="355.99" cy="141.93" r="0.4"/><circle cx="352.67" cy="140.36" r="0.4"/><circle cx="352.69" cy="139.28" r="0.4"/><circle cx="352.98" cy="141.89" r="0.4"/><circle cx="359.51" cy="142.87" r="0.4"/><circle cx="357.55" cy="145.46" r="0.4"/><circle cx="349.00" cy="146.41" r="0.4"/><circle cx="353.98" cy="144.72" r="0.4"/><circle cx="356.18" cy="138.33" r="0.4"/><circle cx="352.33" cy="142.24" r="0.4"/><circle cx="355.78" cy="139.88" r="0.4"/><circle cx="359.42" cy="147.06" r="0.4"/><circle cx="359.18" cy="145.10" r="0.4"/><circle cx="351.73" cy="145.92" r="0.4"/><circle cx="356.44" cy="139.61" r="0.4"/><circle cx="356.49" cy="145.45" r="0.4"/><circle cx="356.74" cy="139.27" r="0.4"/><circle cx="358.80" cy="143.14" r="0.4"/><circle cx="352.60" cy="140.42" r="0.4"/><circle cx="356.72" cy="144.44" r="0.4"/><circle cx="353.71" cy="148.63" r="0.4"/><circle cx="352.12" cy="137.88" r="0.4"/><circle cx="356.55" cy="138.43" r="0.4"/><circle cx="354.54" cy="145.40" r="0.4"/><circle cx="354.70" cy="140.47" r="0.4"/><circle cx="352.57" cy="144.70" r="0.4"/><circle cx="356.50" cy="148.11" r="0.4"/><circle cx="348.66" cy="139.47" r="0.4"/><circle cx="355.69" cy="134.80" r="0.4"/><circle cx="359.28" cy="144.04" r="0.4"/><circle cx="346.36" cy="140.81" r="0.4"/><circle cx="358.76" cy="144.15" r="0.4"/><circle cx="359.95" cy="137.09" r="0.4"/><circle cx="356.91" cy="144.92" r="0.4"/><circle cx="354.89" cy="145.72" r="0.4"/><circle cx="358.49" cy="140.11" r="0.4"/><circle cx="348.31" cy="142.08" r="0.4"/><circle cx="356.46" cy="145.58" r="0.4"/><circle cx="349.14" cy="141.88" r="0.4"/><circle cx="353.42" cy="145.07" r="0.4"/><circle cx="355.88" cy="133.87" r="0.4"/><circle cx="357.44" cy="135.75" r="0.4"/><circle cx="352.15" cy="139.31" r="0.4"/><circle cx="359.96" cy="143.38" r="0.4"/><circle cx="354.30" cy="146.80" r="0.4"/><circle cx="354.40" cy="145.99" r="0.4"/><circle cx="358.87" cy="137.83" r="0.4"/><circle cx="359.02" cy="147.66" r="0.4"/><circle cx="358.37" cy="135.40" r="0.4"/><circle cx="357.17" cy="143.67" r="0.4"/><circle cx="358.80" cy="143.36" r="0.4"/><circle cx="355.46" cy="148.61" r="0.4"/><circle cx="356.70" cy="139.05" r="0.4"/><circle cx="359.17" cy="143.81" r="0.4"/><circle cx="356.31" cy="136.76" r="0.4"/><circle cx="355.12" cy="142.47" r="0.4"/><circle cx="348.53" cy="139.93" r="0.4"/><circle cx="355.09" cy="137.19" r="0.4"/><circle cx="355.58" cy="143.96" r="0.4"/><circle cx="356.06" cy="137.21" r="0.4"/><circle cx="356.34" cy="145.15" r="0.4"/><circle cx="353.74" cy="140.71" r="0.4"/><circle cx="359.16" cy="143.37" r="0.4"/><circle cx="351.54" cy="139.67" r="0.4"/><circle cx="356.70" cy="142.86" r="0.4"/><circle cx="354.23" cy="147.54" r="0.4"/><circle cx="350.78" cy="144.23" r="0.4"/><circle cx="359.63" cy="140.96" r="0.4"/><circle cx="353.95" cy="145.06" r="0.4"/><circle cx="354.61" cy="141.35" r="0.4"/><circle cx="357.02" cy="139.66" r="0.4"/><circle cx="358.79" cy="137.18" r="0.4"/><circle cx="357.72" cy="139.18" r="0.4"/><circle cx="353.15" cy="143.36" r="0.4"/><circle cx="349.57" cy="142.80" r="0.4"/><circle cx="356.03" cy="136.92" r="0.4"/><circle cx="356.30" cy="139.61" r="0.4"/><circle cx="355.54" cy="142.03" r="0.4"/><circle cx="354.86" cy="139.18" r="0.4"/><circle cx="355.51" cy="135.98" r="0.4"/><circle cx="350.84" cy="143.60" r="0.4"/><circle cx="357.16" cy="149.21" r="0.4"/><circle cx="352.09" cy="141.72" r="0.4"/><circle cx="359.54" cy="150.64" r="0.4"/><circle cx="359.99" cy="143.46" r="0.4"/><circle cx="356.00" cy="144.55" r="0.4"/><circle cx="359.61" cy="139.80" r="0.4"/><circle cx="358.10" cy="144.24" r="0.4"/><circle cx="358.12" cy="141.36" r="0.4"/><circle cx="350.67" cy="141.74" r="0.4"/><circle cx="356.37" cy="140.11" r="0.4"/><circle cx="354.84" cy="138.91" r="0.4"/><circle cx="356.35" cy="141.84" r="0.4"/><circle cx="355.29" cy="143.61" r="0.4"/><circle cx="354.76" cy="143.37" r="0.4"/><circle cx="354.70" cy="135.39" r="0.4"/><circle cx="356.59" cy="143.89" r="0.4"/><circle cx="355.36" cy="142.91" r="0.4"/><circle cx="357.26" cy="138.78" r="0.4"/><circle cx="350.17" cy="137.13" r="0.4"/><circle cx="352.70" cy="145.70" r="0.4"/><circle cx="352.97" cy="139.09" r="0.4"/><circle cx="357.42" cy="150.18" r="0.4"/><circle cx="359.76" cy="138.91" r="0.4"/><circle cx="355.83" cy="137.57" r="0.4"/><circle cx="355.49" cy="140.88" r="0.4"/><circle cx="354.10" cy="136.39" r="0.4"/><circle cx="357.72" cy="138.27" r="0.4"/><circle cx="357.53" cy="148.09" r="0.4"/><circle cx="357.71" cy="139.53" r="0.4"/><circle cx="348.42" cy="144.87" r="0.4"/><circle cx="355.17" cy="143.62" r="0.4"/><circle cx="358.07" cy="144.00" r="0.4"/><circle cx="358.68" cy="145.61" r="0.4"/><circle cx="354.17" cy="146.51" r="0.4"/><circle cx="359.94" cy="142.11" r="0.4"/><circle cx="353.53" cy="142.49" r="0.4"/><circle cx="350.96" cy="144.33" r="0.4"/><circle cx="359.67" cy="144.80" r="0.4"/><circle cx="350.88" cy="135.36" r="0.4"/><circle cx="359.97" cy="144.63" r="0.4"/><circle cx="358.70" cy="145.64" r="0.4"/><circle cx="355.71" cy="139.37" r="0.4"/><circle cx="350.97" cy="148.97" r="0.4"/><circle cx="348.54" cy="140.81" r="0.4"/><circle cx="356.10" cy="141.81" r="0.4"/><circle cx="356.10" cy="144.05" r="0.4"/><circle cx="357.93" cy="147.12" r="0.4"/><circle cx="355.92" cy="143.54" r="0.4"/><circle cx="356.72" cy="141.83" r="0.4"/><circle cx="355.24" cy="148.47" r="0.4"/><circle cx="351.36" cy="140.68" r="0.4"/><circle cx="357.79" cy="142.74" r="0.4"/><circle cx="352.82" cy="143.24" r="0.4"/><circle cx="354.38" cy="143.28" r="0.4"/><circle cx="356.23" cy="138.69" r="0.4"/><circle cx="357.96" cy="143.96" r="0.4"/><circle cx="357.39" cy="140.50" r="0.4"/><circle cx="347.79" cy="134.89" r="0.4"/><circle cx="356.86" cy="140.54" r="0.4"/><circle cx="357.00" cy="146.52" r="0.4"/><circle cx="354.16" cy="140.44" r="0.4"/><circle cx="348.83" cy="141.11" r="0.4"/><circle cx="359.69" cy="142.13" r="0.4"/><circle cx="356.31" cy="141.16" r="0.4"/><circle cx="357.03" cy="148.49" r="0.4"/><circle cx="357.35" cy="142.64" r="0.4"/><circle cx="357.70" cy="141.65" r="0.4"/><circle cx="355.91" cy="141.47" r="0.4"/><circle cx="359.19" cy="140.48" r="0.4"/><circle cx="353.11" cy="138.03" r="0.4"/><circle cx="357.41" cy="141.95" r="0.4"/><circle cx="355.43" cy="141.86" r="0.4"/><circle cx="358.65" cy="142.40" r="0.4"/><circle cx="356.50" cy="143.46" r="0.4"/><circle cx="359.63" cy="137.36" r="0.4"/><circle cx="355.85" cy="142.60" r="0.4"/><circle cx="352.40" cy="142.17" r="0.4"/><circle cx="349.98" cy="140.21" r="0.4"/><circle cx="356.21" cy="138.96" r="0.4"/><circle cx="359.40" cy="142.81" r="0.4"/><circle cx="351.09" cy="143.41" r="0.4"/><circle cx="348.95" cy="148.94" r="0.4"/><circle cx="359.16" cy="143.63" r="0.4"/><circle cx="349.35" cy="141.76" r="0.4"/><circle cx="354.66" cy="136.35" r="0.4"/><circle cx="354.85" cy="150.85" r="0.4"/><circle cx="351.39" cy="145.13" r="0.4"/><circle cx="349.18" cy="144.24" r="0.4"/><circle cx="359.97" cy="142.26" r="0.4"/><circle cx="355.13" cy="142.12" r="0.4"/><circle cx="348.53" cy="140.97" r="0.4"/><circle cx="350.51" cy="147.92" r="0.4"/><circle cx="355.42" cy="140.04" r="0.4"/><circle cx="353.57" cy="145.86" r="0.4"/><circle cx="348.78" cy="144.04" r="0.4"/><circle cx="356.77" cy="142.74" r="0.4"/><circle cx="353.08" cy="144.07" r="0.4"/><circle cx="356.25" cy="142.12" r="0.4"/><circle cx="359.38" cy="138.34" r="0.4"/><circle cx="357.12" cy="145.37" r="0.4"/><circle cx="353.29" cy="144.64" r="0.4"/><circle cx="355.65" cy="135.68" r="0.4"/><circle cx="356.16" cy="140.43" r="0.4"/><circle cx="353.73" cy="143.07" r="0.4"/><circle cx="357.05" cy="145.27" r="0.4"/></g>
<g fill="#2a80d0" fill-opacity="0.5"><circle cx="364.88" cy="143.47" r="0.4"/><circle cx="364.03" cy="143.62" r="0.4"/><circle cx="364.08" cy="137.81" r="0.4"/><circle cx="363.82" cy="137.59" r="0.4"/><circle cx="364.61" cy="141.94" r="0.4"/><circle cx="364.94" cy="149.75" r="0.4"/><circle cx="364.76" cy="138.77" r="0.4"/><circle cx="364.67" cy="137.63" r="0.4"/><circle cx="363.54" cy="143.39" r="0.4"/><circle cx="364.24" cy="148.72" r="0.4"/><circle cx="364.19" cy="142.21" r="0.4"/><circle cx="364.17" cy="141.37" r="0.4"/><circle cx="364.71" cy="141.86" r="0.4"/><circle cx="366.17" cy="142.71" r="0.4"/><circle cx="364.08" cy="140.55" r="0.4"/><circle cx="363.90" cy="142.18" r="0.4"/><circle cx="364.80" cy="145.46" r="0.4"/><circle cx="363.22" cy="147.28" r="0.4"/><circle cx="364.61" cy="140.45" r="0.4"/><circle cx="364.15" cy="136.22" r="0.4"/><circle cx="362.80" cy="138.97" r="0.4"/><circle cx="364.85" cy="143.26" r="0.4"/><circle cx="363.75" cy="146.29" r="0.4"/><circle cx="364.25" cy="142.64" r="0.4"/><circle cx="364.67" cy="137.23" r="0.4"/><circle cx="364.17" cy="140.70" r="0.4"/><circle cx="363.63" cy="148.34" r="0.4"/><circle cx="364.48" cy="150.32" r="0.4"/><circle cx="363.74" cy="139.95" r="0.4"/><circle cx="365.51" cy="143.10" r="0.4"/><circle cx="363.38" cy="138.75" r="0.4"/><circle cx="364.71" cy="143.00" r="0.4"/><circle cx="364.32" cy="136.74" r="0.4"/><circle cx="364.62" cy="143.32" r="0.4"/><circle cx="364.74" cy="139.67" r="0.4"/><circle cx="364.74" cy="141.61" r="0.4"/><circle cx="364.02" cy="142.70" r="0.4"/><circle cx="364.67" cy="137.85" r="0.4"/><circle cx="363.10" cy="134.29" r="0.4"/><circle cx="365.17" cy="148.71" r="0.4"/><circle cx="364.80" cy="140.89" r="0.4"/><circle cx="364.24" cy="142.96" r="0.4"/><circle cx="364.39" cy="142.31" r="0.4"/><circle cx="365.04" cy="142.37" r="0.4"/><circle cx="364.04" cy="146.87" r="0.4"/><circle cx="364.66" cy="144.17" r="0.4"/><circle cx="365.27" cy="142.24" r="0.4"/><circle cx="363.68" cy="143.96" r="0.4"/><circle cx="364.32" cy="144.30" r="0.4"/><circle cx="364.52" cy="142.86" r="0.4"/><circle cx="364.12" cy="141.30" r="0.4"/><circle cx="364.58" cy="139.21" r="0.4"/><circle cx="364.56" cy="144.97" r="0.4"/><circle cx="364.42" cy="137.12" r="0.4"/><circle cx="365.29" cy="135.51" r="0.4"/><circle cx="363.90" cy="140.00" r="0.4"/><circle cx="364.57" cy="141.16" r="0.4"/><circle cx="364.03" cy="140.01" r="0.4"/><circle cx="364.64" cy="144.20" r="0.4"/><circle cx="364.07" cy="141.72" r="0.4"/><circle cx="364.06" cy="138.90" r="0.4"/><circle cx="364.63" cy="143.26" r="0.4"/><circle cx="364.74" cy="145.60" r="0.4"/><circle cx="362.82" cy="144.92" r="0.4"/><circle cx="364.67" cy="139.89" r="0.4"/><circle cx="363.73" cy="142.64" r="0.4"/><circle cx="363.92" cy="138.68" r="0.4"/><circle cx="364.89" cy="144.76" r="0.4"/><circle cx="364.32" cy="143.98" r="0.4"/><circle cx="363.95" cy="139.81" r="0.4"/><circle cx="364.49" cy="143.35" r="0.4"/><circle cx="365.46" cy="141.55" r="0.4"/><circle cx="364.38" cy="141.30" r="0.4"/><circle cx="363.14" cy="136.67" r="0.4"/><circle cx="364.63" cy="145.07" r="0.4"/><circle cx="365.63" cy="131.99" r="0.4"/><circle cx="363.69" cy="143.46" r="0.4"/><circle cx="363.60" cy="142.14" r="0.4"/><circle cx="364.34" cy="137.67" r="0.4"/><circle cx="365.20" cy="143.14" r="0.4"/><circle cx="363.58" cy="144.20" r="0.4"/><circle cx="364.40" cy="141.04" r="0.4"/><circle cx="364.31" cy="138.77" r="0.4"/><circle cx="364.31" cy="138.56" r="0.4"/><circle cx="365.08" cy="136.99" r="0.4"/><circle cx="364.67" cy="137.57" r="0.4"/><circle cx="363.60" cy="141.47" r="0.4"/><circle cx="364.60" cy="143.89" r="0.4"/><circle cx="363.42" cy="136.44" r="0.4"/><circle cx="366.42" cy="144.15" r="0.4"/><circle cx="364.39" cy="147.17" r="0.4"/><circle cx="363.74" cy="143.26" r="0.4"/><circle cx="364.21" cy="139.27" r="0.4"/><circle cx="365.71" cy="136.16" r="0.4"/><circle cx="364.58" cy="142.93" r="0.4"/><circle cx="365.53" cy="144.00" r="0.4"/><circle cx="364.05" cy="144.45" r="0.4"/><circle cx="364.70" cy="140.93" r="0.4"/><circle cx="363.81" cy="139.12" r="0.4"/><circle cx="364.22" cy="146.84" r="0.4"/><circle cx="364.15" cy="141.43" r="0.4"/><circle cx="363.87" cy="138.79" r="0.4"/><circle cx="363.08" cy="140.57" r="0.4"/><circle cx="364.17" cy="140.56" r="0.4"/><circle cx="364.28" cy="141.21" r="0.4"/><circle cx="364.83" cy="140.67" r="0.4"/><circle cx="365.17" cy="147.81" r="0.4"/><circle cx="364.35" cy="141.54" r="0.4"/><circle cx="364.87" cy="142.03" r="0.4"/><circle cx="365.33" cy="140.01" r="0.4"/><circle cx="365.49" cy="141.03" r="0.4"/><circle cx="364.53" cy="143.13" r="0.4"/><circle cx="362.93" cy="140.26" r="0.4"/><circle cx="364.95" cy="144.30" r="0.4"/><circle cx="364.83" cy="137.68" r="0.4"/><circle cx="363.86" cy="141.33" r="0.4"/><circle cx="364.09" cy="141.99" r="0.4"/><circle cx="364.06" cy="138.44" r="0.4"/><circle cx="364.41" cy="137.13" r="0.4"/><circle cx="364.30" cy="142.27" r="0.4"/><circle cx="363.99" cy="142.74" r="0.4"/><circle cx="364.26" cy="145.54" r="0.4"/><circle cx="365.15" cy="144.04" r="0.4"/><circle cx="363.78" cy="141.44" r="0.4"/><circle cx="364.25" cy="142.89" r="0.4"/><circle cx="364.32" cy="142.15" r="0.4"/><circle cx="363.85" cy="144.95" r="0.4"/><circle cx="365.06" cy="141.03" r="0.4"/><circle cx="363.30" cy="142.28" r="0.4"/><circle cx="364.79" cy="143.99" r="0.4"/><circle cx="365.38" cy="146.63" r="0.4"/><circle cx="364.56" cy="142.84" r="0.4"/><circle cx="363.38" cy="138.87" r="0.4"/><circle cx="365.00" cy="146.11" r="0.4"/><circle cx="365.52" cy="136.04" r="0.4"/><circle cx="363.64" cy="139.94" r="0.4"/><circle cx="364.18" cy="142.77" r="0.4"/><circle cx="365.24" cy="145.57" r="0.4"/><circle cx="364.71" cy="140.27" r="0.4"/><circle cx="364.42" cy="139.26" r="0.4"/><circle cx="363.50" cy="144.02" r="0.4"/><circle cx="363.94" cy="138.51" r="0.4"/><circle cx="364.41" cy="140.92" r="0.4"/><circle cx="364.69" cy="146.23" r="0.4"/><circle cx="364.75" cy="144.24" r="0.4"/><circle cx="364.11" cy="139.16" r="0.4"/><circle cx="364.99" cy="143.17" r="0.4"/><circle cx="363.64" cy="137.54" r="0.4"/><circle cx="364.38" cy="138.52" r="0.4"/><circle cx="364.47" cy="140.71" r="0.4"/><circle cx="365.35" cy="137.97" r="0.4"/><circle cx="363.85" cy="143.54" r="0.4"/><circle cx="364.67" cy="141.94" r="0.4"/><circle cx="364.16" cy="139.48" r="0.4"/><circle cx="364.75" cy="145.89" r="0.4"/><circle cx="364.22" cy="141.46" r="0.4"/><circle cx="364.24" cy="141.22" r="0.4"/><circle cx="364.43" cy="146.17" r="0.4"/><circle cx="364.98" cy="140.53" r="0.4"/><circle cx="364.50" cy="134.33" r="0.4"/></g>
<rect x="342.90" y="129.40" width="17.80" height="24.30" fill="none" stroke="#9656c0" stroke-width="0.95"/>
<rect x="360.70" y="129.40" width="19.10" height="24.30" fill="none" stroke="#4a94da" stroke-width="0.95" rx="0.8"/>
<text x="343.90" y="114.68" font-size="3.60" fill="#777" textLength="12.50" lengthAdjust="spacingAndGlyphs">0.000%</text>
<text x="364.70" y="114.68" font-size="3.60" fill="#777" textLength="12.50" lengthAdjust="spacingAndGlyphs">0.000%</text>
<text x="355.30" y="118.97" font-size="3.30" font-weight="bold" fill="#2a7ad0" textLength="22.00" lengthAdjust="spacingAndGlyphs">B4: 28.102%</text>
<text x="355.30" y="121.97" font-size="3.30" font-weight="bold" fill="#7a3aaa" textLength="22.00" lengthAdjust="spacingAndGlyphs">B3: 25.079%</text>
<text x="344.10" y="152.88" font-size="3.60" fill="#777" textLength="14.00" lengthAdjust="spacingAndGlyphs">71.898%</text>
<text x="363.50" y="152.88" font-size="3.60" fill="#777" textLength="14.00" lengthAdjust="spacingAndGlyphs">28.102%</text>
<text transform="translate(337.70 134.00) rotate(-90)" x="0" y="0.92" font-size="2.60" text-anchor="middle" fill="#444" textLength="8.00" lengthAdjust="spacingAndGlyphs">SLL-A</text>
<text x="362.25" y="162.89" font-size="2.80" text-anchor="middle" fill="#444" textLength="15.50" lengthAdjust="spacingAndGlyphs">CD8 - FITC-A</text>
<rect x="393.30" y="110.20" width="37.50" height="44.00" fill="none" stroke="#c4c4c4" stroke-width="0.60"/>
<line x1="392.10" y1="110.20" x2="393.30" y2="110.20" stroke="#777" stroke-width="0.50"/>
<text x="391.70" y="110.84" font-size="1.80" text-anchor="end" fill="#777">10</text>
<line x1="392.10" y1="119.00" x2="393.30" y2="119.00" stroke="#777" stroke-width="0.50"/>
<text x="391.70" y="119.64" font-size="1.80" text-anchor="end" fill="#777">10</text>
<line x1="392.10" y1="127.80" x2="393.30" y2="127.80" stroke="#777" stroke-width="0.50"/>
<text x="391.70" y="128.44" font-size="1.80" text-anchor="end" fill="#777">10</text>
<line x1="392.10" y1="136.60" x2="393.30" y2="136.60" stroke="#777" stroke-width="0.50"/>
<text x="391.70" y="137.24" font-size="1.80" text-anchor="end" fill="#777">10</text>
<line x1="392.10" y1="145.40" x2="393.30" y2="145.40" stroke="#777" stroke-width="0.50"/>
<text x="391.70" y="146.04" font-size="1.80" text-anchor="end" fill="#777">10</text>
<line x1="392.10" y1="154.20" x2="393.30" y2="154.20" stroke="#777" stroke-width="0.50"/>
<text x="391.70" y="154.84" font-size="1.80" text-anchor="end" fill="#777">10</text>
<line x1="393.30" y1="154.20" x2="393.30" y2="155.40" stroke="#777" stroke-width="0.50"/>
<text x="393.30" y="157.04" font-size="1.80" text-anchor="middle" fill="#777">10</text>
<line x1="399.55" y1="154.20" x2="399.55" y2="155.40" stroke="#777" stroke-width="0.50"/>
<text x="399.55" y="157.04" font-size="1.80" text-anchor="middle" fill="#777">10</text>
<line x1="405.80" y1="154.20" x2="405.80" y2="155.40" stroke="#777" stroke-width="0.50"/>
<text x="405.80" y="157.04" font-size="1.80" text-anchor="middle" fill="#777">10</text>
<line x1="412.05" y1="154.20" x2="412.05" y2="155.40" stroke="#777" stroke-width="0.50"/>
<text x="412.05" y="157.04" font-size="1.80" text-anchor="middle" fill="#777">10</text>
<line x1="418.30" y1="154.20" x2="418.30" y2="155.40" stroke="#777" stroke-width="0.50"/>
<text x="418.30" y="157.04" font-size="1.80" text-anchor="middle" fill="#777">10</text>
<line x1="424.55" y1="154.20" x2="424.55" y2="155.40" stroke="#777" stroke-width="0.50"/>
<text x="424.55" y="157.04" font-size="1.80" text-anchor="middle" fill="#777">10</text>
<line x1="430.80" y1="154.20" x2="430.80" y2="155.40" stroke="#777" stroke-width="0.50"/>
<text x="430.80" y="157.04" font-size="1.80" text-anchor="middle" fill="#777">10</text>
<line x1="410.60" y1="110.20" x2="410.60" y2="154.20" stroke="#a8a8a8" stroke-width="0.70"/>
<line x1="393.30" y1="136.70" x2="430.80" y2="136.70" stroke="#a8a8a8" stroke-width="0.70"/>
<g fill="#3a90dc" fill-opacity="0.4"><circle cx="409.65" cy="140.02" r="0.4"/><circle cx="407.55" cy="140.74" r="0.4"/><circle cx="408.00" cy="142.51" r="0.4"/><circle cx="406.42" cy="145.02" r="0.4"/><circle cx="411.53" cy="137.92" r="0.4"/><circle cx="411.62" cy="141.69" r="0.4"/><circle cx="411.79" cy="143.72" r="0.4"/><circle cx="407.47" cy="144.85" r="0.4"/><circle cx="407.19" cy="146.22" r="0.4"/><circle cx="408.23" cy="136.18" r="0.4"/><circle cx="408.68" cy="142.77" r="0.4"/><circle cx="409.09" cy="144.50" r="0.4"/><circle cx="410.61" cy="141.61" r="0.4"/><circle cx="410.06" cy="142.28" r="0.4"/><circle cx="408.65" cy="140.65" r="0.4"/><circle cx="409.71" cy="141.49" r="0.4"/><circle cx="408.13" cy="141.33" r="0.4"/><circle cx="407.57" cy="139.74" r="0.4"/><circle cx="406.80" cy="139.32" r="0.4"/><circle cx="408.03" cy="143.28" r="0.4"/><circle cx="407.50" cy="143.99" r="0.4"/><circle cx="411.34" cy="146.10" r="0.4"/><circle cx="408.77" cy="142.31" r="0.4"/><circle cx="406.61" cy="143.16" r="0.4"/><circle cx="409.72" cy="149.75" r="0.4"/><circle cx="403.51" cy="136.46" r="0.4"/><circle cx="407.40" cy="140.84" r="0.4"/><circle cx="408.95" cy="145.76" r="0.4"/><circle cx="408.20" cy="138.19" r="0.4"/><circle cx="410.91" cy="146.92" r="0.4"/><circle cx="407.33" cy="139.18" r="0.4"/><circle cx="407.05" cy="139.48" r="0.4"/><circle cx="407.03" cy="145.12" r="0.4"/><circle cx="406.36" cy="136.23" r="0.4"/><circle cx="411.67" cy="143.03" r="0.4"/><circle cx="407.44" cy="137.94" r="0.4"/><circle cx="412.05" cy="136.93" r="0.4"/><circle cx="407.76" cy="148.47" r="0.4"/><circle cx="408.70" cy="137.52" r="0.4"/><circle cx="410.85" cy="132.95" r="0.4"/><circle cx="404.72" cy="147.68" r="0.4"/><circle cx="410.45" cy="142.91" r="0.4"/><circle cx="411.18" cy="141.12" r="0.4"/><circle cx="408.00" cy="136.35" r="0.4"/><circle cx="411.81" cy="141.68" r="0.4"/><circle cx="409.85" cy="144.68" r="0.4"/><circle cx="408.61" cy="138.88" r="0.4"/><circle cx="410.18" cy="142.21" r="0.4"/><circle cx="408.65" cy="147.56" r="0.4"/><circle cx="405.89" cy="140.00" r="0.4"/><circle cx="407.40" cy="147.96" r="0.4"/><circle cx="409.63" cy="136.02" r="0.4"/><circle cx="409.93" cy="146.54" r="0.4"/><circle cx="405.73" cy="135.14" r="0.4"/><circle cx="409.42" cy="142.09" r="0.4"/><circle cx="406.29" cy="136.44" r="0.4"/><circle cx="410.85" cy="137.48" r="0.4"/><circle cx="407.29" cy="138.05" r="0.4"/><circle cx="409.52" cy="146.52" r="0.4"/><circle cx="411.35" cy="137.70" r="0.4"/><circle cx="411.73" cy="136.11" r="0.4"/><circle cx="406.51" cy="132.25" r="0.4"/><circle cx="412.02" cy="144.19" r="0.4"/><circle cx="408.86" cy="135.93" r="0.4"/><circle cx="406.31" cy="144.74" r="0.4"/><circle cx="409.90" cy="140.24" r="0.4"/><circle cx="408.43" cy="138.42" r="0.4"/><circle cx="406.75" cy="136.13" r="0.4"/><circle cx="411.02" cy="145.26" r="0.4"/><circle cx="405.24" cy="141.60" r="0.4"/><circle cx="408.98" cy="134.57" r="0.4"/><circle cx="409.38" cy="139.47" r="0.4"/><circle cx="407.37" cy="142.09" r="0.4"/><circle cx="406.54" cy="142.64" r="0.4"/><circle cx="406.55" cy="129.94" r="0.4"/><circle cx="405.51" cy="136.45" r="0.4"/><circle cx="407.29" cy="138.17" r="0.4"/><circle cx="406.77" cy="137.46" r="0.4"/><circle cx="409.08" cy="140.01" r="0.4"/><circle cx="405.61" cy="138.79" r="0.4"/><circle cx="408.07" cy="133.83" r="0.4"/><circle cx="409.25" cy="143.16" r="0.4"/><circle cx="407.95" cy="135.89" r="0.4"/><circle cx="410.80" cy="138.56" r="0.4"/><circle cx="403.52" cy="135.08" r="0.4"/><circle cx="409.13" cy="140.84" r="0.4"/><circle cx="408.18" cy="137.10" r="0.4"/><circle cx="406.88" cy="142.67" r="0.4"/><circle cx="406.56" cy="139.90" r="0.4"/><circle cx="411.85" cy="140.95" r="0.4"/><circle cx="409.21" cy="145.21" r="0.4"/><circle cx="406.99" cy="139.15" r="0.4"/><circle cx="404.75" cy="144.58" r="0.4"/><circle cx="407.76" cy="142.61" r="0.4"/><circle cx="409.29" cy="135.75" r="0.4"/><circle cx="410.05" cy="137.89" r="0.4"/><circle cx="405.80" cy="141.79" r="0.4"/><circle cx="409.40" cy="142.55" r="0.4"/><circle cx="404.72" cy="137.58" r="0.4"/><circle cx="406.75" cy="139.06" r="0.4"/><circle cx="409.78" cy="142.17" r="0.4"/><circle cx="408.11" cy="135.99" r="0.4"/><circle cx="409.17" cy="139.29" r="0.4"/><circle cx="410.42" cy="147.64" r="0.4"/><circle cx="411.81" cy="143.04" r="0.4"/><circle cx="406.17" cy="141.34" r="0.4"/><circle cx="407.31" cy="140.73" r="0.4"/><circle cx="410.94" cy="143.43" r="0.4"/><circle cx="407.50" cy="131.77" r="0.4"/><circle cx="410.65" cy="145.65" r="0.4"/><circle cx="408.42" cy="136.01" r="0.4"/><circle cx="408.24" cy="142.39" r="0.4"/><circle cx="409.02" cy="148.73" r="0.4"/><circle cx="408.73" cy="139.28" r="0.4"/><circle cx="403.62" cy="141.69" r="0.4"/><circle cx="405.74" cy="139.19" r="0.4"/><circle cx="407.68" cy="143.70" r="0.4"/><circle cx="409.07" cy="135.56" r="0.4"/><circle cx="409.69" cy="135.20" r="0.4"/><circle cx="406.81" cy="143.13" r="0.4"/><circle cx="410.13" cy="143.04" r="0.4"/><circle cx="407.93" cy="135.40" r="0.4"/><circle cx="409.34" cy="140.29" r="0.4"/><circle cx="406.03" cy="136.10" r="0.4"/><circle cx="409.44" cy="142.85" r="0.4"/><circle cx="406.84" cy="142.70" r="0.4"/><circle cx="408.08" cy="139.24" r="0.4"/><circle cx="407.28" cy="138.54" r="0.4"/><circle cx="411.35" cy="133.48" r="0.4"/><circle cx="406.79" cy="143.53" r="0.4"/><circle cx="405.90" cy="139.65" r="0.4"/><circle cx="403.87" cy="142.26" r="0.4"/><circle cx="409.98" cy="145.14" r="0.4"/><circle cx="409.94" cy="143.00" r="0.4"/><circle cx="412.43" cy="144.20" r="0.4"/><circle cx="411.14" cy="134.44" r="0.4"/><circle cx="408.65" cy="139.77" r="0.4"/><circle cx="405.26" cy="139.53" r="0.4"/><circle cx="408.92" cy="135.76" r="0.4"/><circle cx="412.04" cy="145.49" r="0.4"/><circle cx="412.57" cy="150.47" r="0.4"/><circle cx="407.26" cy="137.64" r="0.4"/><circle cx="408.71" cy="138.25" r="0.4"/><circle cx="407.38" cy="139.04" r="0.4"/><circle cx="412.18" cy="146.66" r="0.4"/><circle cx="406.06" cy="142.28" r="0.4"/><circle cx="411.63" cy="144.55" r="0.4"/><circle cx="407.23" cy="133.85" r="0.4"/><circle cx="408.73" cy="143.45" r="0.4"/><circle cx="408.51" cy="139.63" r="0.4"/><circle cx="409.28" cy="139.22" r="0.4"/><circle cx="407.71" cy="135.28" r="0.4"/><circle cx="407.26" cy="137.81" r="0.4"/><circle cx="405.03" cy="137.38" r="0.4"/><circle cx="404.94" cy="140.90" r="0.4"/><circle cx="411.47" cy="138.65" r="0.4"/><circle cx="404.80" cy="146.26" r="0.4"/><circle cx="406.57" cy="137.56" r="0.4"/><circle cx="410.32" cy="139.64" r="0.4"/><circle cx="409.50" cy="140.61" r="0.4"/><circle cx="406.07" cy="144.61" r="0.4"/><circle cx="412.11" cy="143.60" r="0.4"/><circle cx="411.37" cy="138.37" r="0.4"/><circle cx="406.56" cy="146.27" r="0.4"/><circle cx="407.70" cy="142.25" r="0.4"/><circle cx="406.42" cy="146.00" r="0.4"/><circle cx="409.49" cy="143.28" r="0.4"/><circle cx="407.14" cy="141.20" r="0.4"/><circle cx="404.10" cy="131.90" r="0.4"/><circle cx="411.15" cy="135.91" r="0.4"/><circle cx="408.21" cy="134.32" r="0.4"/><circle cx="407.98" cy="141.82" r="0.4"/><circle cx="407.65" cy="148.51" r="0.4"/><circle cx="406.68" cy="137.91" r="0.4"/><circle cx="411.13" cy="140.70" r="0.4"/><circle cx="407.68" cy="141.10" r="0.4"/><circle cx="412.20" cy="136.40" r="0.4"/><circle cx="409.19" cy="151.15" r="0.4"/><circle cx="409.59" cy="138.43" r="0.4"/><circle cx="411.63" cy="136.46" r="0.4"/><circle cx="410.34" cy="145.76" r="0.4"/><circle cx="410.37" cy="142.01" r="0.4"/><circle cx="411.97" cy="136.23" r="0.4"/><circle cx="412.30" cy="144.80" r="0.4"/><circle cx="409.28" cy="143.88" r="0.4"/><circle cx="409.74" cy="139.73" r="0.4"/><circle cx="406.98" cy="144.39" r="0.4"/><circle cx="408.58" cy="150.49" r="0.4"/><circle cx="406.77" cy="147.68" r="0.4"/><circle cx="407.86" cy="149.77" r="0.4"/><circle cx="410.93" cy="134.96" r="0.4"/><circle cx="408.83" cy="139.16" r="0.4"/><circle cx="410.66" cy="139.22" r="0.4"/><circle cx="408.18" cy="145.48" r="0.4"/><circle cx="412.87" cy="138.13" r="0.4"/><circle cx="410.44" cy="138.16" r="0.4"/><circle cx="407.21" cy="135.30" r="0.4"/><circle cx="409.78" cy="141.27" r="0.4"/><circle cx="407.12" cy="142.31" r="0.4"/><circle cx="411.75" cy="137.19" r="0.4"/><circle cx="408.91" cy="135.80" r="0.4"/><circle cx="405.67" cy="146.80" r="0.4"/><circle cx="407.39" cy="129.40" r="0.4"/><circle cx="406.37" cy="134.39" r="0.4"/><circle cx="409.60" cy="143.09" r="0.4"/><circle cx="408.57" cy="137.99" r="0.4"/><circle cx="407.94" cy="142.02" r="0.4"/><circle cx="406.89" cy="144.30" r="0.4"/><circle cx="408.78" cy="141.77" r="0.4"/><circle cx="406.24" cy="140.07" r="0.4"/><circle cx="407.95" cy="133.05" r="0.4"/><circle cx="411.74" cy="138.43" r="0.4"/><circle cx="407.55" cy="137.41" r="0.4"/><circle cx="405.70" cy="138.90" r="0.4"/><circle cx="408.78" cy="135.69" r="0.4"/></g>
<rect x="393.30" y="135.20" width="17.70" height="19.00" fill="none" stroke="#cc1f2a" stroke-width="1.70" rx="1"/>
<text x="394.50" y="114.48" font-size="3.60" fill="#777" textLength="12.50" lengthAdjust="spacingAndGlyphs">7.562%</text>
<text x="429.60" y="114.48" font-size="3.60" text-anchor="end" fill="#777" textLength="11.50" lengthAdjust="spacingAndGlyphs">1.361%</text>
<text x="394.50" y="152.48" font-size="3.60" fill="#777" textLength="13.00" lengthAdjust="spacingAndGlyphs">60.227%</text>
<text x="429.60" y="152.48" font-size="3.60" text-anchor="end" fill="#777" textLength="13.50" lengthAdjust="spacingAndGlyphs">11.391%</text>
<text transform="translate(389.00 133.70) rotate(-90)" x="0" y="0.92" font-size="2.60" text-anchor="middle" fill="#444" textLength="25.00" lengthAdjust="spacingAndGlyphs">HLADR - PE-Cy7-A</text>
<text x="413.05" y="162.39" font-size="2.80" text-anchor="middle" fill="#444" textLength="17.00" lengthAdjust="spacingAndGlyphs">CD45RO - PE-A</text>
<line x1="365.50" y1="138.40" x2="390.24" y2="134.20" stroke="#d83030" stroke-width="0.75" stroke-dasharray="2.4 1.0"/>
<path d="M393.20 133.70L390.49 135.68L389.99 132.72Z" fill="#cc1f2a" stroke="none" stroke-width="1.00"/>
<line x1="365.50" y1="146.30" x2="390.30" y2="152.84" stroke="#d83030" stroke-width="0.75" stroke-dasharray="2.4 1.0"/>
<path d="M393.20 153.60L389.92 154.29L390.68 151.39Z" fill="#cc1f2a" stroke="none" stroke-width="1.00"/>
<line x1="467.80" y1="50.20" x2="467.80" y2="127.40" stroke="#111" stroke-width="1.00"/>
<line x1="465.20" y1="53.00" x2="467.80" y2="53.00" stroke="#111" stroke-width="0.90"/>
<text x="462.40" y="55.48" font-size="7.00" text-anchor="end" fill="#222" stroke="#222" stroke-width="0.22" textLength="7.00" lengthAdjust="spacingAndGlyphs">40</text>
<line x1="465.20" y1="71.60" x2="467.80" y2="71.60" stroke="#111" stroke-width="0.90"/>
<text x="462.40" y="74.08" font-size="7.00" text-anchor="end" fill="#222" stroke="#222" stroke-width="0.22" textLength="7.00" lengthAdjust="spacingAndGlyphs">30</text>
<line x1="465.20" y1="90.20" x2="467.80" y2="90.20" stroke="#111" stroke-width="0.90"/>
<text x="462.40" y="92.69" font-size="7.00" text-anchor="end" fill="#222" stroke="#222" stroke-width="0.22" textLength="7.00" lengthAdjust="spacingAndGlyphs">20</text>
<line x1="465.20" y1="108.80" x2="467.80" y2="108.80" stroke="#111" stroke-width="0.90"/>
<text x="462.40" y="111.29" font-size="7.00" text-anchor="end" fill="#222" stroke="#222" stroke-width="0.22" textLength="7.00" lengthAdjust="spacingAndGlyphs">10</text>
<line x1="465.20" y1="127.40" x2="467.80" y2="127.40" stroke="#111" stroke-width="0.90"/>
<text x="462.40" y="129.89" font-size="7.00" text-anchor="end" fill="#222" stroke="#222" stroke-width="0.22" textLength="3.50" lengthAdjust="spacingAndGlyphs">0</text>
<line x1="467.80" y1="127.40" x2="502.30" y2="127.40" stroke="#111" stroke-width="1.00"/>
<line x1="478.90" y1="127.40" x2="478.90" y2="130.00" stroke="#111" stroke-width="0.90"/>
<line x1="491.70" y1="127.40" x2="491.70" y2="130.00" stroke="#111" stroke-width="0.90"/>
<text transform="translate(443.60 88.50) rotate(-90)" x="0" y="2.70" font-size="7.60" text-anchor="middle" fill="#111" stroke="#111" stroke-width="0.22" textLength="36.50" lengthAdjust="spacingAndGlyphs">% CD8+ cells</text>
<path d="M476.10 58.60L476.10 56.60L492.30 56.60L492.30 58.60" fill="none" stroke="#1a1a1a" stroke-width="1.00"/>
<circle cx="484.20" cy="53.10" r="0.55" fill="#222"/>
<line x1="474.00" y1="92.20" x2="484.50" y2="92.20" stroke="#333" stroke-width="1.00"/>
<circle cx="474.60" cy="87.50" r="1.65" fill="#1d4a8a"/>
<circle cx="483.00" cy="87.50" r="1.65" fill="#1d4a8a"/>
<circle cx="474.30" cy="92.50" r="1.65" fill="#1d4a8a"/>
<circle cx="477.30" cy="92.00" r="1.65" fill="#1d4a8a"/>
<circle cx="479.50" cy="92.00" r="1.65" fill="#1d4a8a"/>
<circle cx="481.20" cy="92.00" r="1.65" fill="#1d4a8a"/>
<circle cx="483.20" cy="92.50" r="1.65" fill="#1d4a8a"/>
<circle cx="479.30" cy="94.90" r="1.65" fill="#1d4a8a"/>
<circle cx="477.80" cy="97.90" r="1.65" fill="#1d4a8a"/>
<rect x="485.35" y="66.15" width="2.90" height="2.90" fill="#b4163c"/>
<rect x="491.05" y="66.15" width="2.90" height="2.90" fill="#b4163c"/>
<rect x="485.35" y="69.15" width="2.90" height="2.90" fill="#b4163c"/>
<rect x="494.05" y="69.25" width="2.90" height="2.90" fill="#b4163c"/>
<rect x="488.15" y="68.95" width="2.90" height="2.90" fill="#b4163c"/>
<rect x="485.35" y="72.05" width="2.90" height="2.90" fill="#b4163c"/>
<rect x="491.05" y="72.05" width="2.90" height="2.90" fill="#b4163c"/>
<rect x="485.35" y="78.75" width="2.90" height="2.90" fill="#b4163c"/>
<rect x="494.05" y="78.75" width="2.90" height="2.90" fill="#b4163c"/>
<rect x="485.35" y="82.35" width="2.90" height="2.90" fill="#b4163c"/>
<rect x="494.05" y="82.35" width="2.90" height="2.90" fill="#b4163c"/>
<line x1="485.60" y1="75.30" x2="496.60" y2="75.30" stroke="#111" stroke-width="1.00"/>
<line x1="491.00" y1="75.30" x2="491.00" y2="77.20" stroke="#b4163c" stroke-width="0.80"/>
<line x1="489.40" y1="77.20" x2="492.60" y2="77.20" stroke="#b4163c" stroke-width="0.80"/>
<rect x="458.30" y="140.60" width="4.80" height="5.20" fill="#1d4a8a" stroke="none" stroke-width="1.00"/>
<text x="466.20" y="145.79" font-size="7.00" fill="#222" stroke="#222" stroke-width="0.22" textLength="19.50" lengthAdjust="spacingAndGlyphs">+ IgG1</text>
<rect x="496.40" y="140.60" width="4.80" height="5.20" fill="#b4163c" stroke="none" stroke-width="1.00"/>
<text x="503.40" y="145.79" font-size="7.00" fill="#222" stroke="#222" stroke-width="0.22" textLength="9.20" lengthAdjust="spacingAndGlyphs">+D</text>
<text x="36.70" y="216.87" font-size="6.40" text-anchor="end" fill="#222" stroke="#222" stroke-width="0.22" textLength="19.70" lengthAdjust="spacingAndGlyphs">Isotype</text>
<text x="36.90" y="260.97" font-size="6.40" text-anchor="end" fill="#222" stroke="#222" stroke-width="0.22" textLength="17.00" lengthAdjust="spacingAndGlyphs">No Tx.</text>
<text x="36.90" y="304.77" font-size="6.40" text-anchor="end" fill="#222" stroke="#222" stroke-width="0.22" textLength="8.90" lengthAdjust="spacingAndGlyphs">+D</text>
<text x="36.90" y="348.97" font-size="6.40" text-anchor="end" fill="#222" stroke="#222" stroke-width="0.22" textLength="8.30" lengthAdjust="spacingAndGlyphs">+K</text>
<line x1="61.20" y1="200.30" x2="61.20" y2="228.70" stroke="#9a9a9a" stroke-width="0.80"/>
<line x1="50.70" y1="216.40" x2="79.90" y2="216.40" stroke="#9a9a9a" stroke-width="0.80"/>
<line x1="50.70" y1="200.30" x2="50.70" y2="228.70" stroke="#6f86bd" stroke-width="1.00"/>
<line x1="50.70" y1="228.70" x2="79.90" y2="228.70" stroke="#6f86bd" stroke-width="1.00"/>
<line x1="50.70" y1="202.08" x2="51.50" y2="202.08" stroke="#9aa8d4" stroke-width="0.40"/>
<line x1="50.70" y1="203.85" x2="51.50" y2="203.85" stroke="#9aa8d4" stroke-width="0.40"/>
<line x1="50.70" y1="205.62" x2="51.50" y2="205.62" stroke="#9aa8d4" stroke-width="0.40"/>
<line x1="50.70" y1="207.40" x2="51.50" y2="207.40" stroke="#9aa8d4" stroke-width="0.40"/>
<line x1="50.70" y1="209.18" x2="51.50" y2="209.18" stroke="#9aa8d4" stroke-width="0.40"/>
<line x1="50.70" y1="210.95" x2="51.50" y2="210.95" stroke="#9aa8d4" stroke-width="0.40"/>
<line x1="50.70" y1="212.72" x2="51.50" y2="212.72" stroke="#9aa8d4" stroke-width="0.40"/>
<line x1="50.70" y1="214.50" x2="51.50" y2="214.50" stroke="#9aa8d4" stroke-width="0.40"/>
<line x1="50.70" y1="216.28" x2="51.50" y2="216.28" stroke="#9aa8d4" stroke-width="0.40"/>
<line x1="50.70" y1="218.05" x2="51.50" y2="218.05" stroke="#9aa8d4" stroke-width="0.40"/>
<line x1="50.70" y1="219.82" x2="51.50" y2="219.82" stroke="#9aa8d4" stroke-width="0.40"/>
<line x1="50.70" y1="221.60" x2="51.50" y2="221.60" stroke="#9aa8d4" stroke-width="0.40"/>
<line x1="50.70" y1="223.38" x2="51.50" y2="223.38" stroke="#9aa8d4" stroke-width="0.40"/>
<line x1="50.70" y1="225.15" x2="51.50" y2="225.15" stroke="#9aa8d4" stroke-width="0.40"/>
<line x1="50.70" y1="226.92" x2="51.50" y2="226.92" stroke="#9aa8d4" stroke-width="0.40"/>
<line x1="52.53" y1="228.70" x2="52.53" y2="227.90" stroke="#9aa8d4" stroke-width="0.40"/>
<line x1="54.35" y1="228.70" x2="54.35" y2="227.90" stroke="#9aa8d4" stroke-width="0.40"/>
<line x1="56.18" y1="228.70" x2="56.18" y2="227.90" stroke="#9aa8d4" stroke-width="0.40"/>
<line x1="58.00" y1="228.70" x2="58.00" y2="227.90" stroke="#9aa8d4" stroke-width="0.40"/>
<line x1="59.83" y1="228.70" x2="59.83" y2="227.90" stroke="#9aa8d4" stroke-width="0.40"/>
<line x1="61.65" y1="228.70" x2="61.65" y2="227.90" stroke="#9aa8d4" stroke-width="0.40"/>
<line x1="63.48" y1="228.70" x2="63.48" y2="227.90" stroke="#9aa8d4" stroke-width="0.40"/>
<line x1="65.30" y1="228.70" x2="65.30" y2="227.90" stroke="#9aa8d4" stroke-width="0.40"/>
<line x1="67.12" y1="228.70" x2="67.12" y2="227.90" stroke="#9aa8d4" stroke-width="0.40"/>
<line x1="68.95" y1="228.70" x2="68.95" y2="227.90" stroke="#9aa8d4" stroke-width="0.40"/>
<line x1="70.78" y1="228.70" x2="70.78" y2="227.90" stroke="#9aa8d4" stroke-width="0.40"/>
<line x1="72.60" y1="228.70" x2="72.60" y2="227.90" stroke="#9aa8d4" stroke-width="0.40"/>
<line x1="74.43" y1="228.70" x2="74.43" y2="227.90" stroke="#9aa8d4" stroke-width="0.40"/>
<line x1="76.25" y1="228.70" x2="76.25" y2="227.90" stroke="#9aa8d4" stroke-width="0.40"/>
<line x1="78.08" y1="228.70" x2="78.08" y2="227.90" stroke="#9aa8d4" stroke-width="0.40"/>
<ellipse cx="56.50" cy="221.30" rx="4.20" ry="2.80" transform="rotate(0.0 56.50 221.30)" fill="none" stroke="#4444d2" stroke-opacity="0.9" stroke-width="0.55"/>
<ellipse cx="57.90" cy="220.70" rx="4.80" ry="3.50" transform="rotate(0.0 57.90 220.70)" fill="url(#blob)"/>
<text x="51.10" y="204.12" font-size="4.00" font-weight="bold" fill="#1a1a1a" textLength="11.20" lengthAdjust="spacingAndGlyphs">0.00%</text>
<text x="81.10" y="204.12" font-size="4.00" text-anchor="end" font-weight="bold" fill="#1a1a1a" textLength="11.20" lengthAdjust="spacingAndGlyphs">0.00%</text>
<text x="51.10" y="227.12" font-size="4.00" font-weight="bold" fill="#1a1a1a" textLength="13.20" lengthAdjust="spacingAndGlyphs">98.21%</text>
<text x="81.30" y="227.12" font-size="4.00" text-anchor="end" font-weight="bold" fill="#1a1a1a" textLength="11.20" lengthAdjust="spacingAndGlyphs">1.79%</text>
<text x="40.50" y="202.66" font-size="4.90" fill="#4848a0" textLength="4.30" lengthAdjust="spacingAndGlyphs">10</text>
<text x="44.85" y="200.61" font-size="2.70" fill="#4848a0">4</text>
<text x="40.50" y="211.40" font-size="4.90" fill="#4848a0" textLength="4.30" lengthAdjust="spacingAndGlyphs">10</text>
<text x="44.85" y="209.34" font-size="2.70" fill="#4848a0">3</text>
<text x="40.50" y="220.13" font-size="4.90" fill="#4848a0" textLength="4.30" lengthAdjust="spacingAndGlyphs">10</text>
<text x="44.85" y="218.07" font-size="2.70" fill="#4848a0">2</text>
<text x="40.50" y="228.86" font-size="4.90" fill="#4848a0" textLength="4.30" lengthAdjust="spacingAndGlyphs">10</text>
<text x="44.85" y="226.81" font-size="2.70" fill="#4848a0">1</text>
<text x="49.20" y="237.56" font-size="4.90" fill="#4848a0" textLength="4.30" lengthAdjust="spacingAndGlyphs">10</text>
<text x="53.55" y="235.51" font-size="2.70" fill="#4848a0">1</text>
<text x="56.95" y="237.56" font-size="4.90" fill="#4848a0" textLength="4.30" lengthAdjust="spacingAndGlyphs">10</text>
<text x="61.30" y="235.51" font-size="2.70" fill="#4848a0">2</text>
<text x="66.30" y="237.56" font-size="4.90" fill="#4848a0" textLength="4.30" lengthAdjust="spacingAndGlyphs">10</text>
<text x="70.65" y="235.51" font-size="2.70" fill="#4848a0">3</text>
<text x="75.64" y="237.56" font-size="4.90" fill="#4848a0" textLength="4.30" lengthAdjust="spacingAndGlyphs">10</text>
<text x="79.99" y="235.51" font-size="2.70" fill="#4848a0">4</text>
<line x1="61.90" y1="244.20" x2="61.90" y2="273.00" stroke="#9a9a9a" stroke-width="0.80"/>
<line x1="50.70" y1="260.60" x2="79.90" y2="260.60" stroke="#9a9a9a" stroke-width="0.80"/>
<line x1="50.70" y1="244.20" x2="50.70" y2="273.00" stroke="#6f86bd" stroke-width="1.00"/>
<line x1="50.70" y1="273.00" x2="79.90" y2="273.00" stroke="#6f86bd" stroke-width="1.00"/>
<line x1="50.70" y1="246.00" x2="51.50" y2="246.00" stroke="#9aa8d4" stroke-width="0.40"/>
<line x1="50.70" y1="247.80" x2="51.50" y2="247.80" stroke="#9aa8d4" stroke-width="0.40"/>
<line x1="50.70" y1="249.60" x2="51.50" y2="249.60" stroke="#9aa8d4" stroke-width="0.40"/>
<line x1="50.70" y1="251.40" x2="51.50" y2="251.40" stroke="#9aa8d4" stroke-width="0.40"/>
<line x1="50.70" y1="253.20" x2="51.50" y2="253.20" stroke="#9aa8d4" stroke-width="0.40"/>
<line x1="50.70" y1="255.00" x2="51.50" y2="255.00" stroke="#9aa8d4" stroke-width="0.40"/>
<line x1="50.70" y1="256.80" x2="51.50" y2="256.80" stroke="#9aa8d4" stroke-width="0.40"/>
<line x1="50.70" y1="258.60" x2="51.50" y2="258.60" stroke="#9aa8d4" stroke-width="0.40"/>
<line x1="50.70" y1="260.40" x2="51.50" y2="260.40" stroke="#9aa8d4" stroke-width="0.40"/>
<line x1="50.70" y1="262.20" x2="51.50" y2="262.20" stroke="#9aa8d4" stroke-width="0.40"/>
<line x1="50.70" y1="264.00" x2="51.50" y2="264.00" stroke="#9aa8d4" stroke-width="0.40"/>
<line x1="50.70" y1="265.80" x2="51.50" y2="265.80" stroke="#9aa8d4" stroke-width="0.40"/>
<line x1="50.70" y1="267.60" x2="51.50" y2="267.60" stroke="#9aa8d4" stroke-width="0.40"/>
<line x1="50.70" y1="269.40" x2="51.50" y2="269.40" stroke="#9aa8d4" stroke-width="0.40"/>
<line x1="50.70" y1="271.20" x2="51.50" y2="271.20" stroke="#9aa8d4" stroke-width="0.40"/>
<line x1="52.53" y1="273.00" x2="52.53" y2="272.20" stroke="#9aa8d4" stroke-width="0.40"/>
<line x1="54.35" y1="273.00" x2="54.35" y2="272.20" stroke="#9aa8d4" stroke-width="0.40"/>
<line x1="56.18" y1="273.00" x2="56.18" y2="272.20" stroke="#9aa8d4" stroke-width="0.40"/>
<line x1="58.00" y1="273.00" x2="58.00" y2="272.20" stroke="#9aa8d4" stroke-width="0.40"/>
<line x1="59.83" y1="273.00" x2="59.83" y2="272.20" stroke="#9aa8d4" stroke-width="0.40"/>
<line x1="61.65" y1="273.00" x2="61.65" y2="272.20" stroke="#9aa8d4" stroke-width="0.40"/>
<line x1="63.48" y1="273.00" x2="63.48" y2="272.20" stroke="#9aa8d4" stroke-width="0.40"/>
<line x1="65.30" y1="273.00" x2="65.30" y2="272.20" stroke="#9aa8d4" stroke-width="0.40"/>
<line x1="67.12" y1="273.00" x2="67.12" y2="272.20" stroke="#9aa8d4" stroke-width="0.40"/>
<line x1="68.95" y1="273.00" x2="68.95" y2="272.20" stroke="#9aa8d4" stroke-width="0.40"/>
<line x1="70.78" y1="273.00" x2="70.78" y2="272.20" stroke="#9aa8d4" stroke-width="0.40"/>
<line x1="72.60" y1="273.00" x2="72.60" y2="272.20" stroke="#9aa8d4" stroke-width="0.40"/>
<line x1="74.43" y1="273.00" x2="74.43" y2="272.20" stroke="#9aa8d4" stroke-width="0.40"/>
<line x1="76.25" y1="273.00" x2="76.25" y2="272.20" stroke="#9aa8d4" stroke-width="0.40"/>
<line x1="78.08" y1="273.00" x2="78.08" y2="272.20" stroke="#9aa8d4" stroke-width="0.40"/>
<ellipse cx="61.30" cy="265.00" rx="6.30" ry="4.00" transform="rotate(-5.0 61.30 265.00)" fill="none" stroke="#4444d2" stroke-opacity="0.9" stroke-width="0.55"/>
<ellipse cx="61.00" cy="265.10" rx="5.90" ry="3.80" transform="rotate(-5.0 61.00 265.10)" fill="url(#blob)"/>
<text x="51.10" y="248.02" font-size="4.00" font-weight="bold" fill="#1a1a1a" textLength="11.20" lengthAdjust="spacingAndGlyphs">0.11%</text>
<text x="81.10" y="248.02" font-size="4.00" text-anchor="end" font-weight="bold" fill="#1a1a1a" textLength="11.20" lengthAdjust="spacingAndGlyphs">0.00%</text>
<text x="51.10" y="271.42" font-size="4.00" font-weight="bold" fill="#1a1a1a" textLength="13.20" lengthAdjust="spacingAndGlyphs">89.63%</text>
<text x="81.30" y="271.42" font-size="4.00" text-anchor="end" font-weight="bold" fill="#1a1a1a" textLength="13.60" lengthAdjust="spacingAndGlyphs">10.21%</text>
<text x="40.50" y="246.56" font-size="4.90" fill="#4848a0" textLength="4.30" lengthAdjust="spacingAndGlyphs">10</text>
<text x="44.85" y="244.51" font-size="2.70" fill="#4848a0">4</text>
<text x="40.50" y="255.43" font-size="4.90" fill="#4848a0" textLength="4.30" lengthAdjust="spacingAndGlyphs">10</text>
<text x="44.85" y="253.37" font-size="2.70" fill="#4848a0">3</text>
<text x="40.50" y="264.30" font-size="4.90" fill="#4848a0" textLength="4.30" lengthAdjust="spacingAndGlyphs">10</text>
<text x="44.85" y="262.24" font-size="2.70" fill="#4848a0">2</text>
<text x="40.50" y="273.16" font-size="4.90" fill="#4848a0" textLength="4.30" lengthAdjust="spacingAndGlyphs">10</text>
<text x="44.85" y="271.11" font-size="2.70" fill="#4848a0">1</text>
<text x="49.20" y="281.86" font-size="4.90" fill="#4848a0" textLength="4.30" lengthAdjust="spacingAndGlyphs">10</text>
<text x="53.55" y="279.81" font-size="2.70" fill="#4848a0">1</text>
<text x="56.95" y="281.86" font-size="4.90" fill="#4848a0" textLength="4.30" lengthAdjust="spacingAndGlyphs">10</text>
<text x="61.30" y="279.81" font-size="2.70" fill="#4848a0">2</text>
<text x="66.30" y="281.86" font-size="4.90" fill="#4848a0" textLength="4.30" lengthAdjust="spacingAndGlyphs">10</text>
<text x="70.65" y="279.81" font-size="2.70" fill="#4848a0">3</text>
<text x="75.64" y="281.86" font-size="4.90" fill="#4848a0" textLength="4.30" lengthAdjust="spacingAndGlyphs">10</text>
<text x="79.99" y="279.81" font-size="2.70" fill="#4848a0">4</text>
<line x1="61.50" y1="288.90" x2="61.50" y2="315.80" stroke="#9a9a9a" stroke-width="0.80"/>
<line x1="50.90" y1="303.90" x2="79.90" y2="303.90" stroke="#9a9a9a" stroke-width="0.80"/>
<line x1="50.90" y1="288.90" x2="50.90" y2="315.80" stroke="#6f86bd" stroke-width="1.00"/>
<line x1="50.90" y1="315.80" x2="79.90" y2="315.80" stroke="#6f86bd" stroke-width="1.00"/>
<line x1="50.90" y1="290.58" x2="51.70" y2="290.58" stroke="#9aa8d4" stroke-width="0.40"/>
<line x1="50.90" y1="292.26" x2="51.70" y2="292.26" stroke="#9aa8d4" stroke-width="0.40"/>
<line x1="50.90" y1="293.94" x2="51.70" y2="293.94" stroke="#9aa8d4" stroke-width="0.40"/>
<line x1="50.90" y1="295.62" x2="51.70" y2="295.62" stroke="#9aa8d4" stroke-width="0.40"/>
<line x1="50.90" y1="297.31" x2="51.70" y2="297.31" stroke="#9aa8d4" stroke-width="0.40"/>
<line x1="50.90" y1="298.99" x2="51.70" y2="298.99" stroke="#9aa8d4" stroke-width="0.40"/>
<line x1="50.90" y1="300.67" x2="51.70" y2="300.67" stroke="#9aa8d4" stroke-width="0.40"/>
<line x1="50.90" y1="302.35" x2="51.70" y2="302.35" stroke="#9aa8d4" stroke-width="0.40"/>
<line x1="50.90" y1="304.03" x2="51.70" y2="304.03" stroke="#9aa8d4" stroke-width="0.40"/>
<line x1="50.90" y1="305.71" x2="51.70" y2="305.71" stroke="#9aa8d4" stroke-width="0.40"/>
<line x1="50.90" y1="307.39" x2="51.70" y2="307.39" stroke="#9aa8d4" stroke-width="0.40"/>
<line x1="50.90" y1="309.07" x2="51.70" y2="309.07" stroke="#9aa8d4" stroke-width="0.40"/>
<line x1="50.90" y1="310.76" x2="51.70" y2="310.76" stroke="#9aa8d4" stroke-width="0.40"/>
<line x1="50.90" y1="312.44" x2="51.70" y2="312.44" stroke="#9aa8d4" stroke-width="0.40"/>
<line x1="50.90" y1="314.12" x2="51.70" y2="314.12" stroke="#9aa8d4" stroke-width="0.40"/>
<line x1="52.71" y1="315.80" x2="52.71" y2="315.00" stroke="#9aa8d4" stroke-width="0.40"/>
<line x1="54.52" y1="315.80" x2="54.52" y2="315.00" stroke="#9aa8d4" stroke-width="0.40"/>
<line x1="56.34" y1="315.80" x2="56.34" y2="315.00" stroke="#9aa8d4" stroke-width="0.40"/>
<line x1="58.15" y1="315.80" x2="58.15" y2="315.00" stroke="#9aa8d4" stroke-width="0.40"/>
<line x1="59.96" y1="315.80" x2="59.96" y2="315.00" stroke="#9aa8d4" stroke-width="0.40"/>
<line x1="61.78" y1="315.80" x2="61.78" y2="315.00" stroke="#9aa8d4" stroke-width="0.40"/>
<line x1="63.59" y1="315.80" x2="63.59" y2="315.00" stroke="#9aa8d4" stroke-width="0.40"/>
<line x1="65.40" y1="315.80" x2="65.40" y2="315.00" stroke="#9aa8d4" stroke-width="0.40"/>
<line x1="67.21" y1="315.80" x2="67.21" y2="315.00" stroke="#9aa8d4" stroke-width="0.40"/>
<line x1="69.03" y1="315.80" x2="69.03" y2="315.00" stroke="#9aa8d4" stroke-width="0.40"/>
<line x1="70.84" y1="315.80" x2="70.84" y2="315.00" stroke="#9aa8d4" stroke-width="0.40"/>
<line x1="72.65" y1="315.80" x2="72.65" y2="315.00" stroke="#9aa8d4" stroke-width="0.40"/>
<line x1="74.46" y1="315.80" x2="74.46" y2="315.00" stroke="#9aa8d4" stroke-width="0.40"/>
<line x1="76.28" y1="315.80" x2="76.28" y2="315.00" stroke="#9aa8d4" stroke-width="0.40"/>
<line x1="78.09" y1="315.80" x2="78.09" y2="315.00" stroke="#9aa8d4" stroke-width="0.40"/>
<ellipse cx="64.50" cy="308.40" rx="7.50" ry="3.20" transform="rotate(0.0 64.50 308.40)" fill="none" stroke="#9090e0" stroke-opacity="0.9" stroke-width="0.55"/>
<ellipse cx="63.00" cy="308.30" rx="6.20" ry="3.60" transform="rotate(0.0 63.00 308.30)" fill="none" stroke="#4444d2" stroke-opacity="0.9" stroke-width="0.55"/>
<ellipse cx="62.20" cy="308.20" rx="5.60" ry="3.40" transform="rotate(0.0 62.20 308.20)" fill="url(#blob)"/>
<text x="51.30" y="292.72" font-size="4.00" font-weight="bold" fill="#1a1a1a" textLength="11.20" lengthAdjust="spacingAndGlyphs">0.00%</text>
<text x="81.10" y="292.72" font-size="4.00" text-anchor="end" font-weight="bold" fill="#1a1a1a" textLength="11.20" lengthAdjust="spacingAndGlyphs">0.00%</text>
<text x="51.30" y="314.22" font-size="4.00" font-weight="bold" fill="#1a1a1a" textLength="13.20" lengthAdjust="spacingAndGlyphs">42.92%</text>
<text x="81.30" y="314.22" font-size="4.00" text-anchor="end" font-weight="bold" fill="#1a1a1a" textLength="13.60" lengthAdjust="spacingAndGlyphs">57.08%</text>
<text x="40.70" y="291.26" font-size="4.90" fill="#4848a0" textLength="4.30" lengthAdjust="spacingAndGlyphs">10</text>
<text x="45.05" y="289.21" font-size="2.70" fill="#4848a0">4</text>
<text x="40.70" y="299.50" font-size="4.90" fill="#4848a0" textLength="4.30" lengthAdjust="spacingAndGlyphs">10</text>
<text x="45.05" y="297.44" font-size="2.70" fill="#4848a0">3</text>
<text x="40.70" y="307.73" font-size="4.90" fill="#4848a0" textLength="4.30" lengthAdjust="spacingAndGlyphs">10</text>
<text x="45.05" y="305.67" font-size="2.70" fill="#4848a0">2</text>
<text x="40.70" y="315.96" font-size="4.90" fill="#4848a0" textLength="4.30" lengthAdjust="spacingAndGlyphs">10</text>
<text x="45.05" y="313.91" font-size="2.70" fill="#4848a0">1</text>
<text x="49.40" y="324.66" font-size="4.90" fill="#4848a0" textLength="4.30" lengthAdjust="spacingAndGlyphs">10</text>
<text x="53.75" y="322.61" font-size="2.70" fill="#4848a0">1</text>
<text x="57.09" y="324.66" font-size="4.90" fill="#4848a0" textLength="4.30" lengthAdjust="spacingAndGlyphs">10</text>
<text x="61.44" y="322.61" font-size="2.70" fill="#4848a0">2</text>
<text x="66.37" y="324.66" font-size="4.90" fill="#4848a0" textLength="4.30" lengthAdjust="spacingAndGlyphs">10</text>
<text x="70.72" y="322.61" font-size="2.70" fill="#4848a0">3</text>
<text x="75.65" y="324.66" font-size="4.90" fill="#4848a0" textLength="4.30" lengthAdjust="spacingAndGlyphs">10</text>
<text x="80.00" y="322.61" font-size="2.70" fill="#4848a0">4</text>
<line x1="61.80" y1="331.40" x2="61.80" y2="360.50" stroke="#9a9a9a" stroke-width="0.80"/>
<line x1="50.70" y1="348.20" x2="79.90" y2="348.20" stroke="#9a9a9a" stroke-width="0.80"/>
<line x1="50.70" y1="331.40" x2="50.70" y2="360.50" stroke="#6f86bd" stroke-width="1.00"/>
<line x1="50.70" y1="360.50" x2="79.90" y2="360.50" stroke="#6f86bd" stroke-width="1.00"/>
<line x1="50.70" y1="333.22" x2="51.50" y2="333.22" stroke="#9aa8d4" stroke-width="0.40"/>
<line x1="50.70" y1="335.04" x2="51.50" y2="335.04" stroke="#9aa8d4" stroke-width="0.40"/>
<line x1="50.70" y1="336.86" x2="51.50" y2="336.86" stroke="#9aa8d4" stroke-width="0.40"/>
<line x1="50.70" y1="338.67" x2="51.50" y2="338.67" stroke="#9aa8d4" stroke-width="0.40"/>
<line x1="50.70" y1="340.49" x2="51.50" y2="340.49" stroke="#9aa8d4" stroke-width="0.40"/>
<line x1="50.70" y1="342.31" x2="51.50" y2="342.31" stroke="#9aa8d4" stroke-width="0.40"/>
<line x1="50.70" y1="344.13" x2="51.50" y2="344.13" stroke="#9aa8d4" stroke-width="0.40"/>
<line x1="50.70" y1="345.95" x2="51.50" y2="345.95" stroke="#9aa8d4" stroke-width="0.40"/>
<line x1="50.70" y1="347.77" x2="51.50" y2="347.77" stroke="#9aa8d4" stroke-width="0.40"/>
<line x1="50.70" y1="349.59" x2="51.50" y2="349.59" stroke="#9aa8d4" stroke-width="0.40"/>
<line x1="50.70" y1="351.41" x2="51.50" y2="351.41" stroke="#9aa8d4" stroke-width="0.40"/>
<line x1="50.70" y1="353.23" x2="51.50" y2="353.23" stroke="#9aa8d4" stroke-width="0.40"/>
<line x1="50.70" y1="355.04" x2="51.50" y2="355.04" stroke="#9aa8d4" stroke-width="0.40"/>
<line x1="50.70" y1="356.86" x2="51.50" y2="356.86" stroke="#9aa8d4" stroke-width="0.40"/>
<line x1="50.70" y1="358.68" x2="51.50" y2="358.68" stroke="#9aa8d4" stroke-width="0.40"/>
<line x1="52.53" y1="360.50" x2="52.53" y2="359.70" stroke="#9aa8d4" stroke-width="0.40"/>
<line x1="54.35" y1="360.50" x2="54.35" y2="359.70" stroke="#9aa8d4" stroke-width="0.40"/>
<line x1="56.18" y1="360.50" x2="56.18" y2="359.70" stroke="#9aa8d4" stroke-width="0.40"/>
<line x1="58.00" y1="360.50" x2="58.00" y2="359.70" stroke="#9aa8d4" stroke-width="0.40"/>
<line x1="59.83" y1="360.50" x2="59.83" y2="359.70" stroke="#9aa8d4" stroke-width="0.40"/>
<line x1="61.65" y1="360.50" x2="61.65" y2="359.70" stroke="#9aa8d4" stroke-width="0.40"/>
<line x1="63.48" y1="360.50" x2="63.48" y2="359.70" stroke="#9aa8d4" stroke-width="0.40"/>
<line x1="65.30" y1="360.50" x2="65.30" y2="359.70" stroke="#9aa8d4" stroke-width="0.40"/>
<line x1="67.12" y1="360.50" x2="67.12" y2="359.70" stroke="#9aa8d4" stroke-width="0.40"/>
<line x1="68.95" y1="360.50" x2="68.95" y2="359.70" stroke="#9aa8d4" stroke-width="0.40"/>
<line x1="70.78" y1="360.50" x2="70.78" y2="359.70" stroke="#9aa8d4" stroke-width="0.40"/>
<line x1="72.60" y1="360.50" x2="72.60" y2="359.70" stroke="#9aa8d4" stroke-width="0.40"/>
<line x1="74.43" y1="360.50" x2="74.43" y2="359.70" stroke="#9aa8d4" stroke-width="0.40"/>
<line x1="76.25" y1="360.50" x2="76.25" y2="359.70" stroke="#9aa8d4" stroke-width="0.40"/>
<line x1="78.08" y1="360.50" x2="78.08" y2="359.70" stroke="#9aa8d4" stroke-width="0.40"/>
<ellipse cx="61.50" cy="352.80" rx="9.00" ry="3.60" transform="rotate(0.0 61.50 352.80)" fill="none" stroke="#8080e0" stroke-opacity="0.9" stroke-width="0.55"/>
<ellipse cx="60.00" cy="352.80" rx="6.80" ry="3.20" transform="rotate(0.0 60.00 352.80)" fill="none" stroke="#4444d2" stroke-opacity="0.9" stroke-width="0.55"/>
<ellipse cx="59.50" cy="352.60" rx="5.20" ry="3.80" transform="rotate(0.0 59.50 352.60)" fill="none" stroke="#4444d2" stroke-opacity="0.9" stroke-width="0.55"/>
<ellipse cx="60.20" cy="352.60" rx="4.20" ry="3.60" transform="rotate(0.0 60.20 352.60)" fill="url(#blob)"/>
<text x="51.10" y="335.22" font-size="4.00" font-weight="bold" fill="#1a1a1a" textLength="11.20" lengthAdjust="spacingAndGlyphs">0.01%</text>
<text x="81.10" y="335.22" font-size="4.00" text-anchor="end" font-weight="bold" fill="#1a1a1a" textLength="11.20" lengthAdjust="spacingAndGlyphs">0.01%</text>
<text x="51.10" y="358.92" font-size="4.00" font-weight="bold" fill="#1a1a1a" textLength="13.20" lengthAdjust="spacingAndGlyphs">87.30%</text>
<text x="81.30" y="358.92" font-size="4.00" text-anchor="end" font-weight="bold" fill="#1a1a1a" textLength="13.60" lengthAdjust="spacingAndGlyphs">12.60%</text>
<text x="40.50" y="333.76" font-size="4.90" fill="#4848a0" textLength="4.30" lengthAdjust="spacingAndGlyphs">10</text>
<text x="44.85" y="331.71" font-size="2.70" fill="#4848a0">4</text>
<text x="40.50" y="342.73" font-size="4.90" fill="#4848a0" textLength="4.30" lengthAdjust="spacingAndGlyphs">10</text>
<text x="44.85" y="340.67" font-size="2.70" fill="#4848a0">3</text>
<text x="40.50" y="351.70" font-size="4.90" fill="#4848a0" textLength="4.30" lengthAdjust="spacingAndGlyphs">10</text>
<text x="44.85" y="349.64" font-size="2.70" fill="#4848a0">2</text>
<text x="40.50" y="360.66" font-size="4.90" fill="#4848a0" textLength="4.30" lengthAdjust="spacingAndGlyphs">10</text>
<text x="44.85" y="358.61" font-size="2.70" fill="#4848a0">1</text>
<text x="49.20" y="369.36" font-size="4.90" fill="#4848a0" textLength="4.30" lengthAdjust="spacingAndGlyphs">10</text>
<text x="53.55" y="367.31" font-size="2.70" fill="#4848a0">1</text>
<text x="56.95" y="369.36" font-size="4.90" fill="#4848a0" textLength="4.30" lengthAdjust="spacingAndGlyphs">10</text>
<text x="61.30" y="367.31" font-size="2.70" fill="#4848a0">2</text>
<text x="66.30" y="369.36" font-size="4.90" fill="#4848a0" textLength="4.30" lengthAdjust="spacingAndGlyphs">10</text>
<text x="70.65" y="367.31" font-size="2.70" fill="#4848a0">3</text>
<text x="75.64" y="369.36" font-size="4.90" fill="#4848a0" textLength="4.30" lengthAdjust="spacingAndGlyphs">10</text>
<text x="79.99" y="367.31" font-size="2.70" fill="#4848a0">4</text>
<text x="65.15" y="378.50" font-size="7.60" text-anchor="middle" fill="#222" stroke="#222" stroke-width="0.22" textLength="12.90" lengthAdjust="spacingAndGlyphs">CD137</text>
<text x="255.80" y="215.57" font-size="6.40" text-anchor="end" fill="#222" stroke="#222" stroke-width="0.22" textLength="20.10" lengthAdjust="spacingAndGlyphs">Isotype</text>
<text x="255.80" y="259.77" font-size="6.40" text-anchor="end" fill="#222" stroke="#222" stroke-width="0.22" textLength="17.30" lengthAdjust="spacingAndGlyphs">No Tx.</text>
<text x="255.80" y="304.47" font-size="6.40" text-anchor="end" fill="#222" stroke="#222" stroke-width="0.22" textLength="8.60" lengthAdjust="spacingAndGlyphs">+D</text>
<text x="255.80" y="348.77" font-size="6.40" text-anchor="end" fill="#222" stroke="#222" stroke-width="0.22" textLength="8.30" lengthAdjust="spacingAndGlyphs">+K</text>
<line x1="280.40" y1="198.30" x2="280.40" y2="227.50" stroke="#9a9a9a" stroke-width="0.80"/>
<line x1="269.60" y1="212.30" x2="297.80" y2="212.30" stroke="#9a9a9a" stroke-width="0.80"/>
<line x1="269.60" y1="198.30" x2="269.60" y2="227.50" stroke="#6f86bd" stroke-width="1.00"/>
<line x1="269.60" y1="227.50" x2="297.80" y2="227.50" stroke="#6f86bd" stroke-width="1.00"/>
<line x1="269.60" y1="200.12" x2="270.40" y2="200.12" stroke="#9aa8d4" stroke-width="0.40"/>
<line x1="269.60" y1="201.95" x2="270.40" y2="201.95" stroke="#9aa8d4" stroke-width="0.40"/>
<line x1="269.60" y1="203.78" x2="270.40" y2="203.78" stroke="#9aa8d4" stroke-width="0.40"/>
<line x1="269.60" y1="205.60" x2="270.40" y2="205.60" stroke="#9aa8d4" stroke-width="0.40"/>
<line x1="269.60" y1="207.43" x2="270.40" y2="207.43" stroke="#9aa8d4" stroke-width="0.40"/>
<line x1="269.60" y1="209.25" x2="270.40" y2="209.25" stroke="#9aa8d4" stroke-width="0.40"/>
<line x1="269.60" y1="211.08" x2="270.40" y2="211.08" stroke="#9aa8d4" stroke-width="0.40"/>
<line x1="269.60" y1="212.90" x2="270.40" y2="212.90" stroke="#9aa8d4" stroke-width="0.40"/>
<line x1="269.60" y1="214.72" x2="270.40" y2="214.72" stroke="#9aa8d4" stroke-width="0.40"/>
<line x1="269.60" y1="216.55" x2="270.40" y2="216.55" stroke="#9aa8d4" stroke-width="0.40"/>
<line x1="269.60" y1="218.38" x2="270.40" y2="218.38" stroke="#9aa8d4" stroke-width="0.40"/>
<line x1="269.60" y1="220.20" x2="270.40" y2="220.20" stroke="#9aa8d4" stroke-width="0.40"/>
<line x1="269.60" y1="222.03" x2="270.40" y2="222.03" stroke="#9aa8d4" stroke-width="0.40"/>
<line x1="269.60" y1="223.85" x2="270.40" y2="223.85" stroke="#9aa8d4" stroke-width="0.40"/>
<line x1="269.60" y1="225.68" x2="270.40" y2="225.68" stroke="#9aa8d4" stroke-width="0.40"/>
<line x1="271.36" y1="227.50" x2="271.36" y2="226.70" stroke="#9aa8d4" stroke-width="0.40"/>
<line x1="273.12" y1="227.50" x2="273.12" y2="226.70" stroke="#9aa8d4" stroke-width="0.40"/>
<line x1="274.89" y1="227.50" x2="274.89" y2="226.70" stroke="#9aa8d4" stroke-width="0.40"/>
<line x1="276.65" y1="227.50" x2="276.65" y2="226.70" stroke="#9aa8d4" stroke-width="0.40"/>
<line x1="278.41" y1="227.50" x2="278.41" y2="226.70" stroke="#9aa8d4" stroke-width="0.40"/>
<line x1="280.18" y1="227.50" x2="280.18" y2="226.70" stroke="#9aa8d4" stroke-width="0.40"/>
<line x1="281.94" y1="227.50" x2="281.94" y2="226.70" stroke="#9aa8d4" stroke-width="0.40"/>
<line x1="283.70" y1="227.50" x2="283.70" y2="226.70" stroke="#9aa8d4" stroke-width="0.40"/>
<line x1="285.46" y1="227.50" x2="285.46" y2="226.70" stroke="#9aa8d4" stroke-width="0.40"/>
<line x1="287.23" y1="227.50" x2="287.23" y2="226.70" stroke="#9aa8d4" stroke-width="0.40"/>
<line x1="288.99" y1="227.50" x2="288.99" y2="226.70" stroke="#9aa8d4" stroke-width="0.40"/>
<line x1="290.75" y1="227.50" x2="290.75" y2="226.70" stroke="#9aa8d4" stroke-width="0.40"/>
<line x1="292.51" y1="227.50" x2="292.51" y2="226.70" stroke="#9aa8d4" stroke-width="0.40"/>
<line x1="294.28" y1="227.50" x2="294.28" y2="226.70" stroke="#9aa8d4" stroke-width="0.40"/>
<line x1="296.04" y1="227.50" x2="296.04" y2="226.70" stroke="#9aa8d4" stroke-width="0.40"/>
<ellipse cx="273.20" cy="220.60" rx="3.40" ry="3.00" transform="rotate(0.0 273.20 220.60)" fill="none" stroke="#4444d2" stroke-opacity="0.9" stroke-width="0.55"/>
<ellipse cx="271.80" cy="221.00" rx="2.00" ry="2.20" transform="rotate(0.0 271.80 221.00)" fill="none" stroke="#4444d2" stroke-opacity="0.9" stroke-width="0.55"/>
<ellipse cx="277.20" cy="219.40" rx="4.60" ry="4.20" transform="rotate(0.0 277.20 219.40)" fill="url(#blob)"/>
<text x="270.00" y="202.12" font-size="4.00" font-weight="bold" fill="#1a1a1a" textLength="11.20" lengthAdjust="spacingAndGlyphs">0.00%</text>
<text x="299.00" y="202.12" font-size="4.00" text-anchor="end" font-weight="bold" fill="#1a1a1a" textLength="11.20" lengthAdjust="spacingAndGlyphs">0.00%</text>
<text x="270.00" y="225.92" font-size="4.00" font-weight="bold" fill="#1a1a1a" textLength="13.20" lengthAdjust="spacingAndGlyphs">99.86%</text>
<text x="299.20" y="225.92" font-size="4.00" text-anchor="end" font-weight="bold" fill="#1a1a1a" textLength="11.20" lengthAdjust="spacingAndGlyphs">0.14%</text>
<text x="259.40" y="200.66" font-size="4.90" fill="#4848a0" textLength="4.30" lengthAdjust="spacingAndGlyphs">10</text>
<text x="263.75" y="198.61" font-size="2.70" fill="#4848a0">4</text>
<text x="259.40" y="209.66" font-size="4.90" fill="#4848a0" textLength="4.30" lengthAdjust="spacingAndGlyphs">10</text>
<text x="263.75" y="207.61" font-size="2.70" fill="#4848a0">3</text>
<text x="259.40" y="218.66" font-size="4.90" fill="#4848a0" textLength="4.30" lengthAdjust="spacingAndGlyphs">10</text>
<text x="263.75" y="216.61" font-size="2.70" fill="#4848a0">2</text>
<text x="259.40" y="227.66" font-size="4.90" fill="#4848a0" textLength="4.30" lengthAdjust="spacingAndGlyphs">10</text>
<text x="263.75" y="225.61" font-size="2.70" fill="#4848a0">1</text>
<text x="268.00" y="236.66" font-size="4.90" fill="#4848a0" textLength="4.30" lengthAdjust="spacingAndGlyphs">10</text>
<text x="272.35" y="234.61" font-size="2.70" fill="#4848a0">1</text>
<text x="275.80" y="236.66" font-size="4.90" fill="#4848a0" textLength="4.30" lengthAdjust="spacingAndGlyphs">10</text>
<text x="280.15" y="234.61" font-size="2.70" fill="#4848a0">2</text>
<text x="285.10" y="236.66" font-size="4.90" fill="#4848a0" textLength="4.30" lengthAdjust="spacingAndGlyphs">10</text>
<text x="289.45" y="234.61" font-size="2.70" fill="#4848a0">3</text>
<text x="294.10" y="236.66" font-size="4.90" fill="#4848a0" textLength="4.30" lengthAdjust="spacingAndGlyphs">10</text>
<text x="298.45" y="234.61" font-size="2.70" fill="#4848a0">4</text>
<line x1="280.60" y1="243.30" x2="280.60" y2="271.70" stroke="#9a9a9a" stroke-width="0.80"/>
<line x1="269.60" y1="256.60" x2="297.80" y2="256.60" stroke="#9a9a9a" stroke-width="0.80"/>
<line x1="269.60" y1="243.30" x2="269.60" y2="271.70" stroke="#6f86bd" stroke-width="1.00"/>
<line x1="269.60" y1="271.70" x2="297.80" y2="271.70" stroke="#6f86bd" stroke-width="1.00"/>
<line x1="269.60" y1="245.08" x2="270.40" y2="245.08" stroke="#9aa8d4" stroke-width="0.40"/>
<line x1="269.60" y1="246.85" x2="270.40" y2="246.85" stroke="#9aa8d4" stroke-width="0.40"/>
<line x1="269.60" y1="248.62" x2="270.40" y2="248.62" stroke="#9aa8d4" stroke-width="0.40"/>
<line x1="269.60" y1="250.40" x2="270.40" y2="250.40" stroke="#9aa8d4" stroke-width="0.40"/>
<line x1="269.60" y1="252.18" x2="270.40" y2="252.18" stroke="#9aa8d4" stroke-width="0.40"/>
<line x1="269.60" y1="253.95" x2="270.40" y2="253.95" stroke="#9aa8d4" stroke-width="0.40"/>
<line x1="269.60" y1="255.72" x2="270.40" y2="255.72" stroke="#9aa8d4" stroke-width="0.40"/>
<line x1="269.60" y1="257.50" x2="270.40" y2="257.50" stroke="#9aa8d4" stroke-width="0.40"/>
<line x1="269.60" y1="259.27" x2="270.40" y2="259.27" stroke="#9aa8d4" stroke-width="0.40"/>
<line x1="269.60" y1="261.05" x2="270.40" y2="261.05" stroke="#9aa8d4" stroke-width="0.40"/>
<line x1="269.60" y1="262.82" x2="270.40" y2="262.82" stroke="#9aa8d4" stroke-width="0.40"/>
<line x1="269.60" y1="264.60" x2="270.40" y2="264.60" stroke="#9aa8d4" stroke-width="0.40"/>
<line x1="269.60" y1="266.38" x2="270.40" y2="266.38" stroke="#9aa8d4" stroke-width="0.40"/>
<line x1="269.60" y1="268.15" x2="270.40" y2="268.15" stroke="#9aa8d4" stroke-width="0.40"/>
<line x1="269.60" y1="269.93" x2="270.40" y2="269.93" stroke="#9aa8d4" stroke-width="0.40"/>
<line x1="271.36" y1="271.70" x2="271.36" y2="270.90" stroke="#9aa8d4" stroke-width="0.40"/>
<line x1="273.12" y1="271.70" x2="273.12" y2="270.90" stroke="#9aa8d4" stroke-width="0.40"/>
<line x1="274.89" y1="271.70" x2="274.89" y2="270.90" stroke="#9aa8d4" stroke-width="0.40"/>
<line x1="276.65" y1="271.70" x2="276.65" y2="270.90" stroke="#9aa8d4" stroke-width="0.40"/>
<line x1="278.41" y1="271.70" x2="278.41" y2="270.90" stroke="#9aa8d4" stroke-width="0.40"/>
<line x1="280.18" y1="271.70" x2="280.18" y2="270.90" stroke="#9aa8d4" stroke-width="0.40"/>
<line x1="281.94" y1="271.70" x2="281.94" y2="270.90" stroke="#9aa8d4" stroke-width="0.40"/>
<line x1="283.70" y1="271.70" x2="283.70" y2="270.90" stroke="#9aa8d4" stroke-width="0.40"/>
<line x1="285.46" y1="271.70" x2="285.46" y2="270.90" stroke="#9aa8d4" stroke-width="0.40"/>
<line x1="287.23" y1="271.70" x2="287.23" y2="270.90" stroke="#9aa8d4" stroke-width="0.40"/>
<line x1="288.99" y1="271.70" x2="288.99" y2="270.90" stroke="#9aa8d4" stroke-width="0.40"/>
<line x1="290.75" y1="271.70" x2="290.75" y2="270.90" stroke="#9aa8d4" stroke-width="0.40"/>
<line x1="292.51" y1="271.70" x2="292.51" y2="270.90" stroke="#9aa8d4" stroke-width="0.40"/>
<line x1="294.28" y1="271.70" x2="294.28" y2="270.90" stroke="#9aa8d4" stroke-width="0.40"/>
<line x1="296.04" y1="271.70" x2="296.04" y2="270.90" stroke="#9aa8d4" stroke-width="0.40"/>
<ellipse cx="278.00" cy="261.60" rx="7.20" ry="3.40" transform="rotate(-38.0 278.00 261.60)" fill="none" stroke="#4444d2" stroke-opacity="0.9" stroke-width="0.55"/>
<ellipse cx="281.00" cy="258.50" rx="6.00" ry="1.50" transform="rotate(-40.0 281.00 258.50)" fill="none" stroke="#a0a0ea" stroke-opacity="0.9" stroke-width="0.55"/>
<ellipse cx="277.00" cy="263.00" rx="4.60" ry="3.30" transform="rotate(-30.0 277.00 263.00)" fill="url(#blob)"/>
<text x="270.00" y="247.12" font-size="4.00" font-weight="bold" fill="#1a1a1a" textLength="11.20" lengthAdjust="spacingAndGlyphs">0.10%</text>
<text x="299.00" y="247.12" font-size="4.00" text-anchor="end" font-weight="bold" fill="#1a1a1a" textLength="11.20" lengthAdjust="spacingAndGlyphs">0.63%</text>
<text x="270.00" y="270.12" font-size="4.00" font-weight="bold" fill="#1a1a1a" textLength="13.20" lengthAdjust="spacingAndGlyphs">87.22%</text>
<text x="299.20" y="270.12" font-size="4.00" text-anchor="end" font-weight="bold" fill="#1a1a1a" textLength="13.60" lengthAdjust="spacingAndGlyphs">12.05%</text>
<text x="259.40" y="245.66" font-size="4.90" fill="#4848a0" textLength="4.30" lengthAdjust="spacingAndGlyphs">10</text>
<text x="263.75" y="243.61" font-size="2.70" fill="#4848a0">4</text>
<text x="259.40" y="254.40" font-size="4.90" fill="#4848a0" textLength="4.30" lengthAdjust="spacingAndGlyphs">10</text>
<text x="263.75" y="252.34" font-size="2.70" fill="#4848a0">3</text>
<text x="259.40" y="263.13" font-size="4.90" fill="#4848a0" textLength="4.30" lengthAdjust="spacingAndGlyphs">10</text>
<text x="263.75" y="261.07" font-size="2.70" fill="#4848a0">2</text>
<text x="259.40" y="271.86" font-size="4.90" fill="#4848a0" textLength="4.30" lengthAdjust="spacingAndGlyphs">10</text>
<text x="263.75" y="269.81" font-size="2.70" fill="#4848a0">1</text>
<text x="268.00" y="280.86" font-size="4.90" fill="#4848a0" textLength="4.30" lengthAdjust="spacingAndGlyphs">10</text>
<text x="272.35" y="278.81" font-size="2.70" fill="#4848a0">1</text>
<text x="275.80" y="280.86" font-size="4.90" fill="#4848a0" textLength="4.30" lengthAdjust="spacingAndGlyphs">10</text>
<text x="280.15" y="278.81" font-size="2.70" fill="#4848a0">2</text>
<text x="285.10" y="280.86" font-size="4.90" fill="#4848a0" textLength="4.30" lengthAdjust="spacingAndGlyphs">10</text>
<text x="289.45" y="278.81" font-size="2.70" fill="#4848a0">3</text>
<text x="294.10" y="280.86" font-size="4.90" fill="#4848a0" textLength="4.30" lengthAdjust="spacingAndGlyphs">10</text>
<text x="298.45" y="278.81" font-size="2.70" fill="#4848a0">4</text>
<line x1="280.60" y1="287.80" x2="280.60" y2="316.30" stroke="#9a9a9a" stroke-width="0.80"/>
<line x1="269.60" y1="300.80" x2="297.80" y2="300.80" stroke="#9a9a9a" stroke-width="0.80"/>
<line x1="269.60" y1="287.80" x2="269.60" y2="316.30" stroke="#6f86bd" stroke-width="1.00"/>
<line x1="269.60" y1="316.30" x2="297.80" y2="316.30" stroke="#6f86bd" stroke-width="1.00"/>
<line x1="269.60" y1="289.58" x2="270.40" y2="289.58" stroke="#9aa8d4" stroke-width="0.40"/>
<line x1="269.60" y1="291.36" x2="270.40" y2="291.36" stroke="#9aa8d4" stroke-width="0.40"/>
<line x1="269.60" y1="293.14" x2="270.40" y2="293.14" stroke="#9aa8d4" stroke-width="0.40"/>
<line x1="269.60" y1="294.93" x2="270.40" y2="294.93" stroke="#9aa8d4" stroke-width="0.40"/>
<line x1="269.60" y1="296.71" x2="270.40" y2="296.71" stroke="#9aa8d4" stroke-width="0.40"/>
<line x1="269.60" y1="298.49" x2="270.40" y2="298.49" stroke="#9aa8d4" stroke-width="0.40"/>
<line x1="269.60" y1="300.27" x2="270.40" y2="300.27" stroke="#9aa8d4" stroke-width="0.40"/>
<line x1="269.60" y1="302.05" x2="270.40" y2="302.05" stroke="#9aa8d4" stroke-width="0.40"/>
<line x1="269.60" y1="303.83" x2="270.40" y2="303.83" stroke="#9aa8d4" stroke-width="0.40"/>
<line x1="269.60" y1="305.61" x2="270.40" y2="305.61" stroke="#9aa8d4" stroke-width="0.40"/>
<line x1="269.60" y1="307.39" x2="270.40" y2="307.39" stroke="#9aa8d4" stroke-width="0.40"/>
<line x1="269.60" y1="309.18" x2="270.40" y2="309.18" stroke="#9aa8d4" stroke-width="0.40"/>
<line x1="269.60" y1="310.96" x2="270.40" y2="310.96" stroke="#9aa8d4" stroke-width="0.40"/>
<line x1="269.60" y1="312.74" x2="270.40" y2="312.74" stroke="#9aa8d4" stroke-width="0.40"/>
<line x1="269.60" y1="314.52" x2="270.40" y2="314.52" stroke="#9aa8d4" stroke-width="0.40"/>
<line x1="271.36" y1="316.30" x2="271.36" y2="315.50" stroke="#9aa8d4" stroke-width="0.40"/>
<line x1="273.12" y1="316.30" x2="273.12" y2="315.50" stroke="#9aa8d4" stroke-width="0.40"/>
<line x1="274.89" y1="316.30" x2="274.89" y2="315.50" stroke="#9aa8d4" stroke-width="0.40"/>
<line x1="276.65" y1="316.30" x2="276.65" y2="315.50" stroke="#9aa8d4" stroke-width="0.40"/>
<line x1="278.41" y1="316.30" x2="278.41" y2="315.50" stroke="#9aa8d4" stroke-width="0.40"/>
<line x1="280.18" y1="316.30" x2="280.18" y2="315.50" stroke="#9aa8d4" stroke-width="0.40"/>
<line x1="281.94" y1="316.30" x2="281.94" y2="315.50" stroke="#9aa8d4" stroke-width="0.40"/>
<line x1="283.70" y1="316.30" x2="283.70" y2="315.50" stroke="#9aa8d4" stroke-width="0.40"/>
<line x1="285.46" y1="316.30" x2="285.46" y2="315.50" stroke="#9aa8d4" stroke-width="0.40"/>
<line x1="287.23" y1="316.30" x2="287.23" y2="315.50" stroke="#9aa8d4" stroke-width="0.40"/>
<line x1="288.99" y1="316.30" x2="288.99" y2="315.50" stroke="#9aa8d4" stroke-width="0.40"/>
<line x1="290.75" y1="316.30" x2="290.75" y2="315.50" stroke="#9aa8d4" stroke-width="0.40"/>
<line x1="292.51" y1="316.30" x2="292.51" y2="315.50" stroke="#9aa8d4" stroke-width="0.40"/>
<line x1="294.28" y1="316.30" x2="294.28" y2="315.50" stroke="#9aa8d4" stroke-width="0.40"/>
<line x1="296.04" y1="316.30" x2="296.04" y2="315.50" stroke="#9aa8d4" stroke-width="0.40"/>
<ellipse cx="277.80" cy="308.00" rx="3.90" ry="3.70" transform="rotate(0.0 277.80 308.00)" fill="url(#blob)"/>
<text x="270.00" y="291.62" font-size="4.00" font-weight="bold" fill="#1a1a1a" textLength="11.20" lengthAdjust="spacingAndGlyphs">0.47%</text>
<text x="299.00" y="291.62" font-size="4.00" text-anchor="end" font-weight="bold" fill="#1a1a1a" textLength="11.20" lengthAdjust="spacingAndGlyphs">1.17%</text>
<text x="270.00" y="314.72" font-size="4.00" font-weight="bold" fill="#1a1a1a" textLength="13.20" lengthAdjust="spacingAndGlyphs">93.43%</text>
<text x="299.20" y="314.72" font-size="4.00" text-anchor="end" font-weight="bold" fill="#1a1a1a" textLength="11.20" lengthAdjust="spacingAndGlyphs">4.93%</text>
<text x="259.40" y="290.16" font-size="4.90" fill="#4848a0" textLength="4.30" lengthAdjust="spacingAndGlyphs">10</text>
<text x="263.75" y="288.11" font-size="2.70" fill="#4848a0">4</text>
<text x="259.40" y="298.93" font-size="4.90" fill="#4848a0" textLength="4.30" lengthAdjust="spacingAndGlyphs">10</text>
<text x="263.75" y="296.87" font-size="2.70" fill="#4848a0">3</text>
<text x="259.40" y="307.70" font-size="4.90" fill="#4848a0" textLength="4.30" lengthAdjust="spacingAndGlyphs">10</text>
<text x="263.75" y="305.64" font-size="2.70" fill="#4848a0">2</text>
<text x="259.40" y="316.46" font-size="4.90" fill="#4848a0" textLength="4.30" lengthAdjust="spacingAndGlyphs">10</text>
<text x="263.75" y="314.41" font-size="2.70" fill="#4848a0">1</text>
<text x="268.00" y="325.06" font-size="4.90" fill="#4848a0" textLength="4.30" lengthAdjust="spacingAndGlyphs">10</text>
<text x="272.35" y="323.01" font-size="2.70" fill="#4848a0">1</text>
<text x="275.80" y="325.06" font-size="4.90" fill="#4848a0" textLength="4.30" lengthAdjust="spacingAndGlyphs">10</text>
<text x="280.15" y="323.01" font-size="2.70" fill="#4848a0">2</text>
<text x="285.10" y="325.06" font-size="4.90" fill="#4848a0" textLength="4.30" lengthAdjust="spacingAndGlyphs">10</text>
<text x="289.45" y="323.01" font-size="2.70" fill="#4848a0">3</text>
<text x="294.10" y="325.06" font-size="4.90" fill="#4848a0" textLength="4.30" lengthAdjust="spacingAndGlyphs">10</text>
<text x="298.45" y="323.01" font-size="2.70" fill="#4848a0">4</text>
<line x1="280.60" y1="331.20" x2="280.60" y2="360.70" stroke="#9a9a9a" stroke-width="0.80"/>
<line x1="269.60" y1="345.60" x2="297.80" y2="345.60" stroke="#9a9a9a" stroke-width="0.80"/>
<line x1="269.60" y1="331.20" x2="269.60" y2="360.70" stroke="#6f86bd" stroke-width="1.00"/>
<line x1="269.60" y1="360.70" x2="297.80" y2="360.70" stroke="#6f86bd" stroke-width="1.00"/>
<line x1="269.60" y1="333.04" x2="270.40" y2="333.04" stroke="#9aa8d4" stroke-width="0.40"/>
<line x1="269.60" y1="334.89" x2="270.40" y2="334.89" stroke="#9aa8d4" stroke-width="0.40"/>
<line x1="269.60" y1="336.73" x2="270.40" y2="336.73" stroke="#9aa8d4" stroke-width="0.40"/>
<line x1="269.60" y1="338.57" x2="270.40" y2="338.57" stroke="#9aa8d4" stroke-width="0.40"/>
<line x1="269.60" y1="340.42" x2="270.40" y2="340.42" stroke="#9aa8d4" stroke-width="0.40"/>
<line x1="269.60" y1="342.26" x2="270.40" y2="342.26" stroke="#9aa8d4" stroke-width="0.40"/>
<line x1="269.60" y1="344.11" x2="270.40" y2="344.11" stroke="#9aa8d4" stroke-width="0.40"/>
<line x1="269.60" y1="345.95" x2="270.40" y2="345.95" stroke="#9aa8d4" stroke-width="0.40"/>
<line x1="269.60" y1="347.79" x2="270.40" y2="347.79" stroke="#9aa8d4" stroke-width="0.40"/>
<line x1="269.60" y1="349.64" x2="270.40" y2="349.64" stroke="#9aa8d4" stroke-width="0.40"/>
<line x1="269.60" y1="351.48" x2="270.40" y2="351.48" stroke="#9aa8d4" stroke-width="0.40"/>
<line x1="269.60" y1="353.32" x2="270.40" y2="353.32" stroke="#9aa8d4" stroke-width="0.40"/>
<line x1="269.60" y1="355.17" x2="270.40" y2="355.17" stroke="#9aa8d4" stroke-width="0.40"/>
<line x1="269.60" y1="357.01" x2="270.40" y2="357.01" stroke="#9aa8d4" stroke-width="0.40"/>
<line x1="269.60" y1="358.86" x2="270.40" y2="358.86" stroke="#9aa8d4" stroke-width="0.40"/>
<line x1="271.36" y1="360.70" x2="271.36" y2="359.90" stroke="#9aa8d4" stroke-width="0.40"/>
<line x1="273.12" y1="360.70" x2="273.12" y2="359.90" stroke="#9aa8d4" stroke-width="0.40"/>
<line x1="274.89" y1="360.70" x2="274.89" y2="359.90" stroke="#9aa8d4" stroke-width="0.40"/>
<line x1="276.65" y1="360.70" x2="276.65" y2="359.90" stroke="#9aa8d4" stroke-width="0.40"/>
<line x1="278.41" y1="360.70" x2="278.41" y2="359.90" stroke="#9aa8d4" stroke-width="0.40"/>
<line x1="280.18" y1="360.70" x2="280.18" y2="359.90" stroke="#9aa8d4" stroke-width="0.40"/>
<line x1="281.94" y1="360.70" x2="281.94" y2="359.90" stroke="#9aa8d4" stroke-width="0.40"/>
<line x1="283.70" y1="360.70" x2="283.70" y2="359.90" stroke="#9aa8d4" stroke-width="0.40"/>
<line x1="285.46" y1="360.70" x2="285.46" y2="359.90" stroke="#9aa8d4" stroke-width="0.40"/>
<line x1="287.23" y1="360.70" x2="287.23" y2="359.90" stroke="#9aa8d4" stroke-width="0.40"/>
<line x1="288.99" y1="360.70" x2="288.99" y2="359.90" stroke="#9aa8d4" stroke-width="0.40"/>
<line x1="290.75" y1="360.70" x2="290.75" y2="359.90" stroke="#9aa8d4" stroke-width="0.40"/>
<line x1="292.51" y1="360.70" x2="292.51" y2="359.90" stroke="#9aa8d4" stroke-width="0.40"/>
<line x1="294.28" y1="360.70" x2="294.28" y2="359.90" stroke="#9aa8d4" stroke-width="0.40"/>
<line x1="296.04" y1="360.70" x2="296.04" y2="359.90" stroke="#9aa8d4" stroke-width="0.40"/>
<ellipse cx="273.60" cy="352.40" rx="3.80" ry="3.60" transform="rotate(0.0 273.60 352.40)" fill="none" stroke="#4444d2" stroke-opacity="0.9" stroke-width="0.55"/>
<ellipse cx="272.40" cy="352.60" rx="2.40" ry="2.60" transform="rotate(0.0 272.40 352.60)" fill="none" stroke="#4444d2" stroke-opacity="0.9" stroke-width="0.55"/>
<ellipse cx="286.00" cy="348.00" rx="8.00" ry="1.30" transform="rotate(-32.0 286.00 348.00)" fill="none" stroke="#a8a8ee" stroke-opacity="0.9" stroke-width="0.55"/>
<ellipse cx="276.60" cy="351.80" rx="4.90" ry="4.20" transform="rotate(0.0 276.60 351.80)" fill="url(#blob)"/>
<text x="270.00" y="335.02" font-size="4.00" font-weight="bold" fill="#1a1a1a" textLength="11.20" lengthAdjust="spacingAndGlyphs">0.03%</text>
<text x="299.00" y="335.02" font-size="4.00" text-anchor="end" font-weight="bold" fill="#1a1a1a" textLength="11.20" lengthAdjust="spacingAndGlyphs">0.26%</text>
<text x="270.00" y="359.12" font-size="4.00" font-weight="bold" fill="#1a1a1a" textLength="13.20" lengthAdjust="spacingAndGlyphs">97.95%</text>
<text x="299.20" y="359.12" font-size="4.00" text-anchor="end" font-weight="bold" fill="#1a1a1a" textLength="11.20" lengthAdjust="spacingAndGlyphs">1.76%</text>
<text x="259.40" y="333.56" font-size="4.90" fill="#4848a0" textLength="4.30" lengthAdjust="spacingAndGlyphs">10</text>
<text x="263.75" y="331.51" font-size="2.70" fill="#4848a0">4</text>
<text x="259.40" y="342.66" font-size="4.90" fill="#4848a0" textLength="4.30" lengthAdjust="spacingAndGlyphs">10</text>
<text x="263.75" y="340.61" font-size="2.70" fill="#4848a0">3</text>
<text x="259.40" y="351.76" font-size="4.90" fill="#4848a0" textLength="4.30" lengthAdjust="spacingAndGlyphs">10</text>
<text x="263.75" y="349.71" font-size="2.70" fill="#4848a0">2</text>
<text x="259.40" y="360.86" font-size="4.90" fill="#4848a0" textLength="4.30" lengthAdjust="spacingAndGlyphs">10</text>
<text x="263.75" y="358.81" font-size="2.70" fill="#4848a0">1</text>
<text x="268.00" y="368.86" font-size="4.90" fill="#4848a0" textLength="4.30" lengthAdjust="spacingAndGlyphs">10</text>
<text x="272.35" y="366.81" font-size="2.70" fill="#4848a0">1</text>
<text x="275.80" y="368.86" font-size="4.90" fill="#4848a0" textLength="4.30" lengthAdjust="spacingAndGlyphs">10</text>
<text x="280.15" y="366.81" font-size="2.70" fill="#4848a0">2</text>
<text x="285.10" y="368.86" font-size="4.90" fill="#4848a0" textLength="4.30" lengthAdjust="spacingAndGlyphs">10</text>
<text x="289.45" y="366.81" font-size="2.70" fill="#4848a0">3</text>
<text x="294.10" y="368.86" font-size="4.90" fill="#4848a0" textLength="4.30" lengthAdjust="spacingAndGlyphs">10</text>
<text x="298.45" y="366.81" font-size="2.70" fill="#4848a0">4</text>
<text x="283.65" y="378.40" font-size="7.60" text-anchor="middle" fill="#222" stroke="#222" stroke-width="0.22" textLength="7.30" lengthAdjust="spacingAndGlyphs">PD1</text>
<text x="41.00" y="417.49" font-size="7.00" fill="#2a2a2a" stroke="#2a2a2a" stroke-width="0.08" textLength="53.80" lengthAdjust="spacingAndGlyphs">CD8<tspan font-size="4.6" dy="-3.0">+</tspan><tspan dy="3.0"> gated T cells</tspan></text>
<line x1="41.00" y1="418.40" x2="94.80" y2="418.40" stroke="#666" stroke-width="0.70"/>
<text x="26.90" y="441.67" font-size="6.40" text-anchor="end" fill="#222" stroke="#222" stroke-width="0.22" textLength="19.60" lengthAdjust="spacingAndGlyphs">Isotype</text>
<text x="27.00" y="485.17" font-size="6.40" text-anchor="end" fill="#222" stroke="#222" stroke-width="0.22" textLength="17.00" lengthAdjust="spacingAndGlyphs">No Tx.</text>
<text x="27.00" y="528.77" font-size="6.40" text-anchor="end" fill="#222" stroke="#222" stroke-width="0.22" textLength="8.70" lengthAdjust="spacingAndGlyphs">+D</text>
<text x="27.00" y="572.67" font-size="6.40" text-anchor="end" fill="#222" stroke="#222" stroke-width="0.22" textLength="8.20" lengthAdjust="spacingAndGlyphs">+K</text>
<line x1="33.70" y1="440.50" x2="33.70" y2="573.70" stroke="#111" stroke-width="1.00"/>
<path d="M33.7 437.0L35.9 442.2L31.5 442.2Z" fill="#111" stroke="none" stroke-width="1.00"/>
<text transform="translate(33.60 581.40) rotate(-90)" x="0" y="2.70" font-size="7.60" text-anchor="middle" fill="#222" stroke="#222" stroke-width="0.22" textLength="9.70" lengthAdjust="spacingAndGlyphs">PD1</text>
<line x1="65.20" y1="425.50" x2="65.20" y2="452.50" stroke="#9a9a9a" stroke-width="0.80"/>
<line x1="51.30" y1="439.80" x2="83.50" y2="439.80" stroke="#9a9a9a" stroke-width="0.80"/>
<line x1="51.30" y1="425.50" x2="51.30" y2="452.50" stroke="#6f86bd" stroke-width="1.00"/>
<line x1="51.30" y1="452.50" x2="83.50" y2="452.50" stroke="#6f86bd" stroke-width="1.00"/>
<line x1="51.30" y1="427.19" x2="52.10" y2="427.19" stroke="#9aa8d4" stroke-width="0.40"/>
<line x1="51.30" y1="428.88" x2="52.10" y2="428.88" stroke="#9aa8d4" stroke-width="0.40"/>
<line x1="51.30" y1="430.56" x2="52.10" y2="430.56" stroke="#9aa8d4" stroke-width="0.40"/>
<line x1="51.30" y1="432.25" x2="52.10" y2="432.25" stroke="#9aa8d4" stroke-width="0.40"/>
<line x1="51.30" y1="433.94" x2="52.10" y2="433.94" stroke="#9aa8d4" stroke-width="0.40"/>
<line x1="51.30" y1="435.62" x2="52.10" y2="435.62" stroke="#9aa8d4" stroke-width="0.40"/>
<line x1="51.30" y1="437.31" x2="52.10" y2="437.31" stroke="#9aa8d4" stroke-width="0.40"/>
<line x1="51.30" y1="439.00" x2="52.10" y2="439.00" stroke="#9aa8d4" stroke-width="0.40"/>
<line x1="51.30" y1="440.69" x2="52.10" y2="440.69" stroke="#9aa8d4" stroke-width="0.40"/>
<line x1="51.30" y1="442.38" x2="52.10" y2="442.38" stroke="#9aa8d4" stroke-width="0.40"/>
<line x1="51.30" y1="444.06" x2="52.10" y2="444.06" stroke="#9aa8d4" stroke-width="0.40"/>
<line x1="51.30" y1="445.75" x2="52.10" y2="445.75" stroke="#9aa8d4" stroke-width="0.40"/>
<line x1="51.30" y1="447.44" x2="52.10" y2="447.44" stroke="#9aa8d4" stroke-width="0.40"/>
<line x1="51.30" y1="449.12" x2="52.10" y2="449.12" stroke="#9aa8d4" stroke-width="0.40"/>
<line x1="51.30" y1="450.81" x2="52.10" y2="450.81" stroke="#9aa8d4" stroke-width="0.40"/>
<line x1="53.31" y1="452.50" x2="53.31" y2="451.70" stroke="#9aa8d4" stroke-width="0.40"/>
<line x1="55.32" y1="452.50" x2="55.32" y2="451.70" stroke="#9aa8d4" stroke-width="0.40"/>
<line x1="57.34" y1="452.50" x2="57.34" y2="451.70" stroke="#9aa8d4" stroke-width="0.40"/>
<line x1="59.35" y1="452.50" x2="59.35" y2="451.70" stroke="#9aa8d4" stroke-width="0.40"/>
<line x1="61.36" y1="452.50" x2="61.36" y2="451.70" stroke="#9aa8d4" stroke-width="0.40"/>
<line x1="63.38" y1="452.50" x2="63.38" y2="451.70" stroke="#9aa8d4" stroke-width="0.40"/>
<line x1="65.39" y1="452.50" x2="65.39" y2="451.70" stroke="#9aa8d4" stroke-width="0.40"/>
<line x1="67.40" y1="452.50" x2="67.40" y2="451.70" stroke="#9aa8d4" stroke-width="0.40"/>
<line x1="69.41" y1="452.50" x2="69.41" y2="451.70" stroke="#9aa8d4" stroke-width="0.40"/>
<line x1="71.42" y1="452.50" x2="71.42" y2="451.70" stroke="#9aa8d4" stroke-width="0.40"/>
<line x1="73.44" y1="452.50" x2="73.44" y2="451.70" stroke="#9aa8d4" stroke-width="0.40"/>
<line x1="75.45" y1="452.50" x2="75.45" y2="451.70" stroke="#9aa8d4" stroke-width="0.40"/>
<line x1="77.46" y1="452.50" x2="77.46" y2="451.70" stroke="#9aa8d4" stroke-width="0.40"/>
<line x1="79.47" y1="452.50" x2="79.47" y2="451.70" stroke="#9aa8d4" stroke-width="0.40"/>
<line x1="81.49" y1="452.50" x2="81.49" y2="451.70" stroke="#9aa8d4" stroke-width="0.40"/>
<circle cx="70.95" cy="441.35" r="0.45" fill="#7a7ad8" fill-opacity="0.55"/>
<circle cx="75.08" cy="444.96" r="0.45" fill="#7a7ad8" fill-opacity="0.55"/>
<circle cx="73.76" cy="444.60" r="0.45" fill="#7a7ad8" fill-opacity="0.55"/>
<circle cx="56.70" cy="436.38" r="0.45" fill="#7a7ad8" fill-opacity="0.55"/>
<circle cx="78.64" cy="439.68" r="0.45" fill="#7a7ad8" fill-opacity="0.55"/>
<circle cx="77.62" cy="430.04" r="0.45" fill="#7a7ad8" fill-opacity="0.55"/>
<circle cx="67.26" cy="432.44" r="0.45" fill="#7a7ad8" fill-opacity="0.55"/>
<circle cx="69.05" cy="438.33" r="0.45" fill="#7a7ad8" fill-opacity="0.55"/>
<circle cx="56.31" cy="431.90" r="0.45" fill="#7a7ad8" fill-opacity="0.55"/>
<circle cx="62.71" cy="444.49" r="0.45" fill="#7a7ad8" fill-opacity="0.55"/>
<circle cx="74.38" cy="430.87" r="0.45" fill="#7a7ad8" fill-opacity="0.55"/>
<circle cx="75.13" cy="430.50" r="0.45" fill="#7a7ad8" fill-opacity="0.55"/>
<circle cx="70.82" cy="430.28" r="0.45" fill="#7a7ad8" fill-opacity="0.55"/>
<circle cx="56.04" cy="443.69" r="0.45" fill="#7a7ad8" fill-opacity="0.55"/>
<circle cx="61.03" cy="431.88" r="0.45" fill="#7a7ad8" fill-opacity="0.55"/>
<circle cx="79.58" cy="443.70" r="0.45" fill="#7a7ad8" fill-opacity="0.55"/>
<circle cx="62.94" cy="445.31" r="0.45" fill="#7a7ad8" fill-opacity="0.55"/>
<circle cx="68.94" cy="440.20" r="0.45" fill="#7a7ad8" fill-opacity="0.55"/>
<circle cx="60.91" cy="444.94" r="0.45" fill="#7a7ad8" fill-opacity="0.55"/>
<circle cx="72.58" cy="445.40" r="0.45" fill="#7a7ad8" fill-opacity="0.55"/>
<circle cx="77.45" cy="433.38" r="0.45" fill="#7a7ad8" fill-opacity="0.55"/>
<circle cx="64.67" cy="430.99" r="0.45" fill="#7a7ad8" fill-opacity="0.55"/>
<ellipse cx="62.50" cy="443.00" rx="7.00" ry="3.90" transform="rotate(-12.0 62.50 443.00)" fill="none" stroke="#4444d2" stroke-opacity="0.9" stroke-width="0.55"/>
<ellipse cx="62.00" cy="443.50" rx="6.00" ry="3.30" transform="rotate(-10.0 62.00 443.50)" fill="url(#blob)"/>
<text x="51.70" y="429.32" font-size="4.00" font-weight="bold" fill="#1a1a1a" textLength="11.20" lengthAdjust="spacingAndGlyphs">1.31%</text>
<text x="84.70" y="429.32" font-size="4.00" text-anchor="end" font-weight="bold" fill="#1a1a1a" textLength="11.20" lengthAdjust="spacingAndGlyphs">0.66%</text>
<text x="51.70" y="450.92" font-size="4.00" font-weight="bold" fill="#1a1a1a" textLength="13.20" lengthAdjust="spacingAndGlyphs">84.74%</text>
<text x="84.90" y="450.92" font-size="4.00" text-anchor="end" font-weight="bold" fill="#1a1a1a" textLength="13.60" lengthAdjust="spacingAndGlyphs">13.29%</text>
<text x="41.10" y="427.86" font-size="4.90" fill="#4848a0" textLength="4.30" lengthAdjust="spacingAndGlyphs">10</text>
<text x="45.45" y="425.81" font-size="2.70" fill="#4848a0">4</text>
<text x="41.10" y="436.13" font-size="4.90" fill="#4848a0" textLength="4.30" lengthAdjust="spacingAndGlyphs">10</text>
<text x="45.45" y="434.07" font-size="2.70" fill="#4848a0">3</text>
<text x="41.10" y="444.40" font-size="4.90" fill="#4848a0" textLength="4.30" lengthAdjust="spacingAndGlyphs">10</text>
<text x="45.45" y="442.34" font-size="2.70" fill="#4848a0">2</text>
<text x="41.10" y="452.66" font-size="4.90" fill="#4848a0" textLength="4.30" lengthAdjust="spacingAndGlyphs">10</text>
<text x="45.45" y="450.61" font-size="2.70" fill="#4848a0">1</text>
<text x="50.70" y="460.46" font-size="4.90" fill="#4848a0" textLength="4.30" lengthAdjust="spacingAndGlyphs">10</text>
<text x="55.05" y="458.41" font-size="2.70" fill="#4848a0">1</text>
<text x="59.20" y="460.46" font-size="4.90" fill="#4848a0" textLength="4.30" lengthAdjust="spacingAndGlyphs">10</text>
<text x="63.55" y="458.41" font-size="2.70" fill="#4848a0">2</text>
<text x="69.70" y="460.46" font-size="4.90" fill="#4848a0" textLength="4.30" lengthAdjust="spacingAndGlyphs">10</text>
<text x="74.05" y="458.41" font-size="2.70" fill="#4848a0">3</text>
<text x="79.70" y="460.46" font-size="4.90" fill="#4848a0" textLength="4.30" lengthAdjust="spacingAndGlyphs">10</text>
<text x="84.05" y="458.41" font-size="2.70" fill="#4848a0">4</text>
<line x1="65.60" y1="468.50" x2="65.60" y2="496.90" stroke="#9a9a9a" stroke-width="0.80"/>
<line x1="51.30" y1="483.50" x2="83.50" y2="483.50" stroke="#9a9a9a" stroke-width="0.80"/>
<line x1="51.30" y1="468.50" x2="51.30" y2="496.90" stroke="#6f86bd" stroke-width="1.00"/>
<line x1="51.30" y1="496.90" x2="83.50" y2="496.90" stroke="#6f86bd" stroke-width="1.00"/>
<line x1="51.30" y1="470.27" x2="52.10" y2="470.27" stroke="#9aa8d4" stroke-width="0.40"/>
<line x1="51.30" y1="472.05" x2="52.10" y2="472.05" stroke="#9aa8d4" stroke-width="0.40"/>
<line x1="51.30" y1="473.82" x2="52.10" y2="473.82" stroke="#9aa8d4" stroke-width="0.40"/>
<line x1="51.30" y1="475.60" x2="52.10" y2="475.60" stroke="#9aa8d4" stroke-width="0.40"/>
<line x1="51.30" y1="477.38" x2="52.10" y2="477.38" stroke="#9aa8d4" stroke-width="0.40"/>
<line x1="51.30" y1="479.15" x2="52.10" y2="479.15" stroke="#9aa8d4" stroke-width="0.40"/>
<line x1="51.30" y1="480.93" x2="52.10" y2="480.93" stroke="#9aa8d4" stroke-width="0.40"/>
<line x1="51.30" y1="482.70" x2="52.10" y2="482.70" stroke="#9aa8d4" stroke-width="0.40"/>
<line x1="51.30" y1="484.47" x2="52.10" y2="484.47" stroke="#9aa8d4" stroke-width="0.40"/>
<line x1="51.30" y1="486.25" x2="52.10" y2="486.25" stroke="#9aa8d4" stroke-width="0.40"/>
<line x1="51.30" y1="488.02" x2="52.10" y2="488.02" stroke="#9aa8d4" stroke-width="0.40"/>
<line x1="51.30" y1="489.80" x2="52.10" y2="489.80" stroke="#9aa8d4" stroke-width="0.40"/>
<line x1="51.30" y1="491.57" x2="52.10" y2="491.57" stroke="#9aa8d4" stroke-width="0.40"/>
<line x1="51.30" y1="493.35" x2="52.10" y2="493.35" stroke="#9aa8d4" stroke-width="0.40"/>
<line x1="51.30" y1="495.12" x2="52.10" y2="495.12" stroke="#9aa8d4" stroke-width="0.40"/>
<line x1="53.31" y1="496.90" x2="53.31" y2="496.10" stroke="#9aa8d4" stroke-width="0.40"/>
<line x1="55.32" y1="496.90" x2="55.32" y2="496.10" stroke="#9aa8d4" stroke-width="0.40"/>
<line x1="57.34" y1="496.90" x2="57.34" y2="496.10" stroke="#9aa8d4" stroke-width="0.40"/>
<line x1="59.35" y1="496.90" x2="59.35" y2="496.10" stroke="#9aa8d4" stroke-width="0.40"/>
<line x1="61.36" y1="496.90" x2="61.36" y2="496.10" stroke="#9aa8d4" stroke-width="0.40"/>
<line x1="63.38" y1="496.90" x2="63.38" y2="496.10" stroke="#9aa8d4" stroke-width="0.40"/>
<line x1="65.39" y1="496.90" x2="65.39" y2="496.10" stroke="#9aa8d4" stroke-width="0.40"/>
<line x1="67.40" y1="496.90" x2="67.40" y2="496.10" stroke="#9aa8d4" stroke-width="0.40"/>
<line x1="69.41" y1="496.90" x2="69.41" y2="496.10" stroke="#9aa8d4" stroke-width="0.40"/>
<line x1="71.42" y1="496.90" x2="71.42" y2="496.10" stroke="#9aa8d4" stroke-width="0.40"/>
<line x1="73.44" y1="496.90" x2="73.44" y2="496.10" stroke="#9aa8d4" stroke-width="0.40"/>
<line x1="75.45" y1="496.90" x2="75.45" y2="496.10" stroke="#9aa8d4" stroke-width="0.40"/>
<line x1="77.46" y1="496.90" x2="77.46" y2="496.10" stroke="#9aa8d4" stroke-width="0.40"/>
<line x1="79.47" y1="496.90" x2="79.47" y2="496.10" stroke="#9aa8d4" stroke-width="0.40"/>
<line x1="81.49" y1="496.90" x2="81.49" y2="496.10" stroke="#9aa8d4" stroke-width="0.40"/>
<circle cx="59.50" cy="472.24" r="0.45" fill="#7a7ad8" fill-opacity="0.55"/>
<circle cx="63.23" cy="482.46" r="0.45" fill="#7a7ad8" fill-opacity="0.55"/>
<circle cx="56.08" cy="483.88" r="0.45" fill="#7a7ad8" fill-opacity="0.55"/>
<circle cx="64.11" cy="476.89" r="0.45" fill="#7a7ad8" fill-opacity="0.55"/>
<circle cx="75.64" cy="480.13" r="0.45" fill="#7a7ad8" fill-opacity="0.55"/>
<circle cx="63.58" cy="480.14" r="0.45" fill="#7a7ad8" fill-opacity="0.55"/>
<circle cx="72.91" cy="472.08" r="0.45" fill="#7a7ad8" fill-opacity="0.55"/>
<circle cx="79.40" cy="471.43" r="0.45" fill="#7a7ad8" fill-opacity="0.55"/>
<circle cx="74.00" cy="487.05" r="0.45" fill="#7a7ad8" fill-opacity="0.55"/>
<circle cx="56.43" cy="485.97" r="0.45" fill="#7a7ad8" fill-opacity="0.55"/>
<circle cx="64.79" cy="481.99" r="0.45" fill="#7a7ad8" fill-opacity="0.55"/>
<circle cx="56.22" cy="471.89" r="0.45" fill="#7a7ad8" fill-opacity="0.55"/>
<circle cx="60.34" cy="489.15" r="0.45" fill="#7a7ad8" fill-opacity="0.55"/>
<circle cx="60.72" cy="485.36" r="0.45" fill="#7a7ad8" fill-opacity="0.55"/>
<circle cx="78.31" cy="488.90" r="0.45" fill="#7a7ad8" fill-opacity="0.55"/>
<circle cx="64.27" cy="477.74" r="0.45" fill="#7a7ad8" fill-opacity="0.55"/>
<circle cx="68.59" cy="485.74" r="0.45" fill="#7a7ad8" fill-opacity="0.55"/>
<circle cx="58.59" cy="485.22" r="0.45" fill="#7a7ad8" fill-opacity="0.55"/>
<circle cx="75.13" cy="487.33" r="0.45" fill="#7a7ad8" fill-opacity="0.55"/>
<circle cx="56.88" cy="488.97" r="0.45" fill="#7a7ad8" fill-opacity="0.55"/>
<circle cx="58.19" cy="477.47" r="0.45" fill="#7a7ad8" fill-opacity="0.55"/>
<circle cx="70.66" cy="488.44" r="0.45" fill="#7a7ad8" fill-opacity="0.55"/>
<ellipse cx="62.20" cy="485.20" rx="7.00" ry="4.30" transform="rotate(-35.0 62.20 485.20)" fill="none" stroke="#4444d2" stroke-opacity="0.9" stroke-width="0.55"/>
<ellipse cx="61.30" cy="486.20" rx="5.90" ry="3.90" transform="rotate(-33.0 61.30 486.20)" fill="url(#blob)"/>
<text x="51.70" y="472.32" font-size="4.00" font-weight="bold" fill="#1a1a1a" textLength="11.20" lengthAdjust="spacingAndGlyphs">5.16%</text>
<text x="84.70" y="472.32" font-size="4.00" text-anchor="end" font-weight="bold" fill="#1a1a1a" textLength="11.20" lengthAdjust="spacingAndGlyphs">9.24%</text>
<text x="51.70" y="495.32" font-size="4.00" font-weight="bold" fill="#1a1a1a" textLength="13.20" lengthAdjust="spacingAndGlyphs">77.24%</text>
<text x="84.90" y="495.32" font-size="4.00" text-anchor="end" font-weight="bold" fill="#1a1a1a" textLength="11.20" lengthAdjust="spacingAndGlyphs">8.36%</text>
<text x="41.10" y="470.86" font-size="4.90" fill="#4848a0" textLength="4.30" lengthAdjust="spacingAndGlyphs">10</text>
<text x="45.45" y="468.81" font-size="2.70" fill="#4848a0">4</text>
<text x="41.10" y="479.60" font-size="4.90" fill="#4848a0" textLength="4.30" lengthAdjust="spacingAndGlyphs">10</text>
<text x="45.45" y="477.54" font-size="2.70" fill="#4848a0">3</text>
<text x="41.10" y="488.33" font-size="4.90" fill="#4848a0" textLength="4.30" lengthAdjust="spacingAndGlyphs">10</text>
<text x="45.45" y="486.27" font-size="2.70" fill="#4848a0">2</text>
<text x="41.10" y="497.06" font-size="4.90" fill="#4848a0" textLength="4.30" lengthAdjust="spacingAndGlyphs">10</text>
<text x="45.45" y="495.01" font-size="2.70" fill="#4848a0">1</text>
<text x="50.70" y="505.56" font-size="4.90" fill="#4848a0" textLength="4.30" lengthAdjust="spacingAndGlyphs">10</text>
<text x="55.05" y="503.51" font-size="2.70" fill="#4848a0">1</text>
<text x="59.20" y="505.56" font-size="4.90" fill="#4848a0" textLength="4.30" lengthAdjust="spacingAndGlyphs">10</text>
<text x="63.55" y="503.51" font-size="2.70" fill="#4848a0">2</text>
<text x="69.70" y="505.56" font-size="4.90" fill="#4848a0" textLength="4.30" lengthAdjust="spacingAndGlyphs">10</text>
<text x="74.05" y="503.51" font-size="2.70" fill="#4848a0">3</text>
<text x="79.70" y="505.56" font-size="4.90" fill="#4848a0" textLength="4.30" lengthAdjust="spacingAndGlyphs">10</text>
<text x="84.05" y="503.51" font-size="2.70" fill="#4848a0">4</text>
<line x1="65.60" y1="513.30" x2="65.60" y2="540.00" stroke="#9a9a9a" stroke-width="0.80"/>
<line x1="51.30" y1="527.30" x2="83.50" y2="527.30" stroke="#9a9a9a" stroke-width="0.80"/>
<line x1="51.30" y1="513.30" x2="51.30" y2="540.00" stroke="#6f86bd" stroke-width="1.00"/>
<line x1="51.30" y1="540.00" x2="83.50" y2="540.00" stroke="#6f86bd" stroke-width="1.00"/>
<line x1="51.30" y1="514.97" x2="52.10" y2="514.97" stroke="#9aa8d4" stroke-width="0.40"/>
<line x1="51.30" y1="516.64" x2="52.10" y2="516.64" stroke="#9aa8d4" stroke-width="0.40"/>
<line x1="51.30" y1="518.31" x2="52.10" y2="518.31" stroke="#9aa8d4" stroke-width="0.40"/>
<line x1="51.30" y1="519.97" x2="52.10" y2="519.97" stroke="#9aa8d4" stroke-width="0.40"/>
<line x1="51.30" y1="521.64" x2="52.10" y2="521.64" stroke="#9aa8d4" stroke-width="0.40"/>
<line x1="51.30" y1="523.31" x2="52.10" y2="523.31" stroke="#9aa8d4" stroke-width="0.40"/>
<line x1="51.30" y1="524.98" x2="52.10" y2="524.98" stroke="#9aa8d4" stroke-width="0.40"/>
<line x1="51.30" y1="526.65" x2="52.10" y2="526.65" stroke="#9aa8d4" stroke-width="0.40"/>
<line x1="51.30" y1="528.32" x2="52.10" y2="528.32" stroke="#9aa8d4" stroke-width="0.40"/>
<line x1="51.30" y1="529.99" x2="52.10" y2="529.99" stroke="#9aa8d4" stroke-width="0.40"/>
<line x1="51.30" y1="531.66" x2="52.10" y2="531.66" stroke="#9aa8d4" stroke-width="0.40"/>
<line x1="51.30" y1="533.33" x2="52.10" y2="533.33" stroke="#9aa8d4" stroke-width="0.40"/>
<line x1="51.30" y1="534.99" x2="52.10" y2="534.99" stroke="#9aa8d4" stroke-width="0.40"/>
<line x1="51.30" y1="536.66" x2="52.10" y2="536.66" stroke="#9aa8d4" stroke-width="0.40"/>
<line x1="51.30" y1="538.33" x2="52.10" y2="538.33" stroke="#9aa8d4" stroke-width="0.40"/>
<line x1="53.31" y1="540.00" x2="53.31" y2="539.20" stroke="#9aa8d4" stroke-width="0.40"/>
<line x1="55.32" y1="540.00" x2="55.32" y2="539.20" stroke="#9aa8d4" stroke-width="0.40"/>
<line x1="57.34" y1="540.00" x2="57.34" y2="539.20" stroke="#9aa8d4" stroke-width="0.40"/>
<line x1="59.35" y1="540.00" x2="59.35" y2="539.20" stroke="#9aa8d4" stroke-width="0.40"/>
<line x1="61.36" y1="540.00" x2="61.36" y2="539.20" stroke="#9aa8d4" stroke-width="0.40"/>
<line x1="63.38" y1="540.00" x2="63.38" y2="539.20" stroke="#9aa8d4" stroke-width="0.40"/>
<line x1="65.39" y1="540.00" x2="65.39" y2="539.20" stroke="#9aa8d4" stroke-width="0.40"/>
<line x1="67.40" y1="540.00" x2="67.40" y2="539.20" stroke="#9aa8d4" stroke-width="0.40"/>
<line x1="69.41" y1="540.00" x2="69.41" y2="539.20" stroke="#9aa8d4" stroke-width="0.40"/>
<line x1="71.42" y1="540.00" x2="71.42" y2="539.20" stroke="#9aa8d4" stroke-width="0.40"/>
<line x1="73.44" y1="540.00" x2="73.44" y2="539.20" stroke="#9aa8d4" stroke-width="0.40"/>
<line x1="75.45" y1="540.00" x2="75.45" y2="539.20" stroke="#9aa8d4" stroke-width="0.40"/>
<line x1="77.46" y1="540.00" x2="77.46" y2="539.20" stroke="#9aa8d4" stroke-width="0.40"/>
<line x1="79.47" y1="540.00" x2="79.47" y2="539.20" stroke="#9aa8d4" stroke-width="0.40"/>
<line x1="81.49" y1="540.00" x2="81.49" y2="539.20" stroke="#9aa8d4" stroke-width="0.40"/>
<ellipse cx="61.20" cy="529.80" rx="8.40" ry="6.40" transform="rotate(0.0 61.20 529.80)" fill="none" stroke="#4444d2" stroke-opacity="0.9" stroke-width="0.55"/>
<ellipse cx="61.20" cy="530.30" rx="6.60" ry="5.00" transform="rotate(0.0 61.20 530.30)" fill="none" stroke="#4444d2" stroke-opacity="0.9" stroke-width="0.55"/>
<ellipse cx="60.50" cy="526.00" rx="4.20" ry="2.40" transform="rotate(0.0 60.50 526.00)" fill="none" stroke="#4444d2" stroke-opacity="0.9" stroke-width="0.55"/>
<ellipse cx="61.10" cy="531.70" rx="4.20" ry="3.50" transform="rotate(0.0 61.10 531.70)" fill="url(#blob)"/>
<text x="51.70" y="517.12" font-size="4.00" font-weight="bold" fill="#1a1a1a" textLength="11.20" lengthAdjust="spacingAndGlyphs">0.07%</text>
<text x="84.70" y="517.12" font-size="4.00" text-anchor="end" font-weight="bold" fill="#1a1a1a" textLength="11.20" lengthAdjust="spacingAndGlyphs">0.31%</text>
<text x="51.70" y="538.42" font-size="4.00" font-weight="bold" fill="#1a1a1a" textLength="13.20" lengthAdjust="spacingAndGlyphs">89.79%</text>
<text x="84.90" y="538.42" font-size="4.00" text-anchor="end" font-weight="bold" fill="#1a1a1a" textLength="11.20" lengthAdjust="spacingAndGlyphs">3.88%</text>
<text x="41.10" y="515.66" font-size="4.90" fill="#4848a0" textLength="4.30" lengthAdjust="spacingAndGlyphs">10</text>
<text x="45.45" y="513.61" font-size="2.70" fill="#4848a0">4</text>
<text x="41.10" y="523.83" font-size="4.90" fill="#4848a0" textLength="4.30" lengthAdjust="spacingAndGlyphs">10</text>
<text x="45.45" y="521.77" font-size="2.70" fill="#4848a0">3</text>
<text x="41.10" y="532.00" font-size="4.90" fill="#4848a0" textLength="4.30" lengthAdjust="spacingAndGlyphs">10</text>
<text x="45.45" y="529.94" font-size="2.70" fill="#4848a0">2</text>
<text x="41.10" y="540.16" font-size="4.90" fill="#4848a0" textLength="4.30" lengthAdjust="spacingAndGlyphs">10</text>
<text x="45.45" y="538.11" font-size="2.70" fill="#4848a0">1</text>
<text x="50.70" y="547.46" font-size="4.90" fill="#4848a0" textLength="4.30" lengthAdjust="spacingAndGlyphs">10</text>
<text x="55.05" y="545.41" font-size="2.70" fill="#4848a0">1</text>
<text x="59.20" y="547.46" font-size="4.90" fill="#4848a0" textLength="4.30" lengthAdjust="spacingAndGlyphs">10</text>
<text x="63.55" y="545.41" font-size="2.70" fill="#4848a0">2</text>
<text x="69.70" y="547.46" font-size="4.90" fill="#4848a0" textLength="4.30" lengthAdjust="spacingAndGlyphs">10</text>
<text x="74.05" y="545.41" font-size="2.70" fill="#4848a0">3</text>
<text x="79.70" y="547.46" font-size="4.90" fill="#4848a0" textLength="4.30" lengthAdjust="spacingAndGlyphs">10</text>
<text x="84.05" y="545.41" font-size="2.70" fill="#4848a0">4</text>
<line x1="65.60" y1="555.80" x2="65.60" y2="585.20" stroke="#9a9a9a" stroke-width="0.80"/>
<line x1="51.30" y1="571.20" x2="83.50" y2="571.20" stroke="#9a9a9a" stroke-width="0.80"/>
<line x1="51.30" y1="555.80" x2="51.30" y2="585.20" stroke="#6f86bd" stroke-width="1.00"/>
<line x1="51.30" y1="585.20" x2="83.50" y2="585.20" stroke="#6f86bd" stroke-width="1.00"/>
<line x1="51.30" y1="557.64" x2="52.10" y2="557.64" stroke="#9aa8d4" stroke-width="0.40"/>
<line x1="51.30" y1="559.47" x2="52.10" y2="559.47" stroke="#9aa8d4" stroke-width="0.40"/>
<line x1="51.30" y1="561.31" x2="52.10" y2="561.31" stroke="#9aa8d4" stroke-width="0.40"/>
<line x1="51.30" y1="563.15" x2="52.10" y2="563.15" stroke="#9aa8d4" stroke-width="0.40"/>
<line x1="51.30" y1="564.99" x2="52.10" y2="564.99" stroke="#9aa8d4" stroke-width="0.40"/>
<line x1="51.30" y1="566.83" x2="52.10" y2="566.83" stroke="#9aa8d4" stroke-width="0.40"/>
<line x1="51.30" y1="568.66" x2="52.10" y2="568.66" stroke="#9aa8d4" stroke-width="0.40"/>
<line x1="51.30" y1="570.50" x2="52.10" y2="570.50" stroke="#9aa8d4" stroke-width="0.40"/>
<line x1="51.30" y1="572.34" x2="52.10" y2="572.34" stroke="#9aa8d4" stroke-width="0.40"/>
<line x1="51.30" y1="574.17" x2="52.10" y2="574.17" stroke="#9aa8d4" stroke-width="0.40"/>
<line x1="51.30" y1="576.01" x2="52.10" y2="576.01" stroke="#9aa8d4" stroke-width="0.40"/>
<line x1="51.30" y1="577.85" x2="52.10" y2="577.85" stroke="#9aa8d4" stroke-width="0.40"/>
<line x1="51.30" y1="579.69" x2="52.10" y2="579.69" stroke="#9aa8d4" stroke-width="0.40"/>
<line x1="51.30" y1="581.53" x2="52.10" y2="581.53" stroke="#9aa8d4" stroke-width="0.40"/>
<line x1="51.30" y1="583.36" x2="52.10" y2="583.36" stroke="#9aa8d4" stroke-width="0.40"/>
<line x1="53.31" y1="585.20" x2="53.31" y2="584.40" stroke="#9aa8d4" stroke-width="0.40"/>
<line x1="55.32" y1="585.20" x2="55.32" y2="584.40" stroke="#9aa8d4" stroke-width="0.40"/>
<line x1="57.34" y1="585.20" x2="57.34" y2="584.40" stroke="#9aa8d4" stroke-width="0.40"/>
<line x1="59.35" y1="585.20" x2="59.35" y2="584.40" stroke="#9aa8d4" stroke-width="0.40"/>
<line x1="61.36" y1="585.20" x2="61.36" y2="584.40" stroke="#9aa8d4" stroke-width="0.40"/>
<line x1="63.38" y1="585.20" x2="63.38" y2="584.40" stroke="#9aa8d4" stroke-width="0.40"/>
<line x1="65.39" y1="585.20" x2="65.39" y2="584.40" stroke="#9aa8d4" stroke-width="0.40"/>
<line x1="67.40" y1="585.20" x2="67.40" y2="584.40" stroke="#9aa8d4" stroke-width="0.40"/>
<line x1="69.41" y1="585.20" x2="69.41" y2="584.40" stroke="#9aa8d4" stroke-width="0.40"/>
<line x1="71.42" y1="585.20" x2="71.42" y2="584.40" stroke="#9aa8d4" stroke-width="0.40"/>
<line x1="73.44" y1="585.20" x2="73.44" y2="584.40" stroke="#9aa8d4" stroke-width="0.40"/>
<line x1="75.45" y1="585.20" x2="75.45" y2="584.40" stroke="#9aa8d4" stroke-width="0.40"/>
<line x1="77.46" y1="585.20" x2="77.46" y2="584.40" stroke="#9aa8d4" stroke-width="0.40"/>
<line x1="79.47" y1="585.20" x2="79.47" y2="584.40" stroke="#9aa8d4" stroke-width="0.40"/>
<line x1="81.49" y1="585.20" x2="81.49" y2="584.40" stroke="#9aa8d4" stroke-width="0.40"/>
<ellipse cx="61.80" cy="574.00" rx="8.20" ry="6.20" transform="rotate(0.0 61.80 574.00)" fill="none" stroke="#4444d2" stroke-opacity="0.9" stroke-width="0.55"/>
<ellipse cx="61.50" cy="574.60" rx="6.40" ry="4.80" transform="rotate(0.0 61.50 574.60)" fill="none" stroke="#4444d2" stroke-opacity="0.9" stroke-width="0.55"/>
<ellipse cx="60.50" cy="569.50" rx="4.20" ry="2.40" transform="rotate(0.0 60.50 569.50)" fill="none" stroke="#4444d2" stroke-opacity="0.9" stroke-width="0.55"/>
<ellipse cx="61.00" cy="575.60" rx="4.30" ry="3.50" transform="rotate(0.0 61.00 575.60)" fill="url(#blob)"/>
<text x="51.70" y="559.62" font-size="4.00" font-weight="bold" fill="#1a1a1a" textLength="11.20" lengthAdjust="spacingAndGlyphs">5.14%</text>
<text x="84.70" y="559.62" font-size="4.00" text-anchor="end" font-weight="bold" fill="#1a1a1a" textLength="11.20" lengthAdjust="spacingAndGlyphs">0.19%</text>
<text x="51.70" y="583.62" font-size="4.00" font-weight="bold" fill="#1a1a1a" textLength="13.20" lengthAdjust="spacingAndGlyphs">89.27%</text>
<text x="84.90" y="583.62" font-size="4.00" text-anchor="end" font-weight="bold" fill="#1a1a1a" textLength="11.20" lengthAdjust="spacingAndGlyphs">1.40%</text>
<text x="41.10" y="558.16" font-size="4.90" fill="#4848a0" textLength="4.30" lengthAdjust="spacingAndGlyphs">10</text>
<text x="45.45" y="556.11" font-size="2.70" fill="#4848a0">4</text>
<text x="41.10" y="567.23" font-size="4.90" fill="#4848a0" textLength="4.30" lengthAdjust="spacingAndGlyphs">10</text>
<text x="45.45" y="565.17" font-size="2.70" fill="#4848a0">3</text>
<text x="41.10" y="576.30" font-size="4.90" fill="#4848a0" textLength="4.30" lengthAdjust="spacingAndGlyphs">10</text>
<text x="45.45" y="574.24" font-size="2.70" fill="#4848a0">2</text>
<text x="41.10" y="585.36" font-size="4.90" fill="#4848a0" textLength="4.30" lengthAdjust="spacingAndGlyphs">10</text>
<text x="45.45" y="583.31" font-size="2.70" fill="#4848a0">1</text>
<text x="50.70" y="592.46" font-size="4.90" fill="#4848a0" textLength="4.30" lengthAdjust="spacingAndGlyphs">10</text>
<text x="55.05" y="590.41" font-size="2.70" fill="#4848a0">1</text>
<text x="59.20" y="592.46" font-size="4.90" fill="#4848a0" textLength="4.30" lengthAdjust="spacingAndGlyphs">10</text>
<text x="63.55" y="590.41" font-size="2.70" fill="#4848a0">2</text>
<text x="69.70" y="592.46" font-size="4.90" fill="#4848a0" textLength="4.30" lengthAdjust="spacingAndGlyphs">10</text>
<text x="74.05" y="590.41" font-size="2.70" fill="#4848a0">3</text>
<text x="79.70" y="592.46" font-size="4.90" fill="#4848a0" textLength="4.30" lengthAdjust="spacingAndGlyphs">10</text>
<text x="84.05" y="590.41" font-size="2.70" fill="#4848a0">4</text>
<text x="67.30" y="603.30" font-size="7.60" text-anchor="middle" fill="#222" stroke="#222" stroke-width="0.22" textLength="10.80" lengthAdjust="spacingAndGlyphs">CD38</text>
<line x1="130.70" y1="236.20" x2="130.70" y2="341.20" stroke="#111" stroke-width="1.00"/>
<line x1="128.10" y1="238.60" x2="130.70" y2="238.60" stroke="#111" stroke-width="0.90"/>
<text x="124.40" y="241.09" font-size="7.00" text-anchor="end" fill="#222" stroke="#222" stroke-width="0.22" textLength="7.00" lengthAdjust="spacingAndGlyphs">80</text>
<line x1="128.10" y1="264.25" x2="130.70" y2="264.25" stroke="#111" stroke-width="0.90"/>
<text x="124.40" y="266.74" font-size="7.00" text-anchor="end" fill="#222" stroke="#222" stroke-width="0.22" textLength="7.00" lengthAdjust="spacingAndGlyphs">60</text>
<line x1="128.10" y1="289.90" x2="130.70" y2="289.90" stroke="#111" stroke-width="0.90"/>
<text x="124.40" y="292.38" font-size="7.00" text-anchor="end" fill="#222" stroke="#222" stroke-width="0.22" textLength="7.00" lengthAdjust="spacingAndGlyphs">40</text>
<line x1="128.10" y1="315.55" x2="130.70" y2="315.55" stroke="#111" stroke-width="0.90"/>
<text x="124.40" y="318.04" font-size="7.00" text-anchor="end" fill="#222" stroke="#222" stroke-width="0.22" textLength="7.00" lengthAdjust="spacingAndGlyphs">20</text>
<line x1="128.10" y1="341.20" x2="130.70" y2="341.20" stroke="#111" stroke-width="0.90"/>
<text x="124.40" y="343.69" font-size="7.00" text-anchor="end" fill="#222" stroke="#222" stroke-width="0.22" textLength="3.50" lengthAdjust="spacingAndGlyphs">0</text>
<line x1="130.70" y1="341.20" x2="218.40" y2="341.20" stroke="#111" stroke-width="1.00"/>
<line x1="145.30" y1="341.20" x2="145.30" y2="343.80" stroke="#111" stroke-width="0.90"/>
<line x1="174.60" y1="341.20" x2="174.60" y2="343.80" stroke="#111" stroke-width="0.90"/>
<line x1="203.40" y1="341.20" x2="203.40" y2="343.80" stroke="#111" stroke-width="0.90"/>
<text transform="translate(108.40 288.30) rotate(-90)" x="0" y="2.70" font-size="7.60" text-anchor="middle" fill="#111" stroke="#111" stroke-width="0.22" textLength="37.00" lengthAdjust="spacingAndGlyphs">% CD8+ cells</text>
<text x="136.60" y="353.17" font-size="6.40" fill="#222" stroke="#222" stroke-width="0.22" textLength="18.00" lengthAdjust="spacingAndGlyphs">CD69</text>
<text x="166.80" y="353.17" font-size="6.40" fill="#222" stroke="#222" stroke-width="0.22" textLength="15.50" lengthAdjust="spacingAndGlyphs">GITR</text>
<text x="192.90" y="353.17" font-size="6.40" fill="#222" stroke="#222" stroke-width="0.22" textLength="20.60" lengthAdjust="spacingAndGlyphs">CD137</text>
<rect x="128.80" y="364.50" width="12.00" height="4.60" fill="#62ad3c" stroke="none" stroke-width="1.00"/>
<text x="143.70" y="368.86" font-size="5.80" fill="#222" stroke="#222" stroke-width="0.22" textLength="14.00" lengthAdjust="spacingAndGlyphs">No Tx.</text>
<rect x="167.30" y="364.50" width="12.00" height="4.60" fill="#b4163c" stroke="none" stroke-width="1.00"/>
<text x="182.30" y="368.86" font-size="5.80" fill="#222" stroke="#222" stroke-width="0.22" textLength="7.40" lengthAdjust="spacingAndGlyphs">+D</text>
<rect x="198.50" y="364.50" width="12.00" height="4.60" fill="#1f4589" stroke="none" stroke-width="1.00"/>
<text x="214.00" y="368.86" font-size="5.80" fill="#222" stroke="#222" stroke-width="0.22" textLength="8.00" lengthAdjust="spacingAndGlyphs">+K</text>
<circle cx="137.50" cy="327.50" r="1.60" fill="#62ad3c"/>
<circle cx="135.40" cy="329.60" r="1.60" fill="#62ad3c"/>
<circle cx="139.60" cy="329.40" r="1.60" fill="#62ad3c"/>
<circle cx="135.60" cy="333.20" r="1.60" fill="#62ad3c"/>
<circle cx="139.20" cy="333.00" r="1.60" fill="#62ad3c"/>
<line x1="134.00" y1="330.40" x2="141.20" y2="330.40" stroke="#333" stroke-width="1.00"/>
<rect x="142.65" y="328.95" width="3.10" height="3.10" fill="#b4163c"/>
<rect x="145.05" y="328.45" width="3.10" height="3.10" fill="#b4163c"/>
<rect x="143.45" y="331.45" width="3.10" height="3.10" fill="#b4163c"/>
<rect x="146.05" y="331.25" width="3.10" height="3.10" fill="#b4163c"/>
<rect x="144.85" y="333.75" width="3.10" height="3.10" fill="#b4163c"/>
<line x1="143.00" y1="332.50" x2="149.00" y2="332.50" stroke="#333" stroke-width="1.00"/>
<path d="M153.00 332.91L154.75 336.06L151.25 336.06Z" fill="#1f4589"/>
<path d="M155.20 333.31L156.95 336.46L153.45 336.46Z" fill="#1f4589"/>
<path d="M153.20 335.51L154.95 338.66L151.45 338.66Z" fill="#1f4589"/>
<path d="M155.80 335.71L157.55 338.86L154.05 338.86Z" fill="#1f4589"/>
<path d="M154.40 334.11L156.15 337.26L152.65 337.26Z" fill="#1f4589"/>
<line x1="151.40" y1="335.90" x2="157.00" y2="335.90" stroke="#333" stroke-width="1.00"/>
<circle cx="166.50" cy="301.80" r="1.60" fill="#62ad3c"/>
<circle cx="164.60" cy="303.60" r="1.60" fill="#62ad3c"/>
<circle cx="168.60" cy="303.20" r="1.60" fill="#62ad3c"/>
<circle cx="164.60" cy="308.50" r="1.60" fill="#62ad3c"/>
<circle cx="168.40" cy="308.50" r="1.60" fill="#62ad3c"/>
<circle cx="166.40" cy="310.00" r="1.60" fill="#62ad3c"/>
<line x1="163.20" y1="305.80" x2="170.20" y2="305.80" stroke="#333" stroke-width="1.00"/>
<rect x="170.85" y="296.65" width="3.10" height="3.10" fill="#b4163c"/>
<rect x="171.25" y="299.45" width="3.10" height="3.10" fill="#b4163c"/>
<rect x="174.05" y="301.05" width="3.10" height="3.10" fill="#b4163c"/>
<rect x="171.85" y="302.95" width="3.10" height="3.10" fill="#b4163c"/>
<rect x="174.65" y="303.45" width="3.10" height="3.10" fill="#b4163c"/>
<rect x="172.65" y="308.05" width="3.10" height="3.10" fill="#b4163c"/>
<line x1="171.00" y1="303.60" x2="177.80" y2="303.60" stroke="#333" stroke-width="1.00"/>
<path d="M182.60 291.71L184.35 294.86L180.85 294.86Z" fill="#1f4589"/>
<path d="M182.40 296.51L184.15 299.66L180.65 299.66Z" fill="#1f4589"/>
<path d="M184.60 299.31L186.35 302.46L182.85 302.46Z" fill="#1f4589"/>
<path d="M181.40 301.71L183.15 304.86L179.65 304.86Z" fill="#1f4589"/>
<path d="M184.00 302.91L185.75 306.06L182.25 306.06Z" fill="#1f4589"/>
<path d="M182.40 307.51L184.15 310.66L180.65 310.66Z" fill="#1f4589"/>
<line x1="180.40" y1="301.90" x2="186.40" y2="301.90" stroke="#333" stroke-width="1.00"/>
<circle cx="194.60" cy="292.60" r="1.60" fill="#62ad3c"/>
<circle cx="193.60" cy="296.80" r="1.60" fill="#62ad3c"/>
<circle cx="196.60" cy="298.40" r="1.60" fill="#62ad3c"/>
<circle cx="194.20" cy="301.60" r="1.60" fill="#62ad3c"/>
<circle cx="196.20" cy="303.40" r="1.60" fill="#62ad3c"/>
<circle cx="194.10" cy="306.90" r="1.60" fill="#62ad3c"/>
<line x1="191.60" y1="300.40" x2="198.80" y2="300.40" stroke="#333" stroke-width="1.00"/>
<rect x="201.85" y="268.85" width="3.10" height="3.10" fill="#b4163c"/>
<rect x="203.05" y="272.65" width="3.10" height="3.10" fill="#b4163c"/>
<rect x="201.05" y="274.05" width="3.10" height="3.10" fill="#b4163c"/>
<rect x="202.45" y="275.65" width="3.10" height="3.10" fill="#b4163c"/>
<rect x="201.05" y="276.65" width="3.10" height="3.10" fill="#b4163c"/>
<line x1="200.00" y1="275.80" x2="206.00" y2="275.80" stroke="#333" stroke-width="1.00"/>
<path d="M195.20 263.60L195.20 261.40L203.60 261.40L203.60 263.60" fill="none" stroke="#1a1a1a" stroke-width="1.00"/>
<circle cx="199.30" cy="258.50" r="0.55" fill="#222"/>
<path d="M211.70 306.81L213.45 309.96L209.95 309.96Z" fill="#1f4589"/>
<path d="M211.60 309.31L213.35 312.46L209.85 312.46Z" fill="#1f4589"/>
<path d="M210.20 310.91L211.95 314.06L208.45 314.06Z" fill="#1f4589"/>
<path d="M212.90 316.01L214.65 319.16L211.15 319.16Z" fill="#1f4589"/>
<path d="M210.60 319.21L212.35 322.36L208.85 322.36Z" fill="#1f4589"/>
<line x1="208.30" y1="314.20" x2="214.60" y2="314.20" stroke="#333" stroke-width="1.00"/>
<line x1="343.20" y1="205.40" x2="343.20" y2="341.20" stroke="#111" stroke-width="1.00"/>
<line x1="340.60" y1="207.90" x2="343.20" y2="207.90" stroke="#111" stroke-width="0.90"/>
<text x="337.70" y="210.38" font-size="7.00" text-anchor="end" fill="#222" stroke="#222" stroke-width="0.22" textLength="7.00" lengthAdjust="spacingAndGlyphs">20</text>
<line x1="340.60" y1="241.22" x2="343.20" y2="241.22" stroke="#111" stroke-width="0.90"/>
<text x="337.70" y="243.71" font-size="7.00" text-anchor="end" fill="#222" stroke="#222" stroke-width="0.22" textLength="7.00" lengthAdjust="spacingAndGlyphs">15</text>
<line x1="340.60" y1="274.55" x2="343.20" y2="274.55" stroke="#111" stroke-width="0.90"/>
<text x="337.70" y="277.03" font-size="7.00" text-anchor="end" fill="#222" stroke="#222" stroke-width="0.22" textLength="7.00" lengthAdjust="spacingAndGlyphs">10</text>
<line x1="340.60" y1="307.88" x2="343.20" y2="307.88" stroke="#111" stroke-width="0.90"/>
<text x="337.70" y="310.36" font-size="7.00" text-anchor="end" fill="#222" stroke="#222" stroke-width="0.22" textLength="3.50" lengthAdjust="spacingAndGlyphs">5</text>
<line x1="340.60" y1="341.20" x2="343.20" y2="341.20" stroke="#111" stroke-width="0.90"/>
<text x="337.70" y="343.69" font-size="7.00" text-anchor="end" fill="#222" stroke="#222" stroke-width="0.22" textLength="3.50" lengthAdjust="spacingAndGlyphs">0</text>
<line x1="343.20" y1="341.20" x2="494.80" y2="341.20" stroke="#111" stroke-width="1.00"/>
<line x1="359.90" y1="341.20" x2="359.90" y2="343.80" stroke="#111" stroke-width="0.90"/>
<line x1="389.20" y1="341.20" x2="389.20" y2="343.80" stroke="#111" stroke-width="0.90"/>
<line x1="418.60" y1="341.20" x2="418.60" y2="343.80" stroke="#111" stroke-width="0.90"/>
<line x1="448.00" y1="341.20" x2="448.00" y2="343.80" stroke="#111" stroke-width="0.90"/>
<line x1="477.80" y1="341.20" x2="477.80" y2="343.80" stroke="#111" stroke-width="0.90"/>
<text transform="translate(321.40 268.90) rotate(-90)" x="0" y="2.70" font-size="7.60" text-anchor="middle" fill="#111" stroke="#111" stroke-width="0.22" textLength="36.50" lengthAdjust="spacingAndGlyphs">% CD8+ cells</text>
<text x="351.70" y="353.74" font-size="6.30" fill="#222" stroke="#222" stroke-width="0.22" textLength="16.00" lengthAdjust="spacingAndGlyphs">TIGIT</text>
<text x="380.90" y="353.74" font-size="6.30" fill="#222" stroke="#222" stroke-width="0.22" textLength="16.40" lengthAdjust="spacingAndGlyphs">LAG3</text>
<text x="408.30" y="353.74" font-size="6.30" fill="#222" stroke="#222" stroke-width="0.22" textLength="21.20" lengthAdjust="spacingAndGlyphs">CD244</text>
<text x="442.50" y="353.74" font-size="6.30" fill="#222" stroke="#222" stroke-width="0.22" textLength="11.50" lengthAdjust="spacingAndGlyphs">PD1</text>
<text x="468.60" y="353.74" font-size="6.30" fill="#222" stroke="#222" stroke-width="0.22" textLength="18.60" lengthAdjust="spacingAndGlyphs">CTLA4</text>
<rect x="373.80" y="364.70" width="11.60" height="4.60" fill="#62ad3c" stroke="none" stroke-width="1.00"/>
<text x="389.90" y="369.06" font-size="5.80" fill="#222" stroke="#222" stroke-width="0.22" textLength="12.30" lengthAdjust="spacingAndGlyphs">No Tx.</text>
<rect x="412.30" y="364.70" width="11.60" height="4.60" fill="#b4163c" stroke="none" stroke-width="1.00"/>
<text x="427.50" y="369.06" font-size="5.80" fill="#222" stroke="#222" stroke-width="0.22" textLength="7.60" lengthAdjust="spacingAndGlyphs">+D</text>
<rect x="443.80" y="364.70" width="11.60" height="4.60" fill="#1f4589" stroke="none" stroke-width="1.00"/>
<text x="459.00" y="369.06" font-size="5.80" fill="#222" stroke="#222" stroke-width="0.22" textLength="6.90" lengthAdjust="spacingAndGlyphs">+K</text>
<circle cx="352.80" cy="310.50" r="1.60" fill="#62ad3c"/>
<circle cx="349.50" cy="315.80" r="1.60" fill="#62ad3c"/>
<circle cx="353.10" cy="317.40" r="1.60" fill="#62ad3c"/>
<circle cx="350.80" cy="319.30" r="1.60" fill="#62ad3c"/>
<circle cx="349.10" cy="322.30" r="1.60" fill="#62ad3c"/>
<line x1="351.30" y1="314.50" x2="351.30" y2="319.50" stroke="#62ad3c" stroke-width="0.90"/>
<line x1="349.70" y1="314.50" x2="352.90" y2="314.50" stroke="#62ad3c" stroke-width="0.90"/>
<line x1="349.70" y1="319.50" x2="352.90" y2="319.50" stroke="#62ad3c" stroke-width="0.90"/>
<line x1="347.00" y1="317.00" x2="355.60" y2="317.00" stroke="#222" stroke-width="1.00"/>
<rect x="358.15" y="312.25" width="3.10" height="3.10" fill="#b4163c"/>
<rect x="356.55" y="317.45" width="3.10" height="3.10" fill="#b4163c"/>
<rect x="359.75" y="319.45" width="3.10" height="3.10" fill="#b4163c"/>
<rect x="357.55" y="320.75" width="3.10" height="3.10" fill="#b4163c"/>
<rect x="358.15" y="326.65" width="3.10" height="3.10" fill="#b4163c"/>
<line x1="359.70" y1="318.50" x2="359.70" y2="324.00" stroke="#b4163c" stroke-width="0.90"/>
<line x1="358.10" y1="318.50" x2="361.30" y2="318.50" stroke="#b4163c" stroke-width="0.90"/>
<line x1="358.10" y1="324.00" x2="361.30" y2="324.00" stroke="#b4163c" stroke-width="0.90"/>
<line x1="355.40" y1="321.30" x2="364.00" y2="321.30" stroke="#222" stroke-width="1.00"/>
<path d="M368.60 292.31L370.35 295.46L366.85 295.46Z" fill="#1f4589"/>
<path d="M367.10 295.81L368.85 298.96L365.35 298.96Z" fill="#1f4589"/>
<path d="M370.10 298.41L371.85 301.56L368.35 301.56Z" fill="#1f4589"/>
<path d="M370.10 303.71L371.85 306.86L368.35 306.86Z" fill="#1f4589"/>
<path d="M366.60 306.01L368.35 309.16L364.85 309.16Z" fill="#1f4589"/>
<line x1="368.60" y1="298.00" x2="368.60" y2="303.20" stroke="#1f4589" stroke-width="0.90"/>
<line x1="367.00" y1="298.00" x2="370.20" y2="298.00" stroke="#1f4589" stroke-width="0.90"/>
<line x1="367.00" y1="303.20" x2="370.20" y2="303.20" stroke="#1f4589" stroke-width="0.90"/>
<line x1="364.30" y1="300.70" x2="372.90" y2="300.70" stroke="#222" stroke-width="1.00"/>
<circle cx="381.00" cy="233.80" r="1.60" fill="#62ad3c"/>
<circle cx="381.00" cy="238.80" r="1.60" fill="#62ad3c"/>
<circle cx="382.60" cy="243.70" r="1.60" fill="#62ad3c"/>
<circle cx="379.60" cy="246.60" r="1.60" fill="#62ad3c"/>
<circle cx="381.00" cy="267.30" r="1.60" fill="#62ad3c"/>
<line x1="381.00" y1="239.70" x2="381.00" y2="251.50" stroke="#62ad3c" stroke-width="0.90"/>
<line x1="379.40" y1="239.70" x2="382.60" y2="239.70" stroke="#62ad3c" stroke-width="0.90"/>
<line x1="379.40" y1="251.50" x2="382.60" y2="251.50" stroke="#62ad3c" stroke-width="0.90"/>
<line x1="376.70" y1="246.20" x2="385.30" y2="246.20" stroke="#222" stroke-width="1.00"/>
<rect x="388.25" y="249.95" width="3.10" height="3.10" fill="#b4163c"/>
<rect x="388.25" y="257.25" width="3.10" height="3.10" fill="#b4163c"/>
<rect x="389.85" y="263.75" width="3.10" height="3.10" fill="#b4163c"/>
<rect x="386.85" y="265.75" width="3.10" height="3.10" fill="#b4163c"/>
<rect x="388.25" y="278.45" width="3.10" height="3.10" fill="#b4163c"/>
<line x1="389.80" y1="259.50" x2="389.80" y2="268.50" stroke="#b4163c" stroke-width="0.90"/>
<line x1="388.20" y1="259.50" x2="391.40" y2="259.50" stroke="#b4163c" stroke-width="0.90"/>
<line x1="388.20" y1="268.50" x2="391.40" y2="268.50" stroke="#b4163c" stroke-width="0.90"/>
<line x1="385.50" y1="265.30" x2="394.10" y2="265.30" stroke="#222" stroke-width="1.00"/>
<path d="M398.00 236.91L399.75 240.06L396.25 240.06Z" fill="#1f4589"/>
<path d="M398.00 241.11L399.75 244.26L396.25 244.26Z" fill="#1f4589"/>
<path d="M398.00 250.61L399.75 253.76L396.25 253.76Z" fill="#1f4589"/>
<path d="M398.00 263.41L399.75 266.56L396.25 266.56Z" fill="#1f4589"/>
<line x1="398.00" y1="243.00" x2="398.00" y2="253.00" stroke="#1f4589" stroke-width="0.90"/>
<line x1="396.40" y1="243.00" x2="399.60" y2="243.00" stroke="#1f4589" stroke-width="0.90"/>
<line x1="396.40" y1="253.00" x2="399.60" y2="253.00" stroke="#1f4589" stroke-width="0.90"/>
<line x1="393.70" y1="248.20" x2="402.30" y2="248.20" stroke="#222" stroke-width="1.00"/>
<path d="M396.50 239.61L398.25 242.76L394.75 242.76Z" fill="#1f4589"/>
<path d="M399.50 239.11L401.25 242.26L397.75 242.26Z" fill="#1f4589"/>
<circle cx="410.40" cy="285.00" r="1.60" fill="#62ad3c"/>
<circle cx="410.40" cy="291.80" r="1.60" fill="#62ad3c"/>
<circle cx="408.90" cy="296.10" r="1.60" fill="#62ad3c"/>
<circle cx="411.90" cy="297.30" r="1.60" fill="#62ad3c"/>
<circle cx="410.40" cy="304.60" r="1.60" fill="#62ad3c"/>
<line x1="410.40" y1="292.50" x2="410.40" y2="298.00" stroke="#62ad3c" stroke-width="0.90"/>
<line x1="408.80" y1="292.50" x2="412.00" y2="292.50" stroke="#62ad3c" stroke-width="0.90"/>
<line x1="408.80" y1="298.00" x2="412.00" y2="298.00" stroke="#62ad3c" stroke-width="0.90"/>
<line x1="406.10" y1="295.20" x2="414.70" y2="295.20" stroke="#222" stroke-width="1.00"/>
<rect x="417.75" y="302.05" width="3.10" height="3.10" fill="#b4163c"/>
<rect x="417.75" y="307.95" width="3.10" height="3.10" fill="#b4163c"/>
<rect x="416.25" y="309.85" width="3.10" height="3.10" fill="#b4163c"/>
<rect x="417.75" y="315.75" width="3.10" height="3.10" fill="#b4163c"/>
<rect x="419.25" y="309.45" width="3.10" height="3.10" fill="#b4163c"/>
<line x1="419.30" y1="308.80" x2="419.30" y2="313.20" stroke="#b4163c" stroke-width="0.90"/>
<line x1="417.70" y1="308.80" x2="420.90" y2="308.80" stroke="#b4163c" stroke-width="0.90"/>
<line x1="417.70" y1="313.20" x2="420.90" y2="313.20" stroke="#b4163c" stroke-width="0.90"/>
<line x1="415.00" y1="311.00" x2="423.60" y2="311.00" stroke="#222" stroke-width="1.00"/>
<path d="M427.90 274.61L429.65 277.76L426.15 277.76Z" fill="#1f4589"/>
<path d="M426.40 277.11L428.15 280.26L424.65 280.26Z" fill="#1f4589"/>
<path d="M429.40 280.11L431.15 283.26L427.65 283.26Z" fill="#1f4589"/>
<path d="M425.50 288.91L427.25 292.06L423.75 292.06Z" fill="#1f4589"/>
<path d="M430.30 288.91L432.05 292.06L428.55 292.06Z" fill="#1f4589"/>
<line x1="427.90" y1="279.50" x2="427.90" y2="285.50" stroke="#1f4589" stroke-width="0.90"/>
<line x1="426.30" y1="279.50" x2="429.50" y2="279.50" stroke="#1f4589" stroke-width="0.90"/>
<line x1="426.30" y1="285.50" x2="429.50" y2="285.50" stroke="#1f4589" stroke-width="0.90"/>
<line x1="423.60" y1="282.40" x2="432.20" y2="282.40" stroke="#222" stroke-width="1.00"/>
<circle cx="437.60" cy="251.00" r="1.60" fill="#62ad3c"/>
<circle cx="442.50" cy="251.00" r="1.60" fill="#62ad3c"/>
<circle cx="439.60" cy="256.40" r="1.60" fill="#62ad3c"/>
<circle cx="439.60" cy="260.40" r="1.60" fill="#62ad3c"/>
<circle cx="439.60" cy="265.30" r="1.60" fill="#62ad3c"/>
<circle cx="439.60" cy="271.20" r="1.60" fill="#62ad3c"/>
<line x1="439.60" y1="256.00" x2="439.60" y2="263.50" stroke="#62ad3c" stroke-width="0.90"/>
<line x1="438.00" y1="256.00" x2="441.20" y2="256.00" stroke="#62ad3c" stroke-width="0.90"/>
<line x1="438.00" y1="263.50" x2="441.20" y2="263.50" stroke="#62ad3c" stroke-width="0.90"/>
<line x1="435.30" y1="259.40" x2="443.90" y2="259.40" stroke="#222" stroke-width="1.00"/>
<rect x="447.35" y="296.15" width="3.10" height="3.10" fill="#b4163c"/>
<rect x="447.35" y="303.95" width="3.10" height="3.10" fill="#b4163c"/>
<rect x="445.85" y="306.95" width="3.10" height="3.10" fill="#b4163c"/>
<rect x="448.85" y="307.95" width="3.10" height="3.10" fill="#b4163c"/>
<rect x="447.35" y="315.75" width="3.10" height="3.10" fill="#b4163c"/>
<line x1="448.90" y1="306.80" x2="448.90" y2="311.80" stroke="#b4163c" stroke-width="0.90"/>
<line x1="447.30" y1="306.80" x2="450.50" y2="306.80" stroke="#b4163c" stroke-width="0.90"/>
<line x1="447.30" y1="311.80" x2="450.50" y2="311.80" stroke="#b4163c" stroke-width="0.90"/>
<line x1="444.60" y1="309.10" x2="453.20" y2="309.10" stroke="#222" stroke-width="1.00"/>
<path d="M457.30 320.71L459.05 323.86L455.55 323.86Z" fill="#1f4589"/>
<path d="M455.30 323.31L457.05 326.46L453.55 326.46Z" fill="#1f4589"/>
<path d="M459.30 324.91L461.05 328.06L457.55 328.06Z" fill="#1f4589"/>
<path d="M455.50 329.11L457.25 332.26L453.75 332.26Z" fill="#1f4589"/>
<path d="M459.10 329.11L460.85 332.26L457.35 332.26Z" fill="#1f4589"/>
<line x1="457.30" y1="324.20" x2="457.30" y2="328.20" stroke="#1f4589" stroke-width="0.90"/>
<line x1="455.70" y1="324.20" x2="458.90" y2="324.20" stroke="#1f4589" stroke-width="0.90"/>
<line x1="455.70" y1="328.20" x2="458.90" y2="328.20" stroke="#1f4589" stroke-width="0.90"/>
<line x1="453.00" y1="326.20" x2="461.60" y2="326.20" stroke="#222" stroke-width="1.00"/>
<path d="M440.20 247.60L440.20 245.60L449.50 245.60L449.50 247.60" fill="none" stroke="#1a1a1a" stroke-width="1.00"/>
<circle cx="445.00" cy="243.00" r="0.55" fill="#222"/>
<path d="M440.20 241.10L440.20 239.10L458.30 239.10L458.30 241.10" fill="none" stroke="#1a1a1a" stroke-width="1.00"/>
<circle cx="449.50" cy="236.40" r="0.55" fill="#222"/>
<circle cx="469.50" cy="304.60" r="1.60" fill="#62ad3c"/>
<circle cx="469.50" cy="311.40" r="1.60" fill="#62ad3c"/>
<circle cx="468.00" cy="315.80" r="1.60" fill="#62ad3c"/>
<circle cx="471.00" cy="318.30" r="1.60" fill="#62ad3c"/>
<circle cx="469.50" cy="326.80" r="1.60" fill="#62ad3c"/>
<line x1="469.50" y1="312.50" x2="469.50" y2="319.00" stroke="#62ad3c" stroke-width="0.90"/>
<line x1="467.90" y1="312.50" x2="471.10" y2="312.50" stroke="#62ad3c" stroke-width="0.90"/>
<line x1="467.90" y1="319.00" x2="471.10" y2="319.00" stroke="#62ad3c" stroke-width="0.90"/>
<line x1="465.20" y1="315.80" x2="473.80" y2="315.80" stroke="#222" stroke-width="1.00"/>
<rect x="476.75" y="309.85" width="3.10" height="3.10" fill="#b4163c"/>
<rect x="475.25" y="317.35" width="3.10" height="3.10" fill="#b4163c"/>
<rect x="478.25" y="318.75" width="3.10" height="3.10" fill="#b4163c"/>
<rect x="476.75" y="325.65" width="3.10" height="3.10" fill="#b4163c"/>
<rect x="476.75" y="316.95" width="3.10" height="3.10" fill="#b4163c"/>
<line x1="478.30" y1="316.50" x2="478.30" y2="321.50" stroke="#b4163c" stroke-width="0.90"/>
<line x1="476.70" y1="316.50" x2="479.90" y2="316.50" stroke="#b4163c" stroke-width="0.90"/>
<line x1="476.70" y1="321.50" x2="479.90" y2="321.50" stroke="#b4163c" stroke-width="0.90"/>
<line x1="474.00" y1="318.90" x2="482.60" y2="318.90" stroke="#222" stroke-width="1.00"/>
<path d="M485.80 335.11L487.55 338.26L484.05 338.26Z" fill="#1f4589"/>
<path d="M488.20 335.41L489.95 338.56L486.45 338.56Z" fill="#1f4589"/>
<path d="M487.00 337.31L488.75 340.46L485.25 340.46Z" fill="#1f4589"/>
<path d="M484.60 337.51L486.35 340.66L482.85 340.66Z" fill="#1f4589"/>
<path d="M489.20 337.51L490.95 340.66L487.45 340.66Z" fill="#1f4589"/>
<line x1="482.50" y1="338.50" x2="491.10" y2="338.50" stroke="#222" stroke-width="1.00"/>
<line x1="130.20" y1="437.30" x2="130.20" y2="557.90" stroke="#111" stroke-width="1.00"/>
<line x1="127.60" y1="439.30" x2="130.20" y2="439.30" stroke="#111" stroke-width="0.90"/>
<text x="124.00" y="441.78" font-size="7.00" text-anchor="end" fill="#222" stroke="#222" stroke-width="0.22" textLength="7.00" lengthAdjust="spacingAndGlyphs">20</text>
<line x1="127.60" y1="468.95" x2="130.20" y2="468.95" stroke="#111" stroke-width="0.90"/>
<text x="124.00" y="471.44" font-size="7.00" text-anchor="end" fill="#222" stroke="#222" stroke-width="0.22" textLength="7.00" lengthAdjust="spacingAndGlyphs">15</text>
<line x1="127.60" y1="498.60" x2="130.20" y2="498.60" stroke="#111" stroke-width="0.90"/>
<text x="124.00" y="501.08" font-size="7.00" text-anchor="end" fill="#222" stroke="#222" stroke-width="0.22" textLength="7.00" lengthAdjust="spacingAndGlyphs">10</text>
<line x1="127.60" y1="528.25" x2="130.20" y2="528.25" stroke="#111" stroke-width="0.90"/>
<text x="124.00" y="530.74" font-size="7.00" text-anchor="end" fill="#222" stroke="#222" stroke-width="0.22" textLength="3.50" lengthAdjust="spacingAndGlyphs">5</text>
<line x1="127.60" y1="557.90" x2="130.20" y2="557.90" stroke="#111" stroke-width="0.90"/>
<text x="124.00" y="560.38" font-size="7.00" text-anchor="end" fill="#222" stroke="#222" stroke-width="0.22" textLength="3.50" lengthAdjust="spacingAndGlyphs">0</text>
<line x1="130.20" y1="557.90" x2="235.40" y2="557.90" stroke="#111" stroke-width="1.00"/>
<line x1="155.20" y1="557.90" x2="155.20" y2="560.50" stroke="#111" stroke-width="0.90"/>
<line x1="209.20" y1="557.90" x2="209.20" y2="560.50" stroke="#111" stroke-width="0.90"/>
<text transform="translate(108.40 497.50) rotate(-90)" x="0" y="2.70" font-size="7.60" text-anchor="middle" fill="#111" stroke="#111" stroke-width="0.22" textLength="36.00" lengthAdjust="spacingAndGlyphs">% PD1+ cells</text>
<text x="149.60" y="569.54" font-size="6.30" fill="#222" stroke="#222" stroke-width="0.22" textLength="11.60" lengthAdjust="spacingAndGlyphs">PD1</text>
<text x="193.80" y="569.54" font-size="6.30" fill="#222" stroke="#222" stroke-width="0.22" textLength="31.60" lengthAdjust="spacingAndGlyphs">CD38/PD1</text>
<rect x="137.00" y="581.50" width="11.50" height="4.60" fill="#62ad3c" stroke="none" stroke-width="1.00"/>
<text x="152.20" y="585.86" font-size="5.80" fill="#222" stroke="#222" stroke-width="0.22" textLength="14.50" lengthAdjust="spacingAndGlyphs">No Tx.</text>
<rect x="175.40" y="581.50" width="11.50" height="4.60" fill="#b4163c" stroke="none" stroke-width="1.00"/>
<text x="190.50" y="585.86" font-size="5.80" fill="#222" stroke="#222" stroke-width="0.22" textLength="7.70" lengthAdjust="spacingAndGlyphs">+D</text>
<rect x="207.30" y="581.50" width="11.50" height="4.60" fill="#1f4589" stroke="none" stroke-width="1.00"/>
<text x="222.00" y="585.86" font-size="5.80" fill="#222" stroke="#222" stroke-width="0.22" textLength="7.00" lengthAdjust="spacingAndGlyphs">+K</text>
<circle cx="140.60" cy="446.30" r="2.35" fill="#62ad3c"/>
<circle cx="140.60" cy="461.20" r="2.35" fill="#62ad3c"/>
<circle cx="140.60" cy="465.80" r="2.35" fill="#62ad3c"/>
<circle cx="140.60" cy="476.10" r="2.35" fill="#62ad3c"/>
<circle cx="140.60" cy="484.10" r="2.35" fill="#62ad3c"/>
<line x1="135.80" y1="465.80" x2="145.60" y2="465.80" stroke="#62ad3c" stroke-width="1.30"/>
<rect x="153.00" y="508.30" width="4.40" height="4.40" fill="#b4163c"/>
<rect x="153.00" y="517.00" width="4.40" height="4.40" fill="#b4163c"/>
<rect x="150.40" y="527.30" width="4.40" height="4.40" fill="#b4163c"/>
<rect x="153.40" y="527.30" width="4.40" height="4.40" fill="#b4163c"/>
<rect x="156.30" y="527.30" width="4.40" height="4.40" fill="#b4163c"/>
<path d="M167.60 541.41L170.00 545.73L165.20 545.73Z" fill="#1f4589"/>
<path d="M173.00 539.81L175.40 544.13L170.60 544.13Z" fill="#1f4589"/>
<path d="M167.60 546.41L170.00 550.73L165.20 550.73Z" fill="#1f4589"/>
<path d="M173.20 545.61L175.60 549.93L170.80 549.93Z" fill="#1f4589"/>
<path d="M170.40 543.61L172.80 547.93L168.00 547.93Z" fill="#1f4589"/>
<circle cx="195.10" cy="492.50" r="2.35" fill="#62ad3c"/>
<circle cx="195.10" cy="503.70" r="2.35" fill="#62ad3c"/>
<circle cx="192.40" cy="510.00" r="2.35" fill="#62ad3c"/>
<circle cx="198.40" cy="513.70" r="2.35" fill="#62ad3c"/>
<circle cx="192.40" cy="516.50" r="2.35" fill="#62ad3c"/>
<line x1="190.00" y1="510.00" x2="200.00" y2="510.00" stroke="#62ad3c" stroke-width="1.30"/>
<rect x="205.80" y="547.80" width="4.40" height="4.40" fill="#b4163c"/>
<rect x="210.80" y="546.00" width="4.40" height="4.40" fill="#b4163c"/>
<rect x="205.80" y="553.80" width="4.40" height="4.40" fill="#b4163c"/>
<rect x="210.80" y="553.60" width="4.40" height="4.40" fill="#b4163c"/>
<rect x="208.30" y="550.80" width="4.40" height="4.40" fill="#b4163c"/>
<path d="M222.30 542.81L224.70 547.13L219.90 547.13Z" fill="#1f4589"/>
<path d="M228.30 543.91L230.70 548.23L225.90 548.23Z" fill="#1f4589"/>
<path d="M225.00 546.61L227.40 550.93L222.60 550.93Z" fill="#1f4589"/>
<path d="M227.80 550.71L230.20 555.03L225.40 555.03Z" fill="#1f4589"/>
<path d="M222.30 554.41L224.70 558.73L219.90 558.73Z" fill="#1f4589"/>
<path d="M141.00 439.00L141.00 436.50L153.60 436.50L153.60 439.00" fill="none" stroke="#1a1a1a" stroke-width="1.00"/>
<circle cx="147.20" cy="433.70" r="0.55" fill="#222"/>
<path d="M141.00 432.10L141.00 429.60L166.20 429.60L166.20 432.10" fill="none" stroke="#1a1a1a" stroke-width="1.00"/>
<circle cx="153.60" cy="426.90" r="0.55" fill="#222"/>
<path d="M195.10 485.00L195.10 482.50L207.90 482.50L207.90 485.00" fill="none" stroke="#1a1a1a" stroke-width="1.00"/>
<circle cx="201.30" cy="479.70" r="0.55" fill="#222"/>
<path d="M195.10 478.10L195.10 475.60L220.10 475.60L220.10 478.10" fill="none" stroke="#1a1a1a" stroke-width="1.00"/>
<circle cx="207.40" cy="472.70" r="0.55" fill="#222"/>
<rect x="0.00" y="0.00" width="520.00" height="1.25" fill="#000" stroke="none" stroke-width="1.00"/>
<rect x="0.00" y="609.75" width="520.00" height="1.25" fill="#000" stroke="none" stroke-width="1.00"/>
<rect x="0.00" y="0.00" width="1.25" height="611.00" fill="#000" stroke="none" stroke-width="1.00"/>
<rect x="518.75" y="0.00" width="1.25" height="611.00" fill="#000" stroke="none" stroke-width="1.00"/>
</svg></body></html>
